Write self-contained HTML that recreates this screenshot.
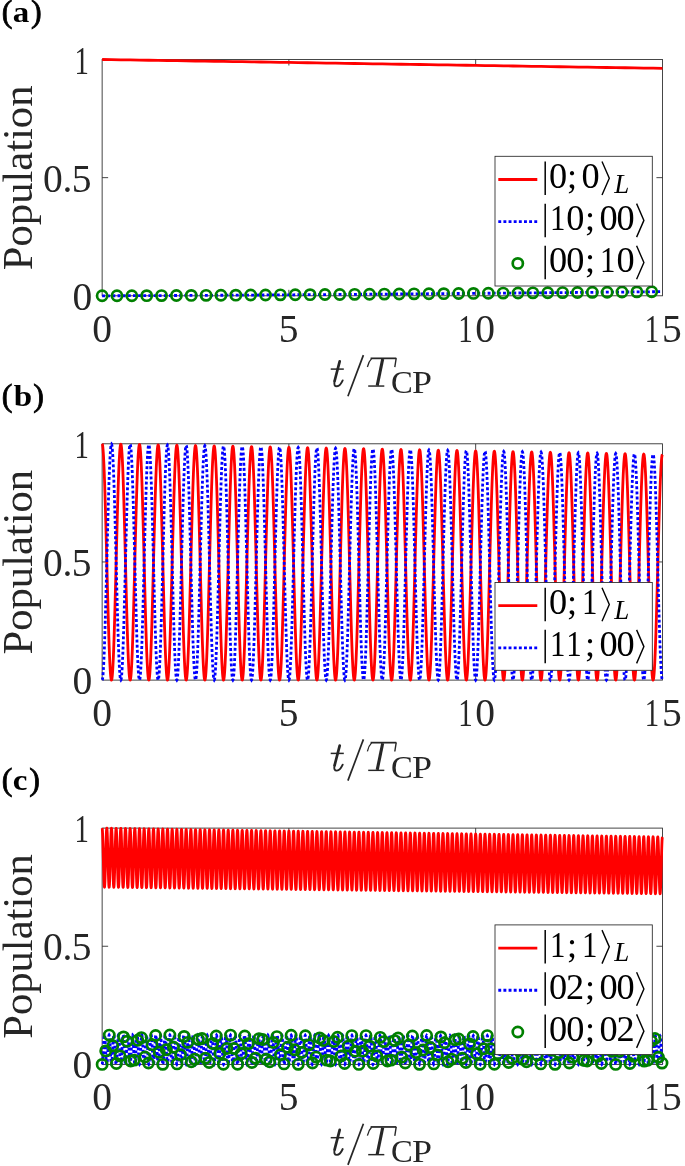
<!DOCTYPE html>
<html><head><meta charset="utf-8"><style>
html,body{margin:0;padding:0;background:#fff;}
svg{display:block;will-change:transform;}
text{font-family:"Liberation Serif",serif;fill:#000;}
circle{fill:none;stroke:#008000;stroke-width:2.7;}
</style></head><body>
<svg width="685" height="1166" viewBox="0 0 685 1166">
<rect width="685" height="1166" fill="#fff"/>
<path d="M288.89 295.80V289.80M288.89 59.50V65.50M475.66 295.80V289.80M475.66 59.50V65.50M102.13 177.65H108.13M662.43 177.65H656.43" stroke="#262626" stroke-width="0.85" fill="none"/>
<rect x="102.13" y="59.50" width="560.30" height="236.30" stroke="#262626" stroke-width="0.85" fill="none"/>
<path d="M102.13 59.5L111.47 59.65L120.81 59.8L130.14 59.94L139.48 60.09L148.82 60.24L158.16 60.39L167.5 60.53L176.84 60.68L186.17 60.83L195.51 60.98L204.85 61.12L214.19 61.27L223.53 61.42L232.87 61.57L242.2 61.72L251.54 61.86L260.88 62.01L270.22 62.16L279.56 62.31L288.9 62.45L298.23 62.6L307.57 62.75L316.91 62.9L326.25 63.04L335.59 63.19L344.92 63.34L354.26 63.49L363.6 63.64L372.94 63.78L382.28 63.93L391.62 64.08L400.95 64.23L410.29 64.37L419.63 64.52L428.97 64.67L438.31 64.82L447.65 64.96L456.98 65.11L466.32 65.26L475.66 65.41L485 65.56L494.34 65.7L503.67 65.85L513.01 66L522.35 66.15L531.69 66.29L541.03 66.44L550.37 66.59L559.7 66.74L569.04 66.88L578.38 67.03L587.72 67.18L597.06 67.33L606.4 67.48L615.73 67.62L625.07 67.77L634.41 67.92L643.75 68.07L653.09 68.21L662.42 68.36" stroke="#ff0000" stroke-width="2.8" fill="none"/>
<path d="M102.13 295.8L106.8 295.79L111.47 295.78L116.14 295.77L120.81 295.75L125.48 295.73L130.14 295.72L134.81 295.7L139.48 295.68L144.15 295.66L148.82 295.64L153.49 295.61L158.16 295.59L162.83 295.57L167.5 295.55L172.17 295.52L176.84 295.5L181.51 295.47L186.17 295.45L190.84 295.42L195.51 295.4L200.18 295.37L204.85 295.34L209.52 295.32L214.19 295.29L218.86 295.26L223.53 295.23L228.2 295.21L232.87 295.18L237.53 295.15L242.2 295.12L246.87 295.09L251.54 295.06L256.21 295.03L260.88 295L265.55 294.97L270.22 294.94L274.89 294.9L279.56 294.87L284.23 294.84L288.9 294.81L293.56 294.78L298.23 294.74L302.9 294.71L307.57 294.68L312.24 294.64L316.91 294.61L321.58 294.58L326.25 294.54L330.92 294.51L335.59 294.47L340.26 294.44L344.92 294.41L349.59 294.37L354.26 294.34L358.93 294.3L363.6 294.26L368.27 294.23L372.94 294.19L377.61 294.16L382.28 294.12L386.95 294.08L391.62 294.05L396.28 294.01L400.95 293.97L405.62 293.94L410.29 293.9L414.96 293.86L419.63 293.82L424.3 293.79L428.97 293.75L433.64 293.71L438.31 293.67L442.98 293.63L447.65 293.59L452.31 293.56L456.98 293.52L461.65 293.48L466.32 293.44L470.99 293.4L475.66 293.36L480.33 293.32L485 293.28L489.67 293.24L494.34 293.2L499.01 293.16L503.67 293.12L508.34 293.08L513.01 293.04L517.68 293L522.35 292.96L527.02 292.91L531.69 292.87L536.36 292.83L541.03 292.79L545.7 292.75L550.37 292.71L555.04 292.66L559.7 292.62L564.37 292.58L569.04 292.54L573.71 292.49L578.38 292.45L583.05 292.41L587.72 292.37L592.39 292.32L597.06 292.28L601.73 292.24L606.4 292.19L611.06 292.15L615.73 292.11L620.4 292.06L625.07 292.02L629.74 291.98L634.41 291.93L639.08 291.89L643.75 291.84L648.42 291.8L653.09 291.75L657.76 291.71L662.42 291.66" stroke="#0000ff" stroke-width="2.8" fill="none" stroke-dasharray="2.9 2.24"/>
<circle cx="102.13" cy="295.80" r="5.1"/><circle cx="116.98" cy="295.76" r="5.1"/><circle cx="131.84" cy="295.71" r="5.1"/><circle cx="146.69" cy="295.65" r="5.1"/><circle cx="161.55" cy="295.58" r="5.1"/><circle cx="176.40" cy="295.50" r="5.1"/><circle cx="191.25" cy="295.42" r="5.1"/><circle cx="206.11" cy="295.34" r="5.1"/><circle cx="220.96" cy="295.25" r="5.1"/><circle cx="235.81" cy="295.16" r="5.1"/><circle cx="250.67" cy="295.06" r="5.1"/><circle cx="265.52" cy="294.97" r="5.1"/><circle cx="280.38" cy="294.87" r="5.1"/><circle cx="295.23" cy="294.76" r="5.1"/><circle cx="310.08" cy="294.66" r="5.1"/><circle cx="324.94" cy="294.55" r="5.1"/><circle cx="339.79" cy="294.44" r="5.1"/><circle cx="354.64" cy="294.33" r="5.1"/><circle cx="369.50" cy="294.22" r="5.1"/><circle cx="384.35" cy="294.10" r="5.1"/><circle cx="399.21" cy="293.99" r="5.1"/><circle cx="414.06" cy="293.87" r="5.1"/><circle cx="428.91" cy="293.75" r="5.1"/><circle cx="443.77" cy="293.63" r="5.1"/><circle cx="458.62" cy="293.50" r="5.1"/><circle cx="473.47" cy="293.38" r="5.1"/><circle cx="488.33" cy="293.25" r="5.1"/><circle cx="503.18" cy="293.12" r="5.1"/><circle cx="518.04" cy="292.99" r="5.1"/><circle cx="532.89" cy="292.86" r="5.1"/><circle cx="547.74" cy="292.73" r="5.1"/><circle cx="562.60" cy="292.60" r="5.1"/><circle cx="577.45" cy="292.46" r="5.1"/><circle cx="592.31" cy="292.32" r="5.1"/><circle cx="607.16" cy="292.19" r="5.1"/><circle cx="622.01" cy="292.05" r="5.1"/><circle cx="636.87" cy="291.91" r="5.1"/><circle cx="651.72" cy="291.77" r="5.1"/>
<text transform="translate(74.47 73.80) scale(0.73 1)" style="font-size:39.5px;fill:#262626;">1</text><text x="43.10" y="191.80" style="font-size:39.5px;fill:#262626;">0</text><text x="62.40" y="191.80" style="font-size:39.5px;fill:#262626;">.</text><text x="71.80" y="191.80" style="font-size:39.5px;fill:#262626;">5</text><text x="72.40" y="309.80" style="font-size:39.5px;fill:#262626;">0</text><text x="92.30" y="341.70" style="font-size:39.5px;fill:#262626;">0</text><text x="278.80" y="341.70" style="font-size:39.5px;fill:#262626;">5</text><text transform="translate(458.27 341.70) scale(0.73 1)" style="font-size:39.5px;fill:#262626;">1</text><text x="475.30" y="341.70" style="font-size:39.5px;fill:#262626;">0</text><text transform="translate(644.77 341.70) scale(0.73 1)" style="font-size:39.5px;fill:#262626;">1</text><text x="661.90" y="341.70" style="font-size:39.5px;fill:#262626;">5</text><text transform="translate(31.9 177.85) rotate(-90)" text-anchor="middle" style="font-size:42.6px;fill:#262626">Population</text><path d="M339.7 361.30L334.6 381.00" stroke="#262626" stroke-width="2.7" stroke-linecap="round" fill="none"/><path d="M334.6 381.00Q333.4 386.40 336.9 386.30Q340.2 386.00 342.7 380.40" stroke="#262626" stroke-width="1.9" stroke-linecap="round" fill="none"/><path d="M330.7 369.10H343.8" stroke="#262626" stroke-width="1.5" fill="none"/><path d="M347.9 396.30L363.4 355.10" stroke="#262626" stroke-width="1.7"/><g stroke="#262626" fill="none"><path d="M370.6 358.35H396.3" stroke-width="1.75"/><path d="M371.6 358.60Q368.6 361.50 367.4 367.00" stroke-width="1.3"/><path d="M396.2 358.20L394.8 367.20" stroke-width="1.4"/><path d="M382.7 359.00L377.2 385.60" stroke-width="3.1"/><path d="M368.2 386.05H384.3" stroke-width="1.45"/></g><text x="390.96" y="393.20" style="font-size:32.6px;fill:#262626;">C</text><text transform="translate(412.07 393.20) scale(1.1 1)" style="font-size:32.6px;fill:#262626;">P</text>
<rect x="495" y="156.30" width="157.3" height="129.70" fill="#fff" stroke="#262626" stroke-width="0.85"/><path d="M498.3 179.50H537.3" stroke="#ff0000" stroke-width="2.8"/><path d="M545.2 161.50V195.00" stroke="#000" stroke-width="1.5"/><text x="548.92" y="188.10" style="font-size:36.3px;">0</text><text x="567.12" y="188.10" style="font-size:36.3px;">;</text><text x="581.62" y="188.10" style="font-size:36.3px;">0</text><path d="M602.00 161.50L609.30 178.25L602.00 195.00" stroke="#000" stroke-width="1.4" fill="none" stroke-miterlimit="10"/><text x="614.32" y="192.60" style="font-size:27px;font-style:italic;">L</text><path d="M498.3 221.65H537.3" stroke="#0000ff" stroke-width="2.8" stroke-dasharray="2.9 2.24"/><path d="M545.2 203.65V237.15" stroke="#000" stroke-width="1.5"/><text transform="translate(549.99 230.25) scale(0.85 1)" style="font-size:36.3px;">1</text><text x="566.22" y="230.25" style="font-size:36.3px;">0</text><text x="585.12" y="230.25" style="font-size:36.3px;">;</text><text x="599.62" y="230.25" style="font-size:36.3px;">0</text><text x="616.62" y="230.25" style="font-size:36.3px;">0</text><path d="M636.60 203.65L643.90 220.40L636.60 237.15" stroke="#000" stroke-width="1.4" fill="none" stroke-miterlimit="10"/><circle cx="517.8" cy="263.40" r="5.1" class="gc"/><path d="M545.2 245.80V279.30" stroke="#000" stroke-width="1.5"/><text x="549.12" y="272.40" style="font-size:36.3px;">0</text><text x="566.22" y="272.40" style="font-size:36.3px;">0</text><text x="585.12" y="272.40" style="font-size:36.3px;">;</text><text transform="translate(599.89 272.40) scale(0.85 1)" style="font-size:36.3px;">1</text><text x="616.62" y="272.40" style="font-size:36.3px;">0</text><path d="M636.60 245.80L643.90 262.55L636.60 279.30" stroke="#000" stroke-width="1.4" fill="none" stroke-miterlimit="10"/>
<path d="M288.89 680.10V674.10M288.89 443.80V449.80M475.66 680.10V674.10M475.66 443.80V449.80M102.13 561.95H108.13M662.43 561.95H656.43" stroke="#262626" stroke-width="0.85" fill="none"/>
<rect x="102.13" y="443.80" width="560.30" height="236.30" stroke="#262626" stroke-width="0.85" fill="none"/>
<path d="M102.13 443.8L102.36 444.17L102.6 445.26L102.83 447.08L103.06 449.6L103.3 452.81L103.53 456.7L103.76 461.24L104 466.4L104.23 472.14L104.46 478.44L104.7 485.26L104.93 492.55L105.16 500.26L105.4 508.36L105.63 516.78L105.87 525.49L106.1 534.41L106.33 543.51L106.57 552.73L106.8 561.99L107.03 571.26L107.27 580.47L107.5 589.57L107.73 598.5L107.97 607.2L108.2 615.62L108.43 623.71L108.67 631.42L108.9 638.7L109.13 645.51L109.37 651.81L109.6 657.55L109.83 662.7L110.07 667.23L110.3 671.11L110.53 674.32L110.77 676.84L111 678.65L111.23 679.74L111.47 680.1L111.7 679.74L111.94 678.65L112.17 676.84L112.4 674.32L112.64 671.11L112.87 667.23L113.1 662.7L113.34 657.56L113.57 651.82L113.8 645.53L114.04 638.72L114.27 631.44L114.5 623.74L114.74 615.65L114.97 607.24L115.2 598.55L115.44 589.63L115.67 580.54L115.9 571.34L116.14 562.08L116.37 552.83L116.6 543.63L116.84 534.54L117.07 525.63L117.3 516.94L117.54 508.52L117.77 500.44L118.01 492.74L118.24 485.47L118.47 478.67L118.71 472.38L118.94 466.65L119.17 461.51L119.41 456.99L119.64 453.11L119.87 449.91L120.11 447.4L120.34 445.6L120.57 444.51L120.81 444.15L121.04 444.52L121.27 445.62L121.51 447.43L121.74 449.95L121.97 453.16L122.21 457.04L122.44 461.57L122.67 466.72L122.91 472.46L123.14 478.75L123.37 485.55L123.61 492.83L123.84 500.53L124.07 508.61L124.31 517.03L124.54 525.72L124.78 534.63L125.01 543.72L125.24 552.92L125.48 562.17L125.71 571.43L125.94 580.62L126.18 589.71L126.41 598.62L126.64 607.31L126.88 615.72L127.11 623.8L127.34 631.5L127.58 638.77L127.81 645.57L128.04 651.85L128.28 657.58L128.51 662.73L128.74 667.25L128.98 671.13L129.21 674.33L129.44 676.84L129.68 678.65L129.91 679.74L130.14 680.1L130.38 679.74L130.61 678.65L130.85 676.84L131.08 674.33L131.31 671.13L131.55 667.25L131.78 662.73L132.01 657.59L132.25 651.86L132.48 645.58L132.71 638.78L132.95 631.52L133.18 623.82L133.41 615.75L133.65 607.35L133.88 598.67L134.11 589.76L134.35 580.69L134.58 571.5L134.81 562.26L135.05 553.02L135.28 543.83L135.51 534.76L135.75 525.86L135.98 517.18L136.21 508.78L136.45 500.71L136.68 493.02L136.91 485.76L137.15 478.97L137.38 472.7L137.62 466.97L137.85 461.84L138.08 457.32L138.32 453.45L138.55 450.26L138.78 447.75L139.02 445.95L139.25 444.87L139.48 444.51L139.72 444.88L139.95 445.97L140.18 447.78L140.42 450.29L140.65 453.5L140.88 457.37L141.12 461.9L141.35 467.04L141.58 472.77L141.82 479.05L142.05 485.84L142.28 493.11L142.52 500.8L142.75 508.87L142.98 517.27L143.22 525.95L143.45 534.85L143.69 543.92L143.92 553.11L144.15 562.35L144.39 571.59L144.62 580.77L144.85 589.84L145.09 598.74L145.32 607.42L145.55 615.81L145.79 623.88L146.02 631.57L146.25 638.83L146.49 645.62L146.72 651.89L146.95 657.62L147.19 662.75L147.42 667.27L147.65 671.14L147.89 674.34L148.12 676.85L148.35 678.65L148.59 679.74L148.82 680.1L149.05 679.74L149.29 678.65L149.52 676.85L149.76 674.34L149.99 671.14L150.22 667.27L150.46 662.76L150.69 657.62L150.92 651.9L151.16 645.63L151.39 638.85L151.62 631.59L151.86 623.91L152.09 615.85L152.32 607.46L152.56 598.79L152.79 589.9L153.02 580.84L153.26 571.67L153.49 562.44L153.72 553.21L153.96 544.04L154.19 534.98L154.42 526.09L154.66 517.43L154.89 509.04L155.12 500.98L155.36 493.31L155.59 486.05L155.82 479.28L156.06 473.01L156.29 467.29L156.53 462.17L156.76 457.66L156.99 453.8L157.23 450.6L157.46 448.1L157.69 446.3L157.93 445.22L158.16 444.86L158.39 445.23L158.63 446.32L158.86 448.13L159.09 450.64L159.33 453.84L159.56 457.71L159.79 462.22L160.03 467.36L160.26 473.08L160.49 479.35L160.73 486.13L160.96 493.39L161.19 501.07L161.43 509.13L161.66 517.52L161.89 526.18L162.13 535.07L162.36 544.13L162.6 553.3L162.83 562.53L163.06 571.75L163.3 580.92L163.53 589.98L163.76 598.86L164 607.53L164.23 615.91L164.46 623.97L164.7 631.64L164.93 638.89L165.16 645.67L165.4 651.94L165.63 657.65L165.86 662.78L166.1 667.29L166.33 671.15L166.56 674.35L166.8 676.85L167.03 678.65L167.26 679.74L167.5 680.1L167.73 679.74L167.96 678.65L168.2 676.85L168.43 674.35L168.67 671.15L168.9 667.29L169.13 662.78L169.37 657.66L169.6 651.95L169.83 645.68L170.07 638.91L170.3 631.66L170.53 623.99L170.77 615.94L171 607.57L171.23 598.91L171.47 590.04L171.7 580.99L171.93 571.83L172.17 562.61L172.4 553.4L172.63 544.24L172.87 535.2L173.1 526.32L173.33 517.67L173.57 509.3L173.8 501.25L174.03 493.59L174.27 486.35L174.5 479.58L174.73 473.32L174.97 467.61L175.2 462.5L175.44 457.99L175.67 454.14L175.9 450.95L176.14 448.45L176.37 446.65L176.6 445.58L176.84 445.22L177.07 445.58L177.3 446.67L177.54 448.48L177.77 450.98L178 454.18L178.24 458.04L178.47 462.55L178.7 467.68L178.94 473.39L179.17 479.65L179.4 486.43L179.64 493.67L179.87 501.34L180.1 509.39L180.34 517.76L180.57 526.41L180.8 535.29L181.04 544.33L181.27 553.49L181.51 562.7L181.74 571.92L181.97 581.07L182.21 590.11L182.44 598.99L182.67 607.64L182.91 616.01L183.14 624.05L183.37 631.71L183.61 638.95L183.84 645.72L184.07 651.98L184.31 657.68L184.54 662.8L184.77 667.31L185.01 671.17L185.24 674.36L185.47 676.86L185.71 678.66L185.94 679.74L186.17 680.1L186.41 679.74L186.64 678.66L186.87 676.86L187.11 674.36L187.34 671.17L187.57 667.31L187.81 662.81L188.04 657.69L188.28 651.99L188.51 645.73L188.74 638.97L188.98 631.74L189.21 624.08L189.44 616.04L189.68 607.68L189.91 599.04L190.14 590.17L190.38 581.14L190.61 571.99L190.84 562.79L191.08 553.59L191.31 544.45L191.54 535.41L191.78 526.55L192.01 517.92L192.24 509.55L192.48 501.52L192.71 493.87L192.94 486.64L193.18 479.88L193.41 473.63L193.64 467.94L193.88 462.82L194.11 458.33L194.35 454.48L194.58 451.29L194.81 448.8L195.05 447.01L195.28 445.93L195.51 445.57L195.75 445.94L195.98 447.02L196.21 448.83L196.45 451.33L196.68 454.52L196.91 458.38L197.15 462.88L197.38 468L197.61 473.7L197.85 479.96L198.08 486.72L198.31 493.95L198.55 501.61L198.78 509.64L199.01 518.01L199.25 526.65L199.48 535.51L199.71 544.54L199.95 553.68L200.18 562.88L200.42 572.08L200.65 581.22L200.88 590.25L201.12 599.11L201.35 607.75L201.58 616.1L201.82 624.13L202.05 631.79L202.28 639.02L202.52 645.77L202.75 652.02L202.98 657.72L203.22 662.83L203.45 667.33L203.68 671.18L203.92 674.36L204.15 676.86L204.38 678.66L204.62 679.74L204.85 680.1L205.08 679.74L205.32 678.66L205.55 676.86L205.78 674.37L206.02 671.18L206.25 667.33L206.48 662.84L206.72 657.72L206.95 652.03L207.19 645.79L207.42 639.03L207.65 631.81L207.89 624.16L208.12 616.14L208.35 607.79L208.59 599.16L208.82 590.31L209.05 581.29L209.29 572.16L209.52 562.97L209.75 553.78L209.99 544.65L210.22 535.63L210.45 526.79L210.69 518.16L210.92 509.81L211.15 501.79L211.39 494.15L211.62 486.93L211.85 480.18L212.09 473.94L212.32 468.26L212.55 463.15L212.79 458.66L213.02 454.82L213.26 451.64L213.49 449.15L213.72 447.36L213.96 446.28L214.19 445.93L214.42 446.29L214.66 447.38L214.89 449.17L215.12 451.67L215.36 454.86L215.59 458.71L215.82 463.21L216.06 468.32L216.29 474.02L216.52 480.26L216.76 487.01L216.99 494.23L217.22 501.88L217.46 509.9L217.69 518.25L217.92 526.88L218.16 535.73L218.39 544.74L218.62 553.87L218.86 563.06L219.09 572.24L219.33 581.37L219.56 590.39L219.79 599.23L220.03 607.85L220.26 616.2L220.49 624.22L220.73 631.86L220.96 639.08L221.19 645.83L221.43 652.06L221.66 657.75L221.89 662.86L222.13 667.35L222.36 671.19L222.59 674.37L222.83 676.87L223.06 678.66L223.29 679.74L223.53 680.1L223.76 679.74L223.99 678.66L224.23 676.87L224.46 674.37L224.69 671.19L224.93 667.35L225.16 662.86L225.39 657.76L225.63 652.07L225.86 645.84L226.1 639.09L226.33 631.88L226.56 624.25L226.8 616.23L227.03 607.9L227.26 599.28L227.5 590.44L227.73 581.44L227.96 572.32L228.2 563.15L228.43 553.97L228.66 544.86L228.9 535.85L229.13 527.02L229.36 518.41L229.6 510.07L229.83 502.06L230.06 494.43L230.3 487.22L230.53 480.49L230.76 474.26L231 468.58L231.23 463.48L231.46 459L231.7 455.16L231.93 451.99L232.17 449.5L232.4 447.71L232.63 446.64L232.87 446.28L233.1 446.65L233.33 447.73L233.57 449.52L233.8 452.02L234.03 455.2L234.27 459.05L234.5 463.54L234.73 468.64L234.97 474.33L235.2 480.56L235.43 487.3L235.67 494.52L235.9 502.15L236.13 510.16L236.37 518.5L236.6 527.11L236.83 535.95L237.07 544.95L237.3 554.06L237.53 563.23L237.77 572.41L238 581.52L238.23 590.52L238.47 599.35L238.7 607.96L238.94 616.3L239.17 624.3L239.4 631.93L239.64 639.14L239.87 645.88L240.1 652.11L240.34 657.79L240.57 662.88L240.8 667.37L241.04 671.21L241.27 674.38L241.5 676.87L241.74 678.66L241.97 679.74L242.2 680.1L242.44 679.74L242.67 678.66L242.9 676.87L243.14 674.38L243.37 671.21L243.6 667.37L243.84 662.89L244.07 657.79L244.3 652.12L244.54 645.89L244.77 639.16L245.01 631.96L245.24 624.33L245.47 616.33L245.71 608.01L245.94 599.4L246.17 590.58L246.41 581.59L246.64 572.48L246.87 563.32L247.11 554.16L247.34 545.06L247.57 536.07L247.81 527.25L248.04 518.65L248.27 510.33L248.51 502.33L248.74 494.71L248.97 487.52L249.21 480.79L249.44 474.57L249.67 468.9L249.91 463.81L250.14 459.33L250.37 455.5L250.61 452.33L250.84 449.85L251.08 448.06L251.31 446.99L251.54 446.64L251.78 447L252.01 448.08L252.24 449.87L252.48 452.37L252.71 455.54L252.94 459.38L253.18 463.87L253.41 468.96L253.64 474.64L253.88 480.86L254.11 487.6L254.34 494.8L254.58 502.42L254.81 510.42L255.04 518.74L255.28 527.34L255.51 536.16L255.74 545.15L255.98 554.25L256.21 563.41L256.44 572.57L256.68 581.67L256.91 590.66L257.14 599.48L257.38 608.07L257.61 616.39L257.85 624.39L258.08 632.01L258.31 639.2L258.55 645.93L258.78 652.15L259.01 657.82L259.25 662.91L259.48 667.39L259.71 671.22L259.95 674.39L260.18 676.88L260.41 678.66L260.65 679.74L260.88 680.1L261.11 679.74L261.35 678.66L261.58 676.88L261.81 674.39L262.05 671.22L262.28 667.39L262.51 662.91L262.75 657.83L262.98 652.16L263.21 645.94L263.45 639.22L263.68 632.03L263.92 624.42L264.15 616.43L264.38 608.11L264.62 599.53L264.85 590.72L265.08 581.74L265.32 572.65L265.55 563.5L265.78 554.35L266.02 545.27L266.25 536.29L266.48 527.48L266.72 518.9L266.95 510.59L267.18 502.6L267.42 494.99L267.65 487.81L267.88 481.09L268.12 474.88L268.35 469.22L268.58 464.14L268.82 459.67L269.05 455.84L269.28 452.68L269.52 450.2L269.75 448.42L269.99 447.34L270.22 446.99L270.45 447.35L270.69 448.43L270.92 450.22L271.15 452.71L271.39 455.88L271.62 459.72L271.85 464.19L272.09 469.28L272.32 474.95L272.55 481.17L272.79 487.89L273.02 495.08L273.25 502.69L273.49 510.68L273.72 518.99L273.95 527.57L274.19 536.38L274.42 545.36L274.65 554.45L274.89 563.59L275.12 572.73L275.35 581.82L275.59 590.79L275.82 599.6L276.05 608.18L276.29 616.49L276.52 624.47L276.76 632.08L276.99 639.26L277.22 645.98L277.46 652.19L277.69 657.85L277.92 662.94L278.16 667.4L278.39 671.23L278.62 674.4L278.86 676.88L279.09 678.67L279.32 679.74L279.56 680.1L279.79 679.74L280.02 678.67L280.26 676.88L280.49 674.4L280.72 671.24L280.96 667.41L281.19 662.94L281.42 657.86L281.66 652.2L281.89 645.99L282.12 639.28L282.36 632.1L282.59 624.5L282.83 616.53L283.06 608.22L283.29 599.65L283.53 590.85L283.76 581.89L283.99 572.81L284.23 563.68L284.46 554.55L284.69 545.47L284.93 536.51L285.16 527.71L285.39 519.14L285.63 510.84L285.86 502.87L286.09 495.27L286.33 488.1L286.56 481.39L286.79 475.19L287.03 469.54L287.26 464.47L287.49 460L287.73 456.18L287.96 453.02L288.19 450.55L288.43 448.77L288.66 447.7L288.9 447.34L289.13 447.71L289.36 448.79L289.6 450.57L289.83 453.06L290.06 456.22L290.3 460.05L290.53 464.52L290.76 469.6L291 475.26L291.23 481.47L291.46 488.18L291.7 495.36L291.93 502.96L292.16 510.93L292.4 519.23L292.63 527.81L292.86 536.6L293.1 545.56L293.33 554.64L293.56 563.77L293.8 572.9L294.03 581.97L294.26 590.93L294.5 599.72L294.73 608.29L294.96 616.59L295.2 624.56L295.43 632.15L295.67 639.33L295.9 646.03L296.13 652.23L296.37 657.89L296.6 662.96L296.83 667.42L297.07 671.25L297.3 674.41L297.53 676.89L297.77 678.67L298 679.74L298.23 680.1L298.47 679.74L298.7 678.67L298.93 676.89L299.17 674.41L299.4 671.25L299.63 667.43L299.87 662.97L300.1 657.89L300.33 652.24L300.57 646.05L300.8 639.34L301.03 632.17L301.27 624.59L301.5 616.62L301.74 608.33L301.97 599.77L302.2 590.99L302.44 582.04L302.67 572.97L302.9 563.86L303.14 554.74L303.37 545.68L303.6 536.73L303.84 527.95L304.07 519.39L304.3 511.1L304.54 503.14L304.77 495.56L305 488.39L305.24 481.7L305.47 475.5L305.7 469.86L305.94 464.79L306.17 460.34L306.4 456.52L306.64 453.37L306.87 450.9L307.1 449.12L307.34 448.05L307.57 447.7L307.8 448.06L308.04 449.14L308.27 450.92L308.51 453.4L308.74 456.57L308.97 460.39L309.21 464.85L309.44 469.92L309.67 475.58L309.91 481.77L310.14 488.47L310.37 495.64L310.61 503.23L310.84 511.19L311.07 519.48L311.31 528.04L311.54 536.82L311.77 545.77L312.01 554.83L312.24 563.94L312.47 573.06L312.71 582.12L312.94 591.07L313.17 599.84L313.41 608.4L313.64 616.68L313.87 624.64L314.11 632.23L314.34 639.39L314.58 646.09L314.81 652.28L315.04 657.92L315.28 662.99L315.51 667.44L315.74 671.26L315.98 674.42L316.21 676.89L316.44 678.67L316.68 679.74L316.91 680.1L317.14 679.74L317.38 678.67L317.61 676.89L317.84 674.42L318.08 671.26L318.31 667.45L318.54 662.99L318.78 657.93L319.01 652.29L319.24 646.1L319.48 639.41L319.71 632.25L319.94 624.67L320.18 616.72L320.41 608.44L320.65 599.89L320.88 591.12L321.11 582.19L321.35 573.14L321.58 564.03L321.81 554.93L322.05 545.88L322.28 536.95L322.51 528.18L322.75 519.63L322.98 511.36L323.21 503.41L323.45 495.84L323.68 488.69L323.91 482L324.15 475.82L324.38 470.18L324.61 465.12L324.85 460.67L325.08 456.86L325.31 453.71L325.55 451.25L325.78 449.47L326.01 448.41L326.25 448.05L326.48 448.42L326.71 449.49L326.95 451.27L327.18 453.75L327.42 456.91L327.65 460.72L327.88 465.18L328.12 470.24L328.35 475.89L328.58 482.07L328.82 488.77L329.05 495.92L329.28 503.5L329.52 511.45L329.75 519.72L329.98 528.27L330.22 537.04L330.45 545.97L330.68 555.02L330.92 564.12L331.15 573.22L331.38 582.27L331.62 591.2L331.85 599.97L332.08 608.51L332.32 616.78L332.55 624.73L332.78 632.3L333.02 639.45L333.25 646.14L333.49 652.32L333.72 657.96L333.95 663.01L334.19 667.46L334.42 671.27L334.65 674.43L334.89 676.9L335.12 678.67L335.35 679.74L335.59 680.1L335.82 679.74L336.05 678.67L336.29 676.9L336.52 674.43L336.75 671.28L336.99 667.47L337.22 663.02L337.45 657.96L337.69 652.33L337.92 646.15L338.15 639.47L338.39 632.32L338.62 624.75L338.85 616.82L339.09 608.55L339.32 600.02L339.56 591.26L339.79 582.34L340.02 573.3L340.26 564.21L340.49 555.12L340.72 546.09L340.96 537.16L341.19 528.41L341.42 519.88L341.66 511.62L341.89 503.68L342.12 496.12L342.36 488.98L342.59 482.3L342.82 476.13L343.06 470.5L343.29 465.45L343.52 461.01L343.76 457.2L343.99 454.06L344.22 451.6L344.46 449.83L344.69 448.76L344.92 448.41L345.16 448.77L345.39 449.84L345.62 451.62L345.86 454.1L346.09 457.25L346.33 461.06L346.56 465.51L346.79 470.56L347.03 476.2L347.26 482.38L347.49 489.06L347.73 496.2L347.96 503.77L348.19 511.71L348.43 519.97L348.66 528.5L348.89 537.26L349.13 546.18L349.36 555.21L349.59 564.3L349.83 573.39L350.06 582.42L350.29 591.34L350.53 600.09L350.76 608.62L350.99 616.88L351.23 624.81L351.46 632.37L351.69 639.51L351.93 646.19L352.16 652.36L352.4 657.99L352.63 663.04L352.86 667.48L353.1 671.29L353.33 674.43L353.56 676.9L353.8 678.67L354.03 679.74L354.26 680.1L354.5 679.74L354.73 678.67L354.96 676.9L355.2 674.43L355.43 671.29L355.66 667.48L355.9 663.04L356.13 658L356.36 652.37L356.6 646.2L356.83 639.53L357.06 632.39L357.3 624.84L357.53 616.91L357.76 608.66L358 600.14L358.23 591.39L358.46 582.48L358.7 573.46L358.93 564.39L359.17 555.31L359.4 546.29L359.63 537.38L359.87 528.64L360.1 520.12L360.33 511.87L360.57 503.95L360.8 496.4L361.03 489.27L361.27 482.6L361.5 476.44L361.73 470.82L361.97 465.78L362.2 461.34L362.43 457.55L362.67 454.41L362.9 451.95L363.13 450.18L363.37 449.11L363.6 448.76L363.83 449.12L364.07 450.2L364.3 451.97L364.53 454.44L364.77 457.59L365 461.39L365.24 465.84L365.47 470.89L365.7 476.51L365.94 482.68L366.17 489.35L366.4 496.48L366.64 504.04L366.87 511.96L367.1 520.21L367.34 528.73L367.57 537.48L367.8 546.38L368.04 555.4L368.27 564.48L368.5 573.55L368.74 582.57L368.97 591.47L369.2 600.21L369.44 608.73L369.67 616.98L369.9 624.9L370.14 632.45L370.37 639.57L370.6 646.24L370.84 652.4L371.07 658.02L371.31 663.07L371.54 667.5L371.77 671.3L372.01 674.44L372.24 676.91L372.47 678.68L372.71 679.74L372.94 680.1L373.17 679.74L373.41 678.68L373.64 676.91L373.87 674.44L374.11 671.3L374.34 667.5L374.57 663.07L374.81 658.03L375.04 652.41L375.27 646.25L375.51 639.59L375.74 632.47L375.97 624.92L376.21 617.01L376.44 608.77L376.67 600.26L376.91 591.53L377.14 582.63L377.37 573.63L377.61 564.56L377.84 555.5L378.08 546.5L378.31 537.6L378.54 528.87L378.78 520.37L379.01 512.13L379.24 504.22L379.48 496.68L379.71 489.56L379.94 482.91L380.18 476.75L380.41 471.14L380.64 466.11L380.88 461.68L381.11 457.89L381.34 454.75L381.58 452.29L381.81 450.53L382.04 449.47L382.28 449.12L382.51 449.48L382.74 450.55L382.98 452.32L383.21 454.79L383.44 457.93L383.68 461.73L383.91 466.16L384.15 471.21L384.38 476.82L384.61 482.98L384.85 489.64L385.08 496.77L385.31 504.31L385.55 512.22L385.78 520.46L386.01 528.97L386.25 537.69L386.48 546.59L386.71 555.59L386.95 564.65L387.18 573.71L387.41 582.72L387.65 591.61L387.88 600.33L388.11 608.84L388.35 617.07L388.58 624.98L388.81 632.52L389.05 639.64L389.28 646.29L389.51 652.45L389.75 658.06L389.98 663.09L390.22 667.52L390.45 671.31L390.68 674.45L390.92 676.91L391.15 678.68L391.38 679.74L391.62 680.1L391.85 679.74L392.08 678.68L392.32 676.91L392.55 674.45L392.78 671.32L393.02 667.52L393.25 663.1L393.48 658.06L393.72 652.45L393.95 646.31L394.18 639.65L394.42 632.54L394.65 625.01L394.88 617.11L395.12 608.88L395.35 600.38L395.58 591.67L395.82 582.78L396.05 573.79L396.28 564.74L396.52 555.69L396.75 546.7L396.99 537.82L397.22 529.11L397.45 520.61L397.69 512.39L397.92 504.49L398.15 496.96L398.39 489.85L398.62 483.21L398.85 477.06L399.09 471.46L399.32 466.44L399.55 462.01L399.79 458.23L400.02 455.1L400.25 452.64L400.49 450.88L400.72 449.82L400.95 449.47L401.19 449.83L401.42 450.9L401.65 452.67L401.89 455.13L402.12 458.27L402.35 462.06L402.59 466.49L402.82 471.53L403.06 477.13L403.29 483.28L403.52 489.94L403.76 497.05L403.99 504.58L404.22 512.48L404.46 520.7L404.69 529.2L404.92 537.91L405.16 546.79L405.39 555.78L405.62 564.83L405.86 573.88L406.09 582.87L406.32 591.74L406.56 600.46L406.79 608.95L407.02 617.17L407.26 625.07L407.49 632.59L407.72 639.7L407.96 646.34L408.19 652.49L408.42 658.09L408.66 663.12L408.89 667.54L409.12 671.33L409.36 674.46L409.59 676.92L409.83 678.68L410.06 679.74L410.29 680.1L410.53 679.74L410.76 678.68L410.99 676.92L411.23 674.46L411.46 671.33L411.69 667.54L411.93 663.12L412.16 658.1L412.39 652.5L412.63 646.36L412.86 639.72L413.09 632.61L413.33 625.09L413.56 617.2L413.79 608.99L414.03 600.51L414.26 591.8L414.49 582.93L414.73 573.95L414.96 564.92L415.19 555.88L415.43 546.91L415.66 538.04L415.9 529.34L416.13 520.86L416.36 512.65L416.6 504.76L416.83 497.24L417.06 490.15L417.3 483.51L417.53 477.38L417.76 471.78L418 466.76L418.23 462.35L418.46 458.57L418.7 455.44L418.93 452.99L419.16 451.23L419.4 450.18L419.63 449.83L419.86 450.19L420.1 451.25L420.33 453.02L420.56 455.48L420.8 458.61L421.03 462.4L421.26 466.82L421.5 471.85L421.73 477.45L421.97 483.59L422.2 490.23L422.43 497.33L422.67 504.85L422.9 512.74L423.13 520.95L423.37 529.43L423.6 538.13L423.83 547L424.07 555.97L424.3 565.01L424.53 574.04L424.77 583.02L425 591.88L425.23 600.58L425.47 609.06L425.7 617.27L425.93 625.15L426.17 632.66L426.4 639.76L426.63 646.4L426.87 652.53L427.1 658.12L427.33 663.14L427.57 667.56L427.8 671.34L428.03 674.47L428.27 676.92L428.5 678.68L428.74 679.75L428.97 680.1L429.2 679.75L429.44 678.68L429.67 676.92L429.9 674.47L430.14 671.34L430.37 667.56L430.6 663.15L430.84 658.13L431.07 652.54L431.3 646.41L431.54 639.78L431.77 632.69L432 625.18L432.24 617.3L432.47 609.1L432.7 600.63L432.94 591.94L433.17 583.08L433.4 574.12L433.64 565.1L433.87 556.08L434.1 547.11L434.34 538.26L434.57 529.57L434.81 521.1L435.04 512.9L435.27 505.03L435.51 497.53L435.74 490.44L435.97 483.81L436.21 477.69L436.44 472.1L436.67 467.09L436.91 462.68L437.14 458.91L437.37 455.79L437.61 453.34L437.84 451.59L438.07 450.53L438.31 450.18L438.54 450.54L438.77 451.6L439.01 453.37L439.24 455.82L439.47 458.95L439.71 462.74L439.94 467.15L440.17 472.17L440.41 477.76L440.64 483.89L440.88 490.52L441.11 497.61L441.34 505.12L441.58 512.99L441.81 521.19L442.04 529.66L442.28 538.35L442.51 547.2L442.74 556.17L442.98 565.18L443.21 574.2L443.44 583.16L443.68 592.02L443.91 600.7L444.14 609.17L444.38 617.36L444.61 625.24L444.84 632.74L445.08 639.82L445.31 646.45L445.54 652.57L445.78 658.16L446.01 663.17L446.24 667.58L446.48 671.36L446.71 674.48L446.94 676.93L447.18 678.69L447.41 679.75L447.65 680.1L447.88 679.75L448.11 678.69L448.35 676.93L448.58 674.48L448.81 671.36L449.05 667.58L449.28 663.17L449.51 658.16L449.75 652.58L449.98 646.46L450.21 639.84L450.45 632.76L450.68 625.26L450.91 617.4L451.15 609.21L451.38 600.75L451.61 592.07L451.85 583.23L452.08 574.28L452.31 565.27L452.55 556.27L452.78 547.32L453.01 538.48L453.25 529.8L453.48 521.35L453.72 513.16L453.95 505.3L454.18 497.81L454.42 490.73L454.65 484.12L454.88 478L455.12 472.42L455.35 467.42L455.58 463.02L455.82 459.25L456.05 456.14L456.28 453.69L456.52 451.94L456.75 450.88L456.98 450.53L457.22 450.89L457.45 451.96L457.68 453.72L457.92 456.17L458.15 459.29L458.38 463.07L458.62 467.48L458.85 472.49L459.08 478.07L459.32 484.19L459.55 490.81L459.78 497.89L460.02 505.39L460.25 513.25L460.49 521.44L460.72 529.89L460.95 538.57L461.19 547.41L461.42 556.36L461.65 565.36L461.89 574.37L462.12 583.31L462.35 592.15L462.59 600.82L462.82 609.28L463.05 617.46L463.29 625.32L463.52 632.81L463.75 639.89L463.99 646.5L464.22 652.62L464.45 658.19L464.69 663.2L464.92 667.6L465.15 671.37L465.39 674.49L465.62 676.93L465.85 678.69L466.09 679.75L466.32 680.1L466.56 679.75L466.79 678.69L467.02 676.93L467.26 674.49L467.49 671.37L467.72 667.6L467.96 663.2L468.19 658.2L468.42 652.62L468.66 646.51L468.89 639.9L469.12 632.83L469.36 625.35L469.59 617.49L469.82 609.32L470.06 600.87L470.29 592.21L470.52 583.38L470.76 574.44L470.99 565.45L471.22 556.46L471.46 547.52L471.69 538.69L471.92 530.03L472.16 521.59L472.39 513.42L472.63 505.57L472.86 498.09L473.09 491.02L473.33 484.42L473.56 478.31L473.79 472.74L474.03 467.75L474.26 463.36L474.49 459.59L474.73 456.48L474.96 454.04L475.19 452.29L475.43 451.24L475.66 450.89L475.89 451.25L476.13 452.31L476.36 454.07L476.59 456.52L476.83 459.63L477.06 463.41L477.29 467.81L477.53 472.81L477.76 478.38L477.99 484.49L478.23 491.1L478.46 498.17L478.69 505.66L478.93 513.51L479.16 521.68L479.4 530.13L479.63 538.79L479.86 547.61L480.1 556.55L480.33 565.54L480.56 574.53L480.8 583.46L481.03 592.29L481.26 600.95L481.5 609.39L481.73 617.56L481.96 625.4L482.2 632.88L482.43 639.95L482.66 646.55L482.9 652.66L483.13 658.23L483.36 663.22L483.6 667.62L483.83 671.38L484.06 674.49L484.3 676.94L484.53 678.69L484.76 679.75L485 680.1L485.23 679.75L485.47 678.69L485.7 676.94L485.93 674.5L486.17 671.38L486.4 667.62L486.63 663.23L486.87 658.23L487.1 652.67L487.33 646.57L487.57 639.96L487.8 632.91L488.03 625.43L488.27 617.59L488.5 609.43L488.73 601L488.97 592.35L489.2 583.53L489.43 574.61L489.67 565.63L489.9 556.65L490.13 547.73L490.37 538.91L490.6 530.27L490.83 521.84L491.07 513.68L491.3 505.84L491.54 498.37L491.77 491.32L492 484.72L492.24 478.62L492.47 473.07L492.7 468.08L492.94 463.69L493.17 459.93L493.4 456.83L493.64 454.39L493.87 452.64L494.1 451.59L494.34 451.24L494.57 451.6L494.8 452.66L495.04 454.42L495.27 456.86L495.5 459.98L495.74 463.74L495.97 468.13L496.2 473.13L496.44 478.69L496.67 484.8L496.9 491.4L497.14 498.45L497.37 505.93L497.6 513.77L497.84 521.93L498.07 530.36L498.31 539.01L498.54 547.82L498.77 556.74L499.01 565.72L499.24 574.69L499.47 583.61L499.71 592.42L499.94 601.07L500.17 609.5L500.41 617.65L500.64 625.49L500.87 632.96L501.11 640.01L501.34 646.6L501.57 652.7L501.81 658.26L502.04 663.25L502.27 667.64L502.51 671.4L502.74 674.5L502.97 676.94L503.21 678.69L503.44 679.75L503.67 680.1L503.91 679.75L504.14 678.69L504.38 676.94L504.61 674.5L504.84 671.4L505.08 667.64L505.31 663.25L505.54 658.27L505.78 652.71L506.01 646.62L506.24 640.03L506.48 632.98L506.71 625.52L506.94 617.69L507.18 609.54L507.41 601.12L507.64 592.48L507.88 583.68L508.11 574.77L508.34 565.8L508.58 556.84L508.81 547.93L509.04 539.13L509.28 530.5L509.51 522.08L509.74 513.93L509.98 506.11L510.21 498.65L510.44 491.61L510.68 485.02L510.91 478.94L511.15 473.39L511.38 468.41L511.61 464.03L511.85 460.27L512.08 457.17L512.31 454.74L512.55 453L512.78 451.95L513.01 451.6L513.25 451.95L513.48 453.01L513.71 454.77L513.95 457.21L514.18 460.32L514.41 464.08L514.65 468.46L514.88 473.45L515.11 479.01L515.35 485.1L515.58 491.69L515.81 498.74L516.05 506.2L516.28 514.03L516.51 522.17L516.75 530.59L516.98 539.22L517.22 548.02L517.45 556.93L517.68 565.89L517.92 574.86L518.15 583.76L518.38 592.56L518.62 601.19L518.85 609.61L519.08 617.75L519.32 625.57L519.55 633.03L519.78 640.07L520.02 646.66L520.25 652.74L520.48 658.29L520.72 663.27L520.95 667.66L521.18 671.41L521.42 674.51L521.65 676.95L521.88 678.69L522.12 679.75L522.35 680.1L522.58 679.75L522.82 678.69L523.05 676.95L523.29 674.51L523.52 671.41L523.75 667.66L523.99 663.28L524.22 658.3L524.45 652.75L524.69 646.67L524.92 640.09L525.15 633.05L525.39 625.6L525.62 617.78L525.85 609.65L526.09 601.24L526.32 592.62L526.55 583.83L526.79 574.93L527.02 565.98L527.25 557.03L527.49 548.13L527.72 539.35L527.95 530.73L528.19 522.33L528.42 514.19L528.65 506.38L528.89 498.93L529.12 491.9L529.35 485.33L529.59 479.25L529.82 473.71L530.06 468.73L530.29 464.36L530.52 460.61L530.76 457.52L530.99 455.09L531.22 453.35L531.46 452.3L531.69 451.95L531.92 452.31L532.16 453.37L532.39 455.12L532.62 457.55L532.86 460.66L533.09 464.41L533.32 468.79L533.56 473.77L533.79 479.32L534.02 485.4L534.26 491.98L534.49 499.02L534.72 506.47L534.96 514.28L535.19 522.42L535.42 530.82L535.66 539.44L535.89 548.23L536.13 557.12L536.36 566.07L536.59 575.02L536.83 583.91L537.06 592.7L537.29 601.31L537.53 609.71L537.76 617.85L537.99 625.66L538.23 633.1L538.46 640.13L538.69 646.71L538.93 652.79L539.16 658.33L539.39 663.3L539.63 667.67L539.86 671.42L540.09 674.52L540.33 676.95L540.56 678.7L540.79 679.75L541.03 680.1L541.26 679.75L541.49 678.7L541.73 676.95L541.96 674.52L542.2 671.42L542.43 667.68L542.66 663.31L542.9 658.33L543.13 652.79L543.36 646.72L543.6 640.15L543.83 633.12L544.06 625.69L544.3 617.88L544.53 609.76L544.76 601.36L545 592.75L545.23 583.98L545.46 575.1L545.7 566.16L545.93 557.22L546.16 548.34L546.4 539.57L546.63 530.96L546.86 522.57L547.1 514.45L547.33 506.65L547.56 499.21L547.8 492.19L548.03 485.63L548.26 479.56L548.5 474.03L548.73 469.06L548.97 464.7L549.2 460.96L549.43 457.86L549.67 455.44L549.9 453.7L550.13 452.65L550.37 452.31L550.6 452.66L550.83 453.72L551.07 455.47L551.3 457.9L551.53 461L551.77 464.75L552 469.12L552.23 474.09L552.47 479.63L552.7 485.7L552.93 492.27L553.17 499.3L553.4 506.74L553.63 514.54L553.87 522.66L554.1 531.05L554.33 539.66L554.57 548.43L554.8 557.31L555.04 566.25L555.27 575.18L555.5 584.06L555.74 592.83L555.97 601.44L556.2 609.82L556.44 617.94L556.67 625.74L556.9 633.18L557.14 640.2L557.37 646.76L557.6 652.83L557.84 658.36L558.07 663.33L558.3 667.69L558.54 671.44L558.77 674.53L559 676.96L559.24 678.7L559.47 679.75L559.7 680.1L559.94 679.75L560.17 678.7L560.4 676.96L560.64 674.53L560.87 671.44L561.1 667.7L561.34 663.33L561.57 658.37L561.81 652.84L562.04 646.77L562.27 640.21L562.51 633.2L562.74 625.77L562.97 617.98L563.21 609.86L563.44 601.49L563.67 592.89L563.91 584.13L564.14 575.26L564.37 566.34L564.61 557.41L564.84 548.54L565.07 539.79L565.31 531.19L565.54 522.82L565.77 514.71L566.01 506.92L566.24 499.5L566.47 492.49L566.71 485.93L566.94 479.87L567.17 474.35L567.41 469.39L567.64 465.03L567.88 461.3L568.11 458.21L568.34 455.79L568.58 454.05L568.81 453.01L569.04 452.66L569.28 453.02L569.51 454.07L569.74 455.82L569.98 458.24L570.21 461.34L570.44 465.08L570.68 469.45L570.91 474.41L571.14 479.94L571.38 486.01L571.61 492.57L571.84 499.58L572.08 507.01L572.31 514.8L572.54 522.91L572.78 531.29L573.01 539.88L573.24 548.64L573.48 557.5L573.71 566.42L573.95 575.35L574.18 584.21L574.41 592.97L574.65 601.56L574.88 609.93L575.11 618.04L575.35 625.83L575.58 633.25L575.81 640.26L576.05 646.81L576.28 652.87L576.51 658.4L576.75 663.35L576.98 667.71L577.21 671.45L577.45 674.54L577.68 676.96L577.91 678.7L578.15 679.75L578.38 680.1L578.61 679.75L578.85 678.7L579.08 676.96L579.31 674.54L579.55 671.45L579.78 667.72L580.01 663.36L580.25 658.4L580.48 652.88L580.72 646.82L580.95 640.28L581.18 633.27L581.42 625.85L581.65 618.07L581.88 609.97L582.12 601.61L582.35 593.02L582.58 584.28L582.82 575.42L583.05 566.51L583.28 557.6L583.52 548.75L583.75 540.01L583.98 531.42L584.22 523.06L584.45 514.97L584.68 507.19L584.92 499.78L585.15 492.78L585.38 486.23L585.62 480.18L585.85 474.67L586.08 469.72L586.32 465.37L586.55 461.64L586.79 458.56L587.02 456.14L587.25 454.4L587.49 453.36L587.72 453.02L587.95 453.37L588.19 454.42L588.42 456.17L588.65 458.59L588.89 461.68L589.12 465.42L589.35 469.78L589.59 474.73L589.82 480.25L590.05 486.31L590.29 492.86L590.52 499.86L590.75 507.28L590.99 515.06L591.22 523.15L591.45 531.52L591.69 540.1L591.92 548.84L592.15 557.69L592.39 566.6L592.62 575.51L592.86 584.36L593.09 593.1L593.32 601.68L593.56 610.04L593.79 618.14L594.02 625.91L594.26 633.32L594.49 640.32L594.72 646.86L594.96 652.91L595.19 658.43L595.42 663.38L595.66 667.73L595.89 671.46L596.12 674.55L596.36 676.97L596.59 678.7L596.82 679.75L597.06 680.1L597.29 679.75L597.52 678.7L597.76 676.97L597.99 674.55L598.22 671.46L598.46 667.74L598.69 663.38L598.92 658.44L599.16 652.92L599.39 646.88L599.63 640.34L599.86 633.34L600.09 625.94L600.33 618.17L600.56 610.08L600.79 601.73L601.03 593.16L601.26 584.43L601.49 575.59L601.73 566.69L601.96 557.8L602.19 548.95L602.43 540.22L602.66 531.66L602.89 523.31L603.13 515.22L603.36 507.46L603.59 500.06L603.83 493.07L604.06 486.54L604.29 480.5L604.53 474.99L604.76 470.05L604.99 465.7L605.23 461.98L605.46 458.9L605.7 456.49L605.93 454.76L606.16 453.72L606.4 453.37L606.63 453.72L606.86 454.77L607.1 456.52L607.33 458.94L607.56 462.02L607.8 465.75L608.03 470.1L608.26 475.05L608.5 480.57L608.73 486.61L608.96 493.15L609.2 500.14L609.43 507.55L609.66 515.31L609.9 523.4L610.13 531.75L610.36 540.32L610.6 549.05L610.83 557.89L611.06 566.78L611.3 575.67L611.53 584.51L611.76 593.24L612 601.8L612.23 610.15L612.47 618.23L612.7 626L612.93 633.39L613.17 640.38L613.4 646.92L613.63 652.95L613.87 658.46L614.1 663.41L614.33 667.75L614.57 671.48L614.8 674.56L615.03 676.97L615.27 678.71L615.5 679.75L615.73 680.1L615.97 679.75L616.2 678.71L616.43 676.97L616.67 674.56L616.9 671.48L617.13 667.76L617.37 663.41L617.6 658.47L617.83 652.96L618.07 646.93L618.3 640.4L618.54 633.42L618.77 626.02L619 618.27L619.24 610.19L619.47 601.85L619.7 593.3L619.94 584.58L620.17 575.75L620.4 566.87L620.64 557.99L620.87 549.16L621.1 540.44L621.34 531.89L621.57 523.55L621.8 515.48L622.04 507.73L622.27 500.34L622.5 493.36L622.74 486.84L622.97 480.81L623.2 475.31L623.44 470.38L623.67 466.04L623.9 462.32L624.14 459.25L624.37 456.84L624.61 455.11L624.84 454.07L625.07 453.72L625.31 454.08L625.54 455.13L625.77 456.87L626.01 459.28L626.24 462.36L626.47 466.09L626.71 470.43L626.94 475.37L627.17 480.88L627.41 486.91L627.64 493.44L627.87 500.42L628.11 507.82L628.34 515.57L628.57 523.64L628.81 531.98L629.04 540.54L629.27 549.25L629.51 558.08L629.74 566.96L629.97 575.84L630.21 584.66L630.44 593.37L630.67 601.93L630.91 610.26L631.14 618.33L631.38 626.08L631.61 633.47L631.84 640.44L632.08 646.97L632.31 653L632.54 658.5L632.78 663.43L633.01 667.77L633.24 671.49L633.48 674.56L633.71 676.97L633.94 678.71L634.18 679.75L634.41 680.1L634.64 679.75L634.88 678.71L635.11 676.98L635.34 674.56L635.58 671.49L635.81 667.77L636.04 663.44L636.28 658.5L636.51 653.01L636.74 646.98L636.98 640.46L637.21 633.49L637.45 626.11L637.68 618.36L637.91 610.3L638.15 601.97L638.38 593.43L638.61 584.73L638.85 575.91L639.08 567.05L639.31 558.18L639.55 549.36L639.78 540.66L640.01 532.12L640.25 523.8L640.48 515.74L640.71 508L640.95 500.62L641.18 493.65L641.41 487.14L641.65 481.12L641.88 475.63L642.11 470.7L642.35 466.37L642.58 462.66L642.81 459.59L643.05 457.19L643.28 455.46L643.52 454.42L643.75 454.08L643.98 454.43L644.22 455.48L644.45 457.21L644.68 459.63L644.92 462.7L645.15 466.42L645.38 470.76L645.62 475.69L645.85 481.19L646.08 487.22L646.32 493.74L646.55 500.71L646.78 508.09L647.02 515.83L647.25 523.89L647.48 532.21L647.72 540.75L647.95 549.46L648.18 558.27L648.42 567.13L648.65 576L648.88 584.81L649.12 593.51L649.35 602.05L649.58 610.37L649.82 618.43L650.05 626.17L650.29 633.54L650.52 640.51L650.75 647.02L650.99 653.04L651.22 658.53L651.45 663.46L651.69 667.79L651.92 671.5L652.15 674.57L652.39 676.98L652.62 678.71L652.85 679.75L653.09 680.1L653.32 679.75L653.55 678.71L653.79 676.98L654.02 674.57L654.25 671.51L654.49 667.79L654.72 663.46L654.95 658.54L655.19 653.05L655.42 647.03L655.65 640.52L655.89 633.56L656.12 626.19L656.36 618.46L656.59 610.41L656.82 602.1L657.06 593.57L657.29 584.88L657.52 576.08L657.76 567.22L657.99 558.37L658.22 549.57L658.46 540.88L658.69 532.35L658.92 524.04L659.16 516L659.39 508.27L659.62 500.9L659.86 493.95L660.09 487.44L660.32 481.43L660.56 475.95L660.79 471.03L661.02 466.71L661.26 463L661.49 459.94L661.72 457.54L661.96 455.81L662.19 454.78L662.42 454.43" stroke="#ff0000" stroke-width="2.8" fill="none" stroke-linejoin="round"/>
<path d="M102.13 680.1L102.36 679.74L102.6 678.65L102.83 676.84L103.06 674.32L103.3 671.11L103.53 667.22L103.76 662.69L104 657.54L104.23 651.8L104.46 645.5L104.7 638.69L104.93 631.41L105.16 623.7L105.4 615.61L105.63 607.18L105.87 598.48L106.1 589.56L106.33 580.47L106.57 571.26L106.8 561.99L107.03 552.73L107.27 543.52L107.5 534.43L107.73 525.51L107.97 516.81L108.2 508.39L108.43 500.31L108.67 492.6L108.9 485.32L109.13 478.52L109.37 472.23L109.6 466.49L109.83 461.35L110.07 456.82L110.3 452.94L110.53 449.74L110.77 447.23L111 445.42L111.23 444.34L111.47 443.98L111.7 444.35L111.94 445.44L112.17 447.25L112.4 449.77L112.64 452.99L112.87 456.87L113.1 461.4L113.34 466.56L113.57 472.3L113.8 478.59L114.04 485.4L114.27 492.69L114.5 500.4L114.74 508.48L114.97 516.9L115.2 525.6L115.44 534.52L115.67 543.62L115.9 552.82L116.14 562.08L116.37 571.34L116.6 580.55L116.84 589.64L117.07 598.56L117.3 607.25L117.54 615.67L117.77 623.75L118.01 631.46L118.24 638.74L118.47 645.54L118.71 651.83L118.94 657.57L119.17 662.71L119.41 667.24L119.64 671.12L119.87 674.33L120.11 676.84L120.34 678.65L120.57 679.74L120.81 680.1L121.04 679.74L121.27 678.65L121.51 676.84L121.74 674.33L121.97 671.12L122.21 667.24L122.44 662.72L122.67 657.57L122.91 651.84L123.14 645.55L123.37 638.75L123.61 631.48L123.84 623.78L124.07 615.7L124.31 607.29L124.54 598.61L124.78 589.7L125.01 580.62L125.24 571.42L125.48 562.17L125.71 552.92L125.94 543.73L126.18 534.65L126.41 525.74L126.64 517.06L126.88 508.65L127.11 500.58L127.34 492.88L127.58 485.62L127.81 478.82L128.04 472.54L128.28 466.81L128.51 461.67L128.74 457.16L128.98 453.28L129.21 450.08L129.44 447.58L129.68 445.77L129.91 444.69L130.14 444.33L130.38 444.7L130.61 445.79L130.85 447.6L131.08 450.12L131.31 453.33L131.55 457.21L131.78 461.73L132.01 466.88L132.25 472.61L132.48 478.9L132.71 485.7L132.95 492.97L133.18 500.67L133.41 508.74L133.65 517.15L133.88 525.83L134.11 534.74L134.35 543.82L134.58 553.01L134.81 562.26L135.05 571.51L135.28 580.7L135.51 589.77L135.75 598.68L135.98 607.36L136.21 615.77L136.45 623.84L136.68 631.53L136.91 638.8L137.15 645.59L137.38 651.87L137.62 657.6L137.85 662.74L138.08 667.26L138.32 671.13L138.55 674.33L138.78 676.85L139.02 678.65L139.25 679.74L139.48 680.1L139.72 679.74L139.95 678.65L140.18 676.85L140.42 674.34L140.65 671.13L140.88 667.26L141.12 662.74L141.35 657.61L141.58 651.88L141.82 645.6L142.05 638.82L142.28 631.55L142.52 623.87L142.75 615.8L142.98 607.4L143.22 598.73L143.45 589.83L143.69 580.77L143.92 571.59L144.15 562.35L144.39 553.11L144.62 543.93L144.85 534.87L145.09 525.97L145.32 517.3L145.55 508.91L145.79 500.85L146.02 493.16L146.25 485.91L146.49 479.12L146.72 472.85L146.95 467.13L147.19 462L147.42 457.49L147.65 453.62L147.89 450.43L148.12 447.93L148.35 446.13L148.59 445.04L148.82 444.69L149.05 445.05L149.29 446.14L149.52 447.95L149.76 450.46L149.99 453.67L150.22 457.54L150.46 462.06L150.69 467.2L150.92 472.92L151.16 479.2L151.39 485.99L151.62 493.25L151.86 500.94L152.09 509L152.32 517.39L152.56 526.07L152.79 534.96L153.02 544.03L153.26 553.2L153.49 562.44L153.72 571.67L153.96 580.85L154.19 589.91L154.42 598.8L154.66 607.47L154.89 615.86L155.12 623.92L155.36 631.61L155.59 638.86L155.82 645.64L156.06 651.91L156.29 657.63L156.53 662.77L156.76 667.28L156.99 671.15L157.23 674.34L157.46 676.85L157.69 678.65L157.93 679.74L158.16 680.1L158.39 679.74L158.63 678.65L158.86 676.85L159.09 674.34L159.33 671.15L159.56 667.28L159.79 662.77L160.03 657.64L160.26 651.92L160.49 645.66L160.73 638.88L160.96 631.63L161.19 623.95L161.43 615.9L161.66 607.51L161.89 598.85L162.13 589.97L162.36 580.91L162.6 571.75L162.83 562.53L163.06 553.3L163.3 544.14L163.53 535.09L163.76 526.21L164 517.55L164.23 509.17L164.46 501.12L164.7 493.45L164.93 486.2L165.16 479.43L165.4 473.16L165.63 467.45L165.86 462.33L166.1 457.83L166.33 453.97L166.56 450.78L166.8 448.27L167.03 446.48L167.26 445.4L167.5 445.04L167.73 445.41L167.96 446.5L168.2 448.3L168.43 450.81L168.67 454.01L168.9 457.88L169.13 462.39L169.37 467.52L169.6 473.24L169.83 479.5L170.07 486.28L170.3 493.53L170.53 501.21L170.77 509.26L171 517.64L171.23 526.3L171.47 535.18L171.7 544.23L171.93 553.39L172.17 562.61L172.4 571.83L172.63 581L172.87 590.05L173.1 598.93L173.33 607.58L173.57 615.96L173.8 624.01L174.03 631.68L174.27 638.92L174.5 645.7L174.73 651.96L174.97 657.67L175.2 662.79L175.44 667.3L175.67 671.16L175.9 674.35L176.14 676.85L176.37 678.65L176.6 679.74L176.84 680.1L177.07 679.74L177.3 678.65L177.54 676.86L177.77 674.35L178 671.16L178.24 667.3L178.47 662.8L178.7 657.67L178.94 651.97L179.17 645.71L179.4 638.94L179.64 631.7L179.87 624.04L180.1 615.99L180.34 607.62L180.57 598.97L180.8 590.1L181.04 581.06L181.27 571.91L181.51 562.7L181.74 553.49L181.97 544.34L182.21 535.31L182.44 526.44L182.67 517.79L182.91 509.43L183.14 501.39L183.37 493.73L183.61 486.49L183.84 479.73L184.07 473.48L184.31 467.78L184.54 462.66L184.77 458.16L185.01 454.31L185.24 451.12L185.47 448.62L185.71 446.83L185.94 445.75L186.17 445.4L186.41 445.76L186.64 446.85L186.87 448.65L187.11 451.16L187.34 454.35L187.57 458.21L187.81 462.72L188.04 467.84L188.28 473.55L188.51 479.8L188.74 486.57L188.98 493.81L189.21 501.47L189.44 509.52L189.68 517.88L189.91 526.53L190.14 535.4L190.38 544.44L190.61 553.59L190.84 562.79L191.08 572L191.31 581.15L191.54 590.18L191.78 599.05L192.01 607.69L192.24 616.06L192.48 624.09L192.71 631.75L192.94 638.98L193.18 645.75L193.41 652L193.64 657.7L193.88 662.82L194.11 667.32L194.35 671.17L194.58 674.36L194.81 676.86L195.05 678.66L195.28 679.74L195.51 680.1L195.75 679.74L195.98 678.66L196.21 676.86L196.45 674.36L196.68 671.17L196.91 667.32L197.15 662.82L197.38 657.71L197.61 652.01L197.85 645.76L198.08 639L198.31 631.77L198.55 624.12L198.78 616.09L199.01 607.73L199.25 599.1L199.48 590.24L199.71 581.21L199.95 572.08L200.18 562.88L200.42 553.69L200.65 544.55L200.88 535.52L201.12 526.67L201.35 518.04L201.58 509.68L201.82 501.66L202.05 494.01L202.28 486.79L202.52 480.03L202.75 473.79L202.98 468.1L203.22 462.99L203.45 458.5L203.68 454.65L203.92 451.47L204.15 448.97L204.38 447.18L204.62 446.11L204.85 445.75L205.08 446.12L205.32 447.2L205.55 449L205.78 451.5L206.02 454.69L206.25 458.55L206.48 463.05L206.72 468.16L206.95 473.86L207.19 480.11L207.42 486.87L207.65 494.09L207.89 501.74L208.12 509.77L208.35 518.13L208.59 526.76L208.82 535.62L209.05 544.64L209.29 553.78L209.52 562.97L209.75 572.16L209.99 581.3L210.22 590.32L210.45 599.17L210.69 607.8L210.92 616.15L211.15 624.18L211.39 631.82L211.62 639.05L211.85 645.8L212.09 652.04L212.32 657.74L212.55 662.84L212.79 667.34L213.02 671.19L213.26 674.37L213.49 676.86L213.72 678.66L213.96 679.74L214.19 680.1L214.42 679.74L214.66 678.66L214.89 676.87L215.12 674.37L215.36 671.19L215.59 667.34L215.82 662.85L216.06 657.74L216.29 652.05L216.52 645.81L216.76 639.06L216.99 631.85L217.22 624.2L217.46 616.19L217.69 607.84L217.92 599.22L218.16 590.38L218.39 581.36L218.62 572.24L218.86 563.06L219.09 553.88L219.33 544.75L219.56 535.74L219.79 526.9L220.03 518.28L220.26 509.94L220.49 501.93L220.73 494.29L220.96 487.08L221.19 480.33L221.43 474.1L221.66 468.42L221.89 463.32L222.13 458.83L222.36 454.99L222.59 451.81L222.83 449.32L223.06 447.54L223.29 446.46L223.53 446.1L223.76 446.47L223.99 447.55L224.23 449.35L224.46 451.85L224.69 455.03L224.93 458.88L225.16 463.37L225.39 468.48L225.63 474.17L225.86 480.41L226.1 487.16L226.33 494.37L226.56 502.01L226.8 510.03L227.03 518.37L227.26 526.99L227.5 535.84L227.73 544.85L227.96 553.97L228.2 563.15L228.43 572.32L228.66 581.45L228.9 590.45L229.13 599.29L229.36 607.91L229.6 616.25L229.83 624.26L230.06 631.9L230.3 639.11L230.53 645.85L230.76 652.08L231 657.77L231.23 662.87L231.46 667.36L231.7 671.2L231.93 674.38L232.17 676.87L232.4 678.66L232.63 679.74L232.87 680.1L233.1 679.74L233.33 678.66L233.57 676.87L233.8 674.38L234.03 671.2L234.27 667.36L234.5 662.87L234.73 657.78L234.97 652.09L235.2 645.86L235.43 639.13L235.67 631.92L235.9 624.29L236.13 616.28L236.37 607.95L236.6 599.34L236.83 590.51L237.07 581.51L237.3 572.4L237.53 563.23L237.77 554.07L238 544.96L238.23 535.96L238.47 527.13L238.7 518.53L238.94 510.2L239.17 502.2L239.4 494.57L239.64 487.37L239.87 480.64L240.1 474.41L240.34 468.74L240.57 463.64L240.8 459.17L241.04 455.33L241.27 452.16L241.5 449.67L241.74 447.89L241.97 446.81L242.2 446.46L242.44 446.82L242.67 447.91L242.9 449.7L243.14 452.19L243.37 455.37L243.6 459.22L243.84 463.7L244.07 468.8L244.3 474.48L244.54 480.71L244.77 487.45L245.01 494.66L245.24 502.28L245.47 510.29L245.71 518.62L245.94 527.23L246.17 536.05L246.41 545.05L246.64 554.16L246.87 563.32L247.11 572.49L247.34 581.6L247.57 590.59L247.81 599.42L248.04 608.02L248.27 616.35L248.51 624.35L248.74 631.97L248.97 639.17L249.21 645.9L249.44 652.13L249.67 657.8L249.91 662.9L250.14 667.38L250.37 671.21L250.61 674.39L250.84 676.87L251.08 678.66L251.31 679.74L251.54 680.1L251.78 679.74L252.01 678.66L252.24 676.87L252.48 674.39L252.71 671.22L252.94 667.38L253.18 662.9L253.41 657.81L253.64 652.14L253.88 645.92L254.11 639.19L254.34 631.99L254.58 624.37L254.81 616.38L255.04 608.06L255.28 599.46L255.51 590.65L255.74 581.66L255.98 572.57L256.21 563.41L256.44 554.26L256.68 545.16L256.91 536.18L257.14 527.37L257.38 518.77L257.61 510.46L257.85 502.47L258.08 494.85L258.31 487.66L258.55 480.94L258.78 474.72L259.01 469.06L259.25 463.97L259.48 459.5L259.71 455.67L259.95 452.5L260.18 450.02L260.41 448.24L260.65 447.17L260.88 446.81L261.11 447.18L261.35 448.26L261.58 450.05L261.81 452.54L262.05 455.71L262.28 459.55L262.51 464.03L262.75 469.12L262.98 474.8L263.21 481.01L263.45 487.74L263.68 494.94L263.92 502.55L264.15 510.55L264.38 518.86L264.62 527.46L264.85 536.27L265.08 545.26L265.32 554.35L265.55 563.5L265.78 572.65L266.02 581.74L266.25 590.73L266.48 599.54L266.72 608.13L266.95 616.44L267.18 624.43L267.42 632.04L267.65 639.23L267.88 645.96L268.12 652.17L268.35 657.84L268.58 662.92L268.82 667.39L269.05 671.23L269.28 674.39L269.52 676.88L269.75 678.66L269.99 679.74L270.22 680.1L270.45 679.74L270.69 678.67L270.92 676.88L271.15 674.4L271.39 671.23L271.62 667.4L271.85 662.93L272.09 657.84L272.32 652.18L272.55 645.97L272.79 639.25L273.02 632.07L273.25 624.46L273.49 616.48L273.72 608.17L273.95 599.59L274.19 590.78L274.42 581.81L274.65 572.73L274.89 563.59L275.12 554.45L275.35 545.37L275.59 536.4L275.82 527.6L276.05 519.02L276.29 510.71L276.52 502.74L276.76 495.13L276.99 487.95L277.22 481.24L277.46 475.04L277.69 469.38L277.92 464.3L278.16 459.84L278.39 456.01L278.62 452.85L278.86 450.37L279.09 448.59L279.32 447.52L279.56 447.17L279.79 447.53L280.02 448.61L280.26 450.4L280.49 452.88L280.72 456.05L280.96 459.89L281.19 464.36L281.42 469.44L281.66 475.11L281.89 481.32L282.12 488.03L282.36 495.22L282.59 502.82L282.83 510.8L283.06 519.11L283.29 527.69L283.53 536.49L283.76 545.46L283.99 554.54L284.23 563.68L284.46 572.81L284.69 581.89L284.93 590.86L285.16 599.66L285.39 608.24L285.63 616.54L285.86 624.52L286.09 632.12L286.33 639.3L286.56 646.01L286.79 652.21L287.03 657.87L287.26 662.95L287.49 667.41L287.73 671.24L287.96 674.4L288.19 676.88L288.43 678.67L288.66 679.74L288.9 680.1L289.13 679.74L289.36 678.67L289.6 676.88L289.83 674.4L290.06 671.24L290.3 667.42L290.53 662.95L290.76 657.88L291 652.22L291.23 646.02L291.46 639.31L291.7 632.14L291.93 624.54L292.16 616.57L292.4 608.28L292.63 599.71L292.86 590.92L293.1 581.96L293.33 572.89L293.56 563.77L293.8 554.64L294.03 545.57L294.26 536.62L294.5 527.83L294.73 519.26L294.96 510.97L295.2 503.01L295.43 495.42L295.67 488.25L295.9 481.54L296.13 475.35L296.37 469.7L296.6 464.63L296.83 460.17L297.07 456.35L297.3 453.2L297.53 450.72L297.77 448.94L298 447.88L298.23 447.52L298.47 447.88L298.7 448.96L298.93 450.75L299.17 453.23L299.4 456.4L299.63 460.22L299.87 464.69L300.1 469.76L300.33 475.42L300.57 481.62L300.8 488.33L301.03 495.5L301.27 503.09L301.5 511.06L301.74 519.35L301.97 527.92L302.2 536.71L302.44 545.67L302.67 554.73L302.9 563.86L303.14 572.98L303.37 582.04L303.6 591L303.84 599.78L304.07 608.35L304.3 616.64L304.54 624.6L304.77 632.19L305 639.36L305.24 646.06L305.47 652.25L305.7 657.9L305.94 662.97L306.17 667.43L306.4 671.25L306.64 674.41L306.87 676.89L307.1 678.67L307.34 679.74L307.57 680.1L307.8 679.74L308.04 678.67L308.27 676.89L308.51 674.41L308.74 671.26L308.97 667.44L309.21 662.98L309.44 657.91L309.67 652.26L309.91 646.07L310.14 639.37L310.37 632.21L310.61 624.63L310.84 616.67L311.07 608.39L311.31 599.83L311.54 591.05L311.77 582.11L312.01 573.06L312.24 563.94L312.47 554.83L312.71 545.78L312.94 536.84L313.17 528.06L313.41 519.51L313.64 511.23L313.87 503.28L314.11 495.7L314.34 488.54L314.58 481.85L314.81 475.66L315.04 470.02L315.28 464.96L315.51 460.51L315.74 456.69L315.98 453.54L316.21 451.07L316.44 449.3L316.68 448.23L316.91 447.88L317.14 448.24L317.38 449.31L317.61 451.1L317.84 453.58L318.08 456.74L318.31 460.56L318.54 465.02L318.78 470.08L319.01 475.73L319.24 481.92L319.48 488.62L319.71 495.78L319.94 503.36L320.18 511.32L320.41 519.6L320.65 528.15L320.88 536.93L321.11 545.87L321.35 554.92L321.58 564.03L321.81 573.14L322.05 582.19L322.28 591.13L322.51 599.91L322.75 608.46L322.98 616.73L323.21 624.68L323.45 632.26L323.68 639.42L323.91 646.11L324.15 652.3L324.38 657.94L324.61 663L324.85 667.45L325.08 671.27L325.31 674.42L325.55 676.89L325.78 678.67L326.01 679.74L326.25 680.1L326.48 679.74L326.71 678.67L326.95 676.89L327.18 674.42L327.42 671.27L327.65 667.46L327.88 663.01L328.12 657.94L328.35 652.31L328.58 646.12L328.82 639.44L329.05 632.28L329.28 624.71L329.52 616.77L329.75 608.5L329.98 599.95L330.22 591.19L330.45 582.26L330.68 573.22L330.92 564.12L331.15 555.02L331.38 545.98L331.62 537.05L331.85 528.29L332.08 519.75L332.32 511.49L332.55 503.55L332.78 495.98L333.02 488.83L333.25 482.15L333.49 475.97L333.72 470.34L333.95 465.29L334.19 460.84L334.42 457.03L334.65 453.89L334.89 451.42L335.12 449.65L335.35 448.58L335.59 448.23L335.82 448.59L336.05 449.67L336.29 451.45L336.52 453.92L336.75 457.08L336.99 460.89L337.22 465.34L337.45 470.4L337.69 476.04L337.92 482.22L338.15 488.91L338.39 496.06L338.62 503.63L338.85 511.58L339.09 519.84L339.32 528.39L339.56 537.15L339.79 546.08L340.02 555.11L340.26 564.21L340.49 573.3L340.72 582.34L340.96 591.27L341.19 600.03L341.42 608.57L341.66 616.83L341.89 624.77L342.12 632.34L342.36 639.48L342.59 646.16L342.82 652.34L343.06 657.97L343.29 663.03L343.52 667.47L343.76 671.28L343.99 674.43L344.22 676.9L344.46 678.67L344.69 679.74L344.92 680.1L345.16 679.74L345.39 678.67L345.62 676.9L345.86 674.43L346.09 671.28L346.33 667.47L346.56 663.03L346.79 657.98L347.03 652.35L347.26 646.18L347.49 639.5L347.73 632.36L347.96 624.8L348.19 616.86L348.43 608.61L348.66 600.08L348.89 591.33L349.13 582.41L349.36 573.38L349.59 564.3L349.83 555.21L350.06 546.19L350.29 537.27L350.53 528.53L350.76 520L350.99 511.74L351.23 503.82L351.46 496.26L351.69 489.12L351.93 482.45L352.16 476.28L352.4 470.66L352.63 465.61L352.86 461.18L353.1 457.38L353.33 454.23L353.56 451.77L353.8 450L354.03 448.94L354.26 448.59L354.5 448.95L354.73 450.02L354.96 451.8L355.2 454.27L355.43 457.42L355.66 461.23L355.9 465.67L356.13 470.72L356.36 476.35L356.6 482.53L356.83 489.2L357.06 496.34L357.3 503.9L357.53 511.83L357.76 520.09L358 528.62L358.23 537.37L358.46 546.28L358.7 555.31L358.93 564.39L359.17 573.47L359.4 582.49L359.63 591.4L359.87 600.15L360.1 608.68L360.33 616.93L360.57 624.85L360.8 632.41L361.03 639.54L361.27 646.21L361.5 652.38L361.73 658.01L361.97 663.05L362.2 667.49L362.43 671.29L362.67 674.44L362.9 676.9L363.13 678.68L363.37 679.74L363.6 680.1L363.83 679.74L364.07 678.68L364.3 676.9L364.53 674.44L364.77 671.3L365 667.49L365.24 663.06L365.47 658.01L365.7 652.39L365.94 646.23L366.17 639.56L366.4 632.43L366.64 624.88L366.87 616.96L367.1 608.72L367.34 600.2L367.57 591.46L367.8 582.56L368.04 573.55L368.27 564.48L368.5 555.41L368.74 546.39L368.97 537.49L369.2 528.76L369.44 520.24L369.67 512L369.9 504.09L370.14 496.54L370.37 489.42L370.6 482.75L370.84 476.6L371.07 470.98L371.31 465.94L371.54 461.51L371.77 457.72L372.01 454.58L372.24 452.12L372.47 450.35L372.71 449.29L372.94 448.94L373.17 449.3L373.41 450.37L373.64 452.15L373.87 454.61L374.11 457.76L374.34 461.56L374.57 466L374.81 471.05L375.04 476.67L375.27 482.83L375.51 489.5L375.74 496.63L375.97 504.17L376.21 512.09L376.44 520.34L376.67 528.85L376.91 537.58L377.14 546.49L377.37 555.5L377.61 564.56L377.84 573.63L378.08 582.64L378.31 591.54L378.54 600.27L378.78 608.78L379.01 617.02L379.24 624.94L379.48 632.48L379.71 639.61L379.94 646.27L380.18 652.42L380.41 658.04L380.64 663.08L380.88 667.51L381.11 671.31L381.34 674.45L381.58 676.91L381.81 678.68L382.04 679.74L382.28 680.1L382.51 679.74L382.74 678.68L382.98 676.91L383.21 674.45L383.44 671.31L383.68 667.51L383.91 663.08L384.15 658.05L384.38 652.43L384.61 646.28L384.85 639.62L385.08 632.5L385.31 624.97L385.55 617.06L385.78 608.83L386.01 600.32L386.25 591.6L386.48 582.71L386.71 573.71L386.95 564.65L387.18 555.6L387.41 546.6L387.65 537.71L387.88 528.99L388.11 520.49L388.35 512.26L388.58 504.36L388.81 496.82L389.05 489.71L389.28 483.06L389.51 476.91L389.75 471.3L389.98 466.27L390.22 461.85L390.45 458.06L390.68 454.92L390.92 452.47L391.15 450.71L391.38 449.65L391.62 449.29L391.85 449.65L392.08 450.72L392.32 452.5L392.55 454.96L392.78 458.1L393.02 461.9L393.25 466.33L393.48 471.37L393.72 476.98L393.95 483.13L394.18 489.79L394.42 496.91L394.65 504.44L394.88 512.35L395.12 520.58L395.35 529.08L395.58 537.8L395.82 546.69L396.05 555.69L396.28 564.74L396.52 573.79L396.75 582.79L396.99 591.68L397.22 600.4L397.45 608.89L397.69 617.12L397.92 625.02L398.15 632.55L398.39 639.67L398.62 646.32L398.85 652.47L399.09 658.07L399.32 663.11L399.55 667.53L399.79 671.32L400.02 674.46L400.25 676.91L400.49 678.68L400.72 679.74L400.95 680.1L401.19 679.74L401.42 678.68L401.65 676.91L401.89 674.46L402.12 671.32L402.35 667.53L402.59 663.11L402.82 658.08L403.06 652.48L403.29 646.33L403.52 639.68L403.76 632.58L403.99 625.05L404.22 617.15L404.46 608.94L404.69 600.44L404.92 591.73L405.16 582.86L405.39 573.87L405.62 564.83L405.86 555.79L406.09 546.8L406.32 537.93L406.56 529.22L406.79 520.73L407.02 512.52L407.26 504.63L407.49 497.1L407.72 490L407.96 483.36L408.19 477.22L408.42 471.62L408.66 466.6L408.89 462.18L409.12 458.4L409.36 455.27L409.59 452.82L409.83 451.06L410.06 450L410.29 449.65L410.53 450.01L410.76 451.08L410.99 452.85L411.23 455.31L411.46 458.44L411.69 462.23L411.93 466.66L412.16 471.69L412.39 477.29L412.63 483.44L412.86 490.08L413.09 497.19L413.33 504.71L413.56 512.61L413.79 520.83L414.03 529.31L414.26 538.02L414.49 546.9L414.73 555.88L414.96 564.92L415.19 573.96L415.43 582.94L415.66 591.81L415.9 600.52L416.13 609L416.36 617.22L416.6 625.11L416.83 632.63L417.06 639.73L417.3 646.37L417.53 652.51L417.76 658.11L418 663.13L418.23 667.55L418.46 671.33L418.7 674.46L418.93 676.92L419.16 678.68L419.4 679.75L419.63 680.1L419.86 679.75L420.1 678.68L420.33 676.92L420.56 674.47L420.8 671.34L421.03 667.55L421.26 663.14L421.5 658.11L421.73 652.52L421.97 646.38L422.2 639.75L422.43 632.65L422.67 625.14L422.9 617.25L423.13 609.04L423.37 600.57L423.6 591.87L423.83 583.01L424.07 574.04L424.3 565.01L424.53 555.98L424.77 547.01L425 538.15L425.23 529.45L425.47 520.98L425.7 512.78L425.93 504.89L426.17 497.39L426.4 490.29L426.63 483.66L426.87 477.53L427.1 471.94L427.33 466.93L427.57 462.52L427.8 458.74L428.03 455.62L428.27 453.17L428.5 451.41L428.74 450.35L428.97 450L429.2 450.36L429.44 451.43L429.67 453.19L429.9 455.65L430.14 458.78L430.37 462.57L430.6 466.99L430.84 472.01L431.07 477.6L431.3 483.74L431.54 490.37L431.77 497.47L432 504.98L432.24 512.87L432.47 521.07L432.7 529.55L432.94 538.24L433.17 547.1L433.4 556.07L433.64 565.1L433.87 574.12L434.1 583.09L434.34 591.95L434.57 600.64L434.81 609.11L435.04 617.31L435.27 625.19L435.51 632.7L435.74 639.79L435.97 646.42L436.21 652.55L436.44 658.14L436.67 663.16L436.91 667.57L437.14 671.35L437.37 674.47L437.61 676.92L437.84 678.68L438.07 679.75L438.31 680.1L438.54 679.75L438.77 678.68L439.01 676.92L439.24 674.47L439.47 671.35L439.71 667.57L439.94 663.16L440.17 658.15L440.41 652.56L440.64 646.44L440.88 639.81L441.11 632.72L441.34 625.22L441.58 617.35L441.81 609.15L442.04 600.69L442.28 592.01L442.51 583.16L442.74 574.2L442.98 565.18L443.21 556.17L443.44 547.21L443.68 538.37L443.91 529.69L444.14 521.22L444.38 513.03L444.61 505.16L444.84 497.67L445.08 490.59L445.31 483.96L445.54 477.84L445.78 472.26L446.01 467.26L446.24 462.85L446.48 459.08L446.71 455.96L446.94 453.52L447.18 451.76L447.41 450.71L447.65 450.36L447.88 450.72L448.11 451.78L448.35 453.54L448.58 456L448.81 459.12L449.05 462.9L449.28 467.31L449.51 472.33L449.75 477.91L449.98 484.04L450.21 490.67L450.45 497.75L450.68 505.25L450.91 513.12L451.15 521.32L451.38 529.78L451.61 538.46L451.85 547.3L452.08 556.26L452.31 565.27L452.55 574.28L452.78 583.24L453.01 592.08L453.25 600.76L453.48 609.22L453.72 617.41L453.95 625.28L454.18 632.77L454.42 639.85L454.65 646.47L454.88 652.59L455.12 658.18L455.35 663.18L455.58 667.59L455.82 671.36L456.05 674.48L456.28 676.93L456.52 678.69L456.75 679.75L456.98 680.1L457.22 679.75L457.45 678.69L457.68 676.93L457.92 674.48L458.15 671.36L458.38 667.59L458.62 663.19L458.85 658.18L459.08 652.6L459.32 646.49L459.55 639.87L459.78 632.8L460.02 625.3L460.25 617.44L460.49 609.26L460.72 600.81L460.95 592.14L461.19 583.31L461.42 574.36L461.65 565.36L461.89 556.36L462.12 547.42L462.35 538.58L462.59 529.92L462.82 521.47L463.05 513.29L463.29 505.43L463.52 497.95L463.75 490.88L463.99 484.27L464.22 478.16L464.45 472.58L464.69 467.58L464.92 463.19L465.15 459.42L465.39 456.31L465.62 453.87L465.85 452.12L466.09 451.06L466.32 450.71L466.56 451.07L466.79 452.13L467.02 453.89L467.26 456.34L467.49 459.46L467.72 463.24L467.96 467.64L468.19 472.65L468.42 478.23L468.66 484.34L468.89 490.96L469.12 498.03L469.36 505.52L469.59 513.38L469.82 521.56L470.06 530.01L470.29 538.68L470.52 547.51L470.76 556.45L470.99 565.45L471.22 574.45L471.46 583.39L471.69 592.22L471.92 600.89L472.16 609.33L472.39 617.51L472.63 625.36L472.86 632.85L473.09 639.92L473.33 646.53L473.56 652.64L473.79 658.21L474.03 663.21L474.26 667.61L474.49 671.38L474.73 674.49L474.96 676.93L475.19 678.69L475.43 679.75L475.66 680.1L475.89 679.75L476.13 678.69L476.36 676.93L476.59 674.49L476.83 671.38L477.06 667.61L477.29 663.21L477.53 658.22L477.76 652.65L477.99 646.54L478.23 639.93L478.46 632.87L478.69 625.39L478.93 617.54L479.16 609.37L479.4 600.93L479.63 592.28L479.86 583.46L480.1 574.53L480.33 565.54L480.56 556.55L480.8 547.62L481.03 538.8L481.26 530.15L481.5 521.71L481.73 513.55L481.96 505.7L482.2 498.23L482.43 491.17L482.66 484.57L482.9 478.47L483.13 472.9L483.36 467.91L483.6 463.52L483.83 459.76L484.06 456.65L484.3 454.22L484.53 452.47L484.76 451.41L485 451.07L485.23 451.42L485.47 452.48L485.7 454.24L485.93 456.69L486.17 459.8L486.4 463.57L486.63 467.97L486.87 472.97L487.1 478.54L487.33 484.65L487.57 491.25L487.8 498.31L488.03 505.79L488.27 513.64L488.5 521.81L488.73 530.24L488.97 538.9L489.2 547.71L489.43 556.64L489.67 565.63L489.9 574.61L490.13 583.54L490.37 592.36L490.6 601.01L490.83 609.44L491.07 617.6L491.3 625.45L491.54 632.92L491.77 639.98L492 646.58L492.24 652.68L492.47 658.24L492.7 663.24L492.94 667.63L493.17 671.39L493.4 674.5L493.64 676.94L493.87 678.69L494.1 679.75L494.34 680.1L494.57 679.75L494.8 678.69L495.04 676.94L495.27 674.5L495.5 671.39L495.74 667.63L495.97 663.24L496.2 658.25L496.44 652.69L496.67 646.59L496.9 640L497.14 632.94L497.37 625.47L497.6 617.64L497.84 609.48L498.07 601.06L498.31 592.41L498.54 583.61L498.77 574.69L499.01 565.72L499.24 556.74L499.47 547.83L499.71 539.02L499.94 530.38L500.17 521.96L500.41 513.81L500.64 505.97L500.87 498.51L501.11 491.46L501.34 484.87L501.57 478.78L501.81 473.23L502.04 468.24L502.27 463.86L502.51 460.1L502.74 457L502.97 454.57L503.21 452.82L503.44 451.77L503.67 451.42L503.91 451.78L504.14 452.84L504.38 454.59L504.61 457.03L504.84 460.15L505.08 463.91L505.31 468.3L505.54 473.29L505.78 478.85L506.01 484.95L506.24 491.54L506.48 498.6L506.71 506.06L506.94 513.9L507.18 522.05L507.41 530.47L507.64 539.11L507.88 547.92L508.11 556.83L508.34 565.8L508.58 574.77L508.81 583.69L509.04 592.49L509.28 601.13L509.51 609.55L509.74 617.7L509.98 625.53L510.21 632.99L510.44 640.04L510.68 646.63L510.91 652.72L511.15 658.28L511.38 663.26L511.61 667.65L511.85 671.4L512.08 674.51L512.31 676.94L512.55 678.69L512.78 679.75L513.01 680.1L513.25 679.75L513.48 678.69L513.71 676.94L513.95 674.51L514.18 671.4L514.41 667.65L514.65 663.27L514.88 658.28L515.11 652.73L515.35 646.64L515.58 640.06L515.81 633.01L516.05 625.56L516.28 617.73L516.51 609.59L516.75 601.18L516.98 592.55L517.22 583.76L517.45 574.85L517.68 565.89L517.92 556.94L518.15 548.03L518.38 539.24L518.62 530.61L518.85 522.2L519.08 514.06L519.32 506.24L519.55 498.79L519.78 491.75L520.02 485.17L520.25 479.09L520.48 473.55L520.72 468.57L520.95 464.19L521.18 460.44L521.42 457.35L521.65 454.92L521.88 453.17L522.12 452.12L522.35 451.78L522.58 452.13L522.82 453.19L523.05 454.94L523.29 457.38L523.52 460.49L523.75 464.24L523.99 468.63L524.22 473.61L524.45 479.16L524.69 485.25L524.92 491.84L525.15 498.88L525.39 506.33L525.62 514.15L525.85 522.3L526.09 530.71L526.32 539.33L526.55 548.12L526.79 557.03L527.02 565.98L527.25 574.94L527.49 583.84L527.72 592.63L527.95 601.25L528.19 609.66L528.42 617.8L528.65 625.62L528.89 633.07L529.12 640.1L529.35 646.68L529.59 652.76L529.82 658.31L530.06 663.29L530.29 667.67L530.52 671.42L530.76 674.52L530.99 676.95L531.22 678.7L531.46 679.75L531.69 680.1L531.92 679.75L532.16 678.7L532.39 676.95L532.62 674.52L532.86 671.42L533.09 667.67L533.32 663.29L533.56 658.32L533.79 652.77L534.02 646.7L534.26 640.12L534.49 633.09L534.72 625.64L534.96 617.83L535.19 609.7L535.42 601.3L535.66 592.69L535.89 583.9L536.13 575.02L536.36 566.07L536.59 557.13L536.83 548.24L537.06 539.46L537.29 530.85L537.53 522.45L537.76 514.32L537.99 506.51L538.23 499.07L538.46 492.05L538.69 485.48L538.93 479.4L539.16 473.87L539.39 468.9L539.63 464.53L539.86 460.78L540.09 457.69L540.33 455.27L540.56 453.52L540.79 452.48L541.03 452.13L541.26 452.49L541.49 453.54L541.73 455.29L541.96 457.73L542.2 460.83L542.43 464.58L542.66 468.96L542.9 473.93L543.13 479.47L543.36 485.55L543.6 492.13L543.83 499.16L544.06 506.6L544.3 514.41L544.53 522.54L544.76 530.94L545 539.55L545.23 548.33L545.46 557.22L545.7 566.16L545.93 575.1L546.16 583.99L546.4 592.76L546.63 601.37L546.86 609.77L547.1 617.89L547.33 625.7L547.56 633.14L547.8 640.16L548.03 646.73L548.26 652.81L548.5 658.34L548.73 663.31L548.97 667.68L549.2 671.43L549.43 674.53L549.67 676.95L549.9 678.7L550.13 679.75L550.37 680.1L550.6 679.75L550.83 678.7L551.07 676.95L551.3 674.53L551.53 671.43L551.77 667.69L552 663.32L552.23 658.35L552.47 652.82L552.7 646.75L552.93 640.18L553.17 633.16L553.4 625.73L553.63 617.93L553.87 609.81L554.1 601.42L554.33 592.82L554.57 584.05L554.8 575.18L555.04 566.25L555.27 557.32L555.5 548.44L555.74 539.68L555.97 531.08L556.2 522.69L556.44 514.58L556.67 506.78L556.9 499.36L557.14 492.34L557.37 485.78L557.6 479.72L557.84 474.19L558.07 469.23L558.3 464.86L558.54 461.13L558.77 458.04L559 455.62L559.24 453.88L559.47 452.83L559.7 452.48L559.94 452.84L560.17 453.89L560.4 455.64L560.64 458.07L560.87 461.17L561.1 464.91L561.34 469.28L561.57 474.25L561.81 479.79L562.04 485.86L562.27 492.42L562.51 499.44L562.74 506.87L562.97 514.67L563.21 522.79L563.44 531.17L563.67 539.77L563.91 548.53L564.14 557.41L564.37 566.34L564.61 575.26L564.84 584.14L565.07 592.9L565.31 601.5L565.54 609.88L565.77 617.99L566.01 625.79L566.24 633.21L566.47 640.23L566.71 646.79L566.94 652.85L567.17 658.38L567.41 663.34L567.64 667.7L567.88 671.44L568.11 674.53L568.34 676.96L568.58 678.7L568.81 679.75L569.04 680.1L569.28 679.75L569.51 678.7L569.74 676.96L569.98 674.53L570.21 671.44L570.44 667.71L570.68 663.34L570.91 658.38L571.14 652.86L571.38 646.8L571.61 640.24L571.84 633.23L572.08 625.81L572.31 618.03L572.54 609.92L572.78 601.55L573.01 592.96L573.24 584.2L573.48 575.34L573.71 566.42L573.95 557.51L574.18 548.65L574.41 539.9L574.65 531.31L574.88 522.94L575.11 514.84L575.35 507.05L575.58 499.64L575.81 492.63L576.05 486.08L576.28 480.03L576.51 474.51L576.75 469.55L576.98 465.2L577.21 461.47L577.45 458.38L577.68 455.96L577.91 454.23L578.15 453.18L578.38 452.84L578.61 453.19L578.85 454.25L579.08 455.99L579.31 458.42L579.55 461.51L579.78 465.25L580.01 469.61L580.25 474.57L580.48 480.1L580.72 486.16L580.95 492.71L581.18 499.72L581.42 507.14L581.65 514.93L581.88 523.03L582.12 531.4L582.35 539.99L582.58 548.74L582.82 557.6L583.05 566.51L583.28 575.43L583.52 584.29L583.75 593.03L583.98 601.62L584.22 609.99L584.45 618.09L584.68 625.87L584.92 633.29L585.15 640.29L585.38 646.84L585.62 652.89L585.85 658.41L586.08 663.37L586.32 667.72L586.55 671.46L586.79 674.54L587.02 676.96L587.25 678.7L587.49 679.75L587.72 680.1L587.95 679.75L588.19 678.7L588.42 676.96L588.65 674.54L588.89 671.46L589.12 667.73L589.35 663.37L589.59 658.42L589.82 652.9L590.05 646.85L590.29 640.31L590.52 633.31L590.75 625.9L590.99 618.12L591.22 610.03L591.45 601.67L591.69 593.09L591.92 584.35L592.15 575.51L592.39 566.6L592.62 557.7L592.86 548.85L593.09 540.11L593.32 531.54L593.56 523.18L593.79 515.09L594.02 507.32L594.26 499.92L594.49 492.92L594.72 486.38L594.96 480.34L595.19 474.83L595.42 469.88L595.66 465.53L595.89 461.81L596.12 458.73L596.36 456.31L596.59 454.58L596.82 453.54L597.06 453.19L597.29 453.55L597.52 454.6L597.76 456.34L597.99 458.76L598.22 461.85L598.46 465.58L598.69 469.94L598.92 474.89L599.16 480.41L599.39 486.46L599.63 493L599.86 500L600.09 507.41L600.33 515.18L600.56 523.28L600.79 531.63L601.03 540.21L601.26 548.94L601.49 557.79L601.73 566.69L601.96 575.59L602.19 584.44L602.43 593.17L602.66 601.74L602.89 610.1L603.13 618.18L603.36 625.95L603.59 633.36L603.83 640.35L604.06 646.89L604.29 652.93L604.53 658.45L604.76 663.39L604.99 667.74L605.23 671.47L605.46 674.55L605.7 676.97L605.93 678.7L606.16 679.75L606.4 680.1L606.63 679.75L606.86 678.7L607.1 676.97L607.33 674.55L607.56 671.47L607.8 667.75L608.03 663.4L608.26 658.45L608.5 652.94L608.73 646.9L608.96 640.37L609.2 633.38L609.43 625.98L609.66 618.22L609.9 610.14L610.13 601.79L610.36 593.23L610.6 584.5L610.83 575.67L611.06 566.78L611.3 557.89L611.53 549.06L611.76 540.33L612 531.77L612.23 523.43L612.47 515.35L612.7 507.59L612.93 500.2L613.17 493.22L613.4 486.69L613.63 480.65L613.87 475.15L614.1 470.21L614.33 465.87L614.57 462.15L614.8 459.07L615.03 456.66L615.27 454.93L615.5 453.89L615.73 453.55L615.97 453.9L616.2 454.95L616.43 456.69L616.67 459.11L616.9 462.19L617.13 465.92L617.37 470.27L617.6 475.21L617.83 480.72L618.07 486.76L618.3 493.3L618.54 500.28L618.77 507.68L619 515.44L619.24 523.52L619.47 531.87L619.7 540.43L619.94 549.15L620.17 557.98L620.4 566.87L620.64 575.75L620.87 584.59L621.1 593.31L621.34 601.86L621.57 610.21L621.8 618.28L622.04 626.04L622.27 633.43L622.5 640.41L622.74 646.94L622.97 652.98L623.2 658.48L623.44 663.42L623.67 667.76L623.9 671.48L624.14 674.56L624.37 676.97L624.61 678.71L624.84 679.75L625.07 680.1L625.31 679.75L625.54 678.71L625.77 676.97L626.01 674.56L626.24 671.48L626.47 667.76L626.71 663.42L626.94 658.49L627.17 652.99L627.41 646.95L627.64 640.43L627.87 633.45L628.11 626.07L628.34 618.32L628.57 610.25L628.81 601.91L629.04 593.36L629.27 584.65L629.51 575.83L629.74 566.96L629.97 558.08L630.21 549.26L630.44 540.55L630.67 532L630.91 523.67L631.14 515.61L631.38 507.86L631.61 500.48L631.84 493.51L632.08 486.99L632.31 480.96L632.54 475.47L632.78 470.54L633.01 466.2L633.24 462.49L633.48 459.42L633.71 457.01L633.94 455.29L634.18 454.25L634.41 453.9L634.64 454.25L634.88 455.3L635.11 457.04L635.34 459.45L635.58 462.53L635.81 466.25L636.04 470.6L636.28 475.53L636.51 481.03L636.74 487.07L636.98 493.59L637.21 500.57L637.45 507.95L637.68 515.7L637.91 523.77L638.15 532.1L638.38 540.64L638.61 549.35L638.85 558.17L639.08 567.05L639.31 575.92L639.55 584.73L639.78 593.44L640.01 601.99L640.25 610.32L640.48 618.38L640.71 626.12L640.95 633.5L641.18 640.48L641.41 646.99L641.65 653.02L641.88 658.51L642.11 663.44L642.35 667.78L642.58 671.5L642.81 674.57L643.05 676.98L643.28 678.71L643.52 679.75L643.75 680.1L643.98 679.75L644.22 678.71L644.45 676.98L644.68 674.57L644.92 671.5L645.15 667.78L645.38 663.45L645.62 658.52L645.85 653.03L646.08 647.01L646.32 640.49L646.55 633.53L646.78 626.15L647.02 618.41L647.25 610.36L647.48 602.04L647.72 593.5L647.95 584.8L648.18 576L648.42 567.13L648.65 558.27L648.88 549.47L649.12 540.77L649.35 532.24L649.58 523.92L649.82 515.87L650.05 508.13L650.29 500.76L650.52 493.8L650.75 487.29L650.99 481.28L651.22 475.79L651.45 470.87L651.69 466.54L651.92 462.83L652.15 459.77L652.39 457.36L652.62 455.64L652.85 454.6L653.09 454.26L653.32 454.61L653.55 455.66L653.79 457.39L654.02 459.8L654.25 462.87L654.49 466.59L654.72 470.93L654.95 475.85L655.19 481.35L655.42 487.37L655.65 493.88L655.89 500.85L656.12 508.22L656.36 515.96L656.59 524.01L656.82 532.33L657.06 540.86L657.29 549.56L657.52 558.36L657.76 567.22L657.99 576.08L658.22 584.88L658.46 593.58L658.69 602.11L658.92 610.43L659.16 618.48L659.39 626.21L659.62 633.58L659.86 640.54L660.09 647.05L660.32 653.06L660.56 658.55L660.79 663.47L661.02 667.8L661.26 671.51L661.49 674.58L661.72 676.98L661.96 678.71L662.19 679.75L662.42 680.1" stroke="#0000ff" stroke-width="2.8" fill="none" stroke-dasharray="2.9 2.24"/>
<text transform="translate(74.47 458.10) scale(0.73 1)" style="font-size:39.5px;fill:#262626;">1</text><text x="43.10" y="576.10" style="font-size:39.5px;fill:#262626;">0</text><text x="62.40" y="576.10" style="font-size:39.5px;fill:#262626;">.</text><text x="71.80" y="576.10" style="font-size:39.5px;fill:#262626;">5</text><text x="72.40" y="694.10" style="font-size:39.5px;fill:#262626;">0</text><text x="92.30" y="726.00" style="font-size:39.5px;fill:#262626;">0</text><text x="278.80" y="726.00" style="font-size:39.5px;fill:#262626;">5</text><text transform="translate(458.27 726.00) scale(0.73 1)" style="font-size:39.5px;fill:#262626;">1</text><text x="475.30" y="726.00" style="font-size:39.5px;fill:#262626;">0</text><text transform="translate(644.77 726.00) scale(0.73 1)" style="font-size:39.5px;fill:#262626;">1</text><text x="661.90" y="726.00" style="font-size:39.5px;fill:#262626;">5</text><text transform="translate(31.9 562.15) rotate(-90)" text-anchor="middle" style="font-size:42.6px;fill:#262626">Population</text><path d="M339.7 745.60L334.6 765.30" stroke="#262626" stroke-width="2.7" stroke-linecap="round" fill="none"/><path d="M334.6 765.30Q333.4 770.70 336.9 770.60Q340.2 770.30 342.7 764.70" stroke="#262626" stroke-width="1.9" stroke-linecap="round" fill="none"/><path d="M330.7 753.40H343.8" stroke="#262626" stroke-width="1.5" fill="none"/><path d="M347.9 780.60L363.4 739.40" stroke="#262626" stroke-width="1.7"/><g stroke="#262626" fill="none"><path d="M370.6 742.65H396.3" stroke-width="1.75"/><path d="M371.6 742.90Q368.6 745.80 367.4 751.30" stroke-width="1.3"/><path d="M396.2 742.50L394.8 751.50" stroke-width="1.4"/><path d="M382.7 743.30L377.2 769.90" stroke-width="3.1"/><path d="M368.2 770.35H384.3" stroke-width="1.45"/></g><text x="390.96" y="777.50" style="font-size:32.6px;fill:#262626;">C</text><text transform="translate(412.07 777.50) scale(1.1 1)" style="font-size:32.6px;fill:#262626;">P</text>
<rect x="495" y="582.50" width="157.3" height="87.80" fill="#fff" stroke="#262626" stroke-width="0.85"/><path d="M498.3 605.70H537.3" stroke="#ff0000" stroke-width="2.8"/><path d="M545.2 587.70V621.20" stroke="#000" stroke-width="1.5"/><text x="548.92" y="614.30" style="font-size:36.3px;">0</text><text x="567.12" y="614.30" style="font-size:36.3px;">;</text><text transform="translate(581.89 614.30) scale(0.85 1)" style="font-size:36.3px;">1</text><path d="M602.00 587.70L609.30 604.45L602.00 621.20" stroke="#000" stroke-width="1.4" fill="none" stroke-miterlimit="10"/><text x="614.32" y="618.80" style="font-size:27px;font-style:italic;">L</text><path d="M498.3 647.85H537.3" stroke="#0000ff" stroke-width="2.8" stroke-dasharray="2.9 2.24"/><path d="M545.2 629.85V663.35" stroke="#000" stroke-width="1.5"/><text transform="translate(549.99 656.45) scale(0.85 1)" style="font-size:36.3px;">1</text><text transform="translate(566.29 656.45) scale(0.85 1)" style="font-size:36.3px;">1</text><text x="585.12" y="656.45" style="font-size:36.3px;">;</text><text x="599.62" y="656.45" style="font-size:36.3px;">0</text><text x="616.62" y="656.45" style="font-size:36.3px;">0</text><path d="M636.60 629.85L643.90 646.60L636.60 663.35" stroke="#000" stroke-width="1.4" fill="none" stroke-miterlimit="10"/>
<path d="M288.89 1064.40V1058.40M288.89 828.10V834.10M475.66 1064.40V1058.40M475.66 828.10V834.10M102.13 946.25H108.13M662.43 946.25H656.43" stroke="#262626" stroke-width="0.85" fill="none"/>
<rect x="102.13" y="828.10" width="560.30" height="236.30" stroke="#262626" stroke-width="0.85" fill="none"/>
<path d="M102.13 828.1L102.25 828.47L102.36 829.55L102.48 831.32L102.6 833.75L102.71 836.76L102.83 840.29L102.95 844.24L103.06 848.52L103.18 853.03L103.3 857.65L103.41 862.28L103.53 866.78L103.65 871.07L103.76 875.02L103.88 878.55L104 881.56L104.11 883.98L104.23 885.75L104.35 886.84L104.46 887.2L104.58 886.84L104.7 885.76L104.81 883.99L104.93 881.57L105.05 878.56L105.16 875.04L105.28 871.09L105.4 866.81L105.52 862.3L105.63 857.69L105.75 853.07L105.87 848.56L105.98 844.28L106.1 840.34L106.22 836.81L106.33 833.81L106.45 831.39L106.57 829.62L106.68 828.54L106.8 828.17L106.92 828.54L107.03 829.62L107.15 831.4L107.27 833.82L107.38 836.83L107.5 840.36L107.62 844.31L107.73 848.59L107.85 853.1L107.97 857.72L108.08 862.34L108.2 866.85L108.32 871.13L108.43 875.08L108.55 878.6L108.67 881.61L108.78 884.04L108.9 885.81L109.02 886.89L109.13 887.26L109.25 886.9L109.37 885.82L109.48 884.04L109.6 881.63L109.72 878.62L109.83 875.1L109.95 871.15L110.07 866.87L110.18 862.37L110.3 857.75L110.42 853.13L110.53 848.63L110.65 844.35L110.77 840.41L110.88 836.88L111 833.88L111.12 831.46L111.23 829.69L111.35 828.61L111.47 828.25L111.58 828.61L111.7 829.7L111.82 831.47L111.94 833.89L112.05 836.9L112.17 840.43L112.29 844.38L112.4 848.66L112.52 853.16L112.64 857.78L112.75 862.4L112.87 866.91L112.99 871.19L113.1 875.14L113.22 878.66L113.34 881.67L113.45 884.09L113.57 885.87L113.69 886.95L113.8 887.31L113.92 886.95L114.04 885.87L114.15 884.1L114.27 881.68L114.39 878.68L114.5 875.16L114.62 871.21L114.74 866.93L114.85 862.43L114.97 857.82L115.09 853.2L115.2 848.7L115.32 844.42L115.44 840.48L115.55 836.96L115.67 833.95L115.79 831.53L115.9 829.76L116.02 828.68L116.14 828.32L116.25 828.69L116.37 829.77L116.49 831.54L116.6 833.96L116.72 836.97L116.84 840.5L116.95 844.45L117.07 848.73L117.19 853.23L117.3 857.85L117.42 862.47L117.54 866.97L117.65 871.25L117.77 875.2L117.89 878.72L118.01 881.73L118.12 884.15L118.24 885.92L118.36 887L118.47 887.37L118.59 887.01L118.71 885.93L118.82 884.16L118.94 881.74L119.06 878.73L119.17 875.22L119.29 871.27L119.41 866.99L119.52 862.49L119.64 857.88L119.76 853.27L119.87 848.77L119.99 844.49L120.11 840.55L120.22 837.03L120.34 834.02L120.46 831.61L120.57 829.84L120.69 828.76L120.81 828.4L120.92 828.76L121.04 829.84L121.16 831.62L121.27 834.04L121.39 837.04L121.51 840.57L121.62 844.52L121.74 848.79L121.86 853.3L121.97 857.91L122.09 862.53L122.21 867.03L122.32 871.31L122.44 875.26L122.56 878.78L122.67 881.79L122.79 884.21L122.91 885.98L123.02 887.06L123.14 887.42L123.26 887.06L123.37 885.98L123.49 884.21L123.61 881.8L123.72 878.79L123.84 875.27L123.96 871.33L124.07 867.06L124.19 862.56L124.31 857.94L124.43 853.33L124.54 848.83L124.66 844.56L124.78 840.62L124.89 837.1L125.01 834.09L125.13 831.68L125.24 829.91L125.36 828.83L125.48 828.47L125.59 828.83L125.71 829.92L125.83 831.69L125.94 834.11L126.06 837.12L126.18 840.64L126.29 844.58L126.41 848.86L126.53 853.36L126.64 857.98L126.76 862.59L126.88 867.09L126.99 871.37L127.11 875.32L127.23 878.84L127.34 881.84L127.46 884.26L127.58 886.03L127.69 887.12L127.81 887.48L127.93 887.12L128.04 886.04L128.16 884.27L128.28 881.85L128.39 878.85L128.51 875.33L128.63 871.39L128.74 867.12L128.86 862.62L128.98 858.01L129.09 853.4L129.21 848.9L129.33 844.63L129.44 840.69L129.56 837.17L129.68 834.17L129.79 831.75L129.91 829.98L130.03 828.9L130.14 828.54L130.26 828.91L130.38 829.99L130.49 831.76L130.61 834.18L130.73 837.19L130.85 840.71L130.96 844.65L131.08 848.93L131.2 853.43L131.31 858.04L131.43 862.65L131.55 867.15L131.66 871.43L131.78 875.38L131.9 878.89L132.01 881.9L132.13 884.32L132.25 886.09L132.36 887.17L132.48 887.53L132.6 887.17L132.71 886.1L132.83 884.33L132.95 881.91L133.06 878.91L133.18 875.39L133.3 871.45L133.41 867.18L133.53 862.68L133.65 858.07L133.76 853.46L133.88 848.97L134 844.7L134.11 840.76L134.23 837.24L134.35 834.24L134.46 831.82L134.58 830.06L134.7 828.98L134.81 828.62L134.93 828.98L135.05 830.06L135.16 831.83L135.28 834.25L135.4 837.26L135.51 840.78L135.63 844.72L135.75 849L135.86 853.49L135.98 858.11L136.1 862.72L136.21 867.22L136.33 871.49L136.45 875.43L136.56 878.95L136.68 881.96L136.8 884.37L136.91 886.15L137.03 887.23L137.15 887.59L137.27 887.23L137.38 886.15L137.5 884.38L137.62 881.97L137.73 878.97L137.85 875.45L137.97 871.51L138.08 867.24L138.2 862.75L138.32 858.14L138.43 853.53L138.55 849.04L138.67 844.77L138.78 840.83L138.9 837.31L139.02 834.31L139.13 831.9L139.25 830.13L139.37 829.05L139.48 828.69L139.6 829.06L139.72 830.14L139.83 831.91L139.95 834.33L140.07 837.33L140.18 840.85L140.3 844.79L140.42 849.06L140.53 853.56L140.65 858.17L140.77 862.78L140.88 867.28L141 871.55L141.12 875.49L141.23 879.01L141.35 882.01L141.47 884.43L141.58 886.2L141.7 887.28L141.82 887.65L141.93 887.28L142.05 886.21L142.17 884.44L142.28 882.03L142.4 879.02L142.52 875.51L142.63 871.57L142.75 867.3L142.87 862.81L142.98 858.2L143.1 853.6L143.22 849.1L143.34 844.83L143.45 840.9L143.57 837.38L143.69 834.38L143.8 831.97L143.92 830.2L144.04 829.13L144.15 828.76L144.27 829.13L144.39 830.21L144.5 831.98L144.62 834.4L144.74 837.4L144.85 840.92L144.97 844.86L145.09 849.13L145.2 853.63L145.32 858.24L145.44 862.84L145.55 867.34L145.67 871.61L145.79 875.55L145.9 879.07L146.02 882.07L146.14 884.49L146.25 886.26L146.37 887.34L146.49 887.7L146.6 887.34L146.72 886.26L146.84 884.5L146.95 882.08L147.07 879.08L147.19 875.57L147.3 871.63L147.42 867.36L147.54 862.87L147.65 858.27L147.77 853.66L147.89 849.17L148 844.9L148.12 840.97L148.24 837.45L148.35 834.45L148.47 832.04L148.59 830.28L148.7 829.2L148.82 828.84L148.94 829.2L149.05 830.28L149.17 832.05L149.29 834.47L149.4 837.47L149.52 840.99L149.64 844.93L149.76 849.2L149.87 853.69L149.99 858.3L150.11 862.91L150.22 867.4L150.34 871.67L150.46 875.61L150.57 879.13L150.69 882.13L150.81 884.54L150.92 886.31L151.04 887.39L151.16 887.76L151.27 887.4L151.39 886.32L151.51 884.55L151.62 882.14L151.74 879.14L151.86 875.63L151.97 871.69L152.09 867.43L152.21 862.94L152.32 858.33L152.44 853.73L152.56 849.24L152.67 844.97L152.79 841.04L152.91 837.52L153.02 834.53L153.14 832.12L153.26 830.35L153.37 829.27L153.49 828.91L153.61 829.28L153.72 830.36L153.84 832.13L153.96 834.54L154.07 837.54L154.19 841.06L154.31 845L154.42 849.27L154.54 853.76L154.66 858.36L154.77 862.97L154.89 867.46L155.01 871.73L155.12 875.67L155.24 879.18L155.36 882.19L155.47 884.6L155.59 886.37L155.71 887.45L155.82 887.81L155.94 887.45L156.06 886.37L156.18 884.61L156.29 882.2L156.41 879.2L156.53 875.69L156.64 871.75L156.76 867.49L156.88 863L156.99 858.4L157.11 853.79L157.23 849.31L157.34 845.04L157.46 841.11L157.58 837.6L157.69 834.6L157.81 832.19L157.93 830.42L158.04 829.35L158.16 828.99L158.28 829.35L158.39 830.43L158.51 832.2L158.63 834.61L158.74 837.61L158.86 841.13L158.98 845.07L159.09 849.33L159.21 853.82L159.33 858.43L159.44 863.03L159.56 867.52L159.68 871.79L159.79 875.73L159.91 879.24L160.03 882.24L160.14 884.66L160.26 886.42L160.38 887.5L160.49 887.87L160.61 887.51L160.73 886.43L160.84 884.66L160.96 882.25L161.08 879.26L161.19 875.75L161.31 871.81L161.43 867.55L161.54 863.06L161.66 858.46L161.78 853.86L161.89 849.37L162.01 845.11L162.13 841.18L162.24 837.67L162.36 834.67L162.48 832.26L162.6 830.5L162.71 829.42L162.83 829.06L162.95 829.42L163.06 830.5L163.18 832.27L163.3 834.69L163.41 837.69L163.53 841.2L163.65 845.13L163.76 849.4L163.88 853.89L164 858.49L164.11 863.1L164.23 867.59L164.35 871.85L164.46 875.79L164.58 879.3L164.7 882.3L164.81 884.71L164.93 886.48L165.05 887.56L165.16 887.92L165.28 887.56L165.4 886.49L165.51 884.72L165.63 882.31L165.75 879.32L165.86 875.81L165.98 871.87L166.1 867.61L166.21 863.13L166.33 858.53L166.45 853.93L166.56 849.44L166.68 845.18L166.8 841.25L166.91 837.74L167.03 834.74L167.15 832.33L167.26 830.57L167.38 829.49L167.5 829.13L167.61 829.5L167.73 830.58L167.85 832.34L167.96 834.76L168.08 837.76L168.2 841.27L168.31 845.2L168.43 849.47L168.55 853.96L168.67 858.56L168.78 863.16L168.9 867.65L169.02 871.91L169.13 875.85L169.25 879.36L169.37 882.36L169.48 884.77L169.6 886.54L169.72 887.61L169.83 887.98L169.95 887.62L170.07 886.54L170.18 884.78L170.3 882.37L170.42 879.37L170.53 875.87L170.65 871.93L170.77 867.67L170.88 863.19L171 858.59L171.12 853.99L171.23 849.51L171.35 845.25L171.47 841.32L171.58 837.81L171.7 834.82L171.82 832.41L171.93 830.64L172.05 829.57L172.17 829.21L172.28 829.57L172.4 830.65L172.52 832.42L172.63 834.83L172.75 837.83L172.87 841.34L172.98 845.27L173.1 849.54L173.22 854.02L173.33 858.62L173.45 863.22L173.57 867.71L173.68 871.97L173.8 875.91L173.92 879.42L174.03 882.41L174.15 884.83L174.27 886.59L174.38 887.67L174.5 888.03L174.62 887.67L174.73 886.6L174.85 884.83L174.97 882.43L175.09 879.43L175.2 875.93L175.32 871.99L175.44 867.73L175.55 863.25L175.67 858.66L175.79 854.06L175.9 849.58L176.02 845.32L176.14 841.39L176.25 837.88L176.37 834.89L176.49 832.48L176.6 830.72L176.72 829.64L176.84 829.28L176.95 829.65L177.07 830.72L177.19 832.49L177.3 834.9L177.42 837.9L177.54 841.41L177.65 845.34L177.77 849.6L177.89 854.09L178 858.69L178.12 863.29L178.24 867.77L178.35 872.03L178.47 875.97L178.59 879.47L178.7 882.47L178.82 884.88L178.94 886.65L179.05 887.73L179.17 888.09L179.29 887.73L179.4 886.65L179.52 884.89L179.64 882.48L179.75 879.49L179.87 875.98L179.99 872.05L180.1 867.8L180.22 863.31L180.34 858.72L180.45 854.12L180.57 849.64L180.69 845.39L180.8 841.46L180.92 837.95L181.04 834.96L181.15 832.55L181.27 830.79L181.39 829.72L181.51 829.36L181.62 829.72L181.74 830.8L181.86 832.56L181.97 834.97L182.09 837.97L182.21 841.48L182.32 845.41L182.44 849.67L182.56 854.15L182.67 858.75L182.79 863.35L182.91 867.83L183.02 872.09L183.14 876.03L183.26 879.53L183.37 882.53L183.49 884.94L183.61 886.7L183.72 887.78L183.84 888.14L183.96 887.78L184.07 886.71L184.19 884.95L184.31 882.54L184.42 879.55L184.54 876.04L184.66 872.12L184.77 867.86L184.89 863.38L185.01 858.78L185.12 854.19L185.24 849.71L185.36 845.45L185.47 841.53L185.59 838.02L185.71 835.03L185.82 832.63L185.94 830.86L186.06 829.79L186.17 829.43L186.29 829.79L186.41 830.87L186.52 832.64L186.64 835.05L186.76 838.04L186.87 841.55L186.99 845.48L187.11 849.74L187.22 854.22L187.34 858.82L187.46 863.41L187.57 867.9L187.69 872.15L187.81 876.09L187.93 879.59L188.04 882.59L188.16 884.99L188.28 886.76L188.39 887.84L188.51 888.2L188.63 887.84L188.74 886.77L188.86 885L188.98 882.6L189.09 879.61L189.21 876.1L189.33 872.18L189.44 867.92L189.56 863.44L189.68 858.85L189.79 854.26L189.91 849.78L190.03 845.52L190.14 841.6L190.26 838.09L190.38 835.1L190.49 832.7L190.61 830.94L190.73 829.86L190.84 829.5L190.96 829.87L191.08 830.94L191.19 832.71L191.31 835.12L191.43 838.11L191.54 841.62L191.66 845.55L191.78 849.81L191.89 854.29L192.01 858.88L192.13 863.48L192.24 867.96L192.36 872.21L192.48 876.14L192.59 879.65L192.71 882.64L192.83 885.05L192.94 886.82L193.06 887.89L193.18 888.25L193.29 887.89L193.41 886.82L193.53 885.06L193.64 882.65L193.76 879.66L193.88 876.16L194 872.24L194.11 867.98L194.23 863.5L194.35 858.91L194.46 854.32L194.58 849.85L194.7 845.59L194.81 841.67L194.93 838.17L195.05 835.18L195.16 832.77L195.28 831.01L195.4 829.94L195.51 829.58L195.63 829.94L195.75 831.02L195.86 832.78L195.98 835.19L196.1 838.18L196.21 841.69L196.33 845.62L196.45 849.87L196.56 854.35L196.68 858.95L196.8 863.54L196.91 868.02L197.03 872.28L197.15 876.2L197.26 879.71L197.38 882.7L197.5 885.11L197.61 886.87L197.73 887.95L197.85 888.31L197.96 887.95L198.08 886.88L198.2 885.12L198.31 882.71L198.43 879.72L198.55 876.22L198.66 872.3L198.78 868.04L198.9 863.57L199.01 858.98L199.13 854.39L199.25 849.91L199.36 845.66L199.48 841.74L199.6 838.24L199.71 835.25L199.83 832.84L199.95 831.08L200.06 830.01L200.18 829.65L200.3 830.01L200.42 831.09L200.53 832.85L200.65 835.26L200.77 838.25L200.88 841.76L201 845.68L201.12 849.94L201.23 854.42L201.35 859.01L201.47 863.6L201.58 868.08L201.7 872.34L201.82 876.26L201.93 879.77L202.05 882.76L202.17 885.16L202.28 886.93L202.4 888L202.52 888.37L202.63 888.01L202.75 886.93L202.87 885.17L202.98 882.77L203.1 879.78L203.22 876.28L203.33 872.36L203.45 868.11L203.57 863.63L203.68 859.04L203.8 854.46L203.92 849.98L204.03 845.73L204.15 841.81L204.27 838.31L204.38 835.32L204.5 832.92L204.62 831.16L204.73 830.08L204.85 829.72L204.97 830.09L205.08 831.16L205.2 832.93L205.32 835.33L205.43 838.33L205.55 841.83L205.67 845.75L205.78 850.01L205.9 854.48L206.02 859.08L206.13 863.67L206.25 868.14L206.37 872.4L206.48 876.32L206.6 879.82L206.72 882.81L206.84 885.22L206.95 886.98L207.07 888.06L207.19 888.42L207.3 888.06L207.42 886.99L207.54 885.23L207.65 882.83L207.77 879.84L207.89 876.34L208 872.42L208.12 868.17L208.24 863.69L208.35 859.11L208.47 854.52L208.59 850.05L208.7 845.8L208.82 841.88L208.94 838.38L209.05 835.39L209.17 832.99L209.29 831.23L209.4 830.16L209.52 829.8L209.64 830.16L209.75 831.24L209.87 833L209.99 835.41L210.1 838.4L210.22 841.9L210.34 845.82L210.45 850.08L210.57 854.55L210.69 859.14L210.8 863.73L210.92 868.2L211.04 872.46L211.15 876.38L211.27 879.88L211.39 882.87L211.5 885.28L211.62 887.04L211.74 888.11L211.85 888.48L211.97 888.12L212.09 887.04L212.2 885.28L212.32 882.88L212.44 879.9L212.55 876.4L212.67 872.48L212.79 868.23L212.9 863.76L213.02 859.17L213.14 854.59L213.26 850.12L213.37 845.87L213.49 841.95L213.61 838.45L213.72 835.46L213.84 833.06L213.96 831.3L214.07 830.23L214.19 829.87L214.31 830.24L214.42 831.31L214.54 833.07L214.66 835.48L214.77 838.47L214.89 841.97L215.01 845.89L215.12 850.14L215.24 854.62L215.36 859.2L215.47 863.79L215.59 868.27L215.71 872.52L215.82 876.44L215.94 879.94L216.06 882.93L216.17 885.33L216.29 887.09L216.41 888.17L216.52 888.53L216.64 888.17L216.76 887.1L216.87 885.34L216.99 882.94L217.11 879.95L217.22 876.46L217.34 872.54L217.46 868.29L217.57 863.82L217.69 859.24L217.81 854.65L217.92 850.18L218.04 845.94L218.16 842.02L218.27 838.52L218.39 835.54L218.51 833.13L218.62 831.38L218.74 830.31L218.86 829.95L218.97 830.31L219.09 831.38L219.21 833.15L219.33 835.55L219.44 838.54L219.56 842.04L219.68 845.96L219.79 850.21L219.91 854.68L220.03 859.27L220.14 863.85L220.26 868.33L220.38 872.58L220.49 876.5L220.61 880L220.73 882.99L220.84 885.39L220.96 887.15L221.08 888.23L221.19 888.59L221.31 888.23L221.43 887.16L221.54 885.4L221.66 883L221.78 880.01L221.89 876.52L222.01 872.6L222.13 868.35L222.24 863.88L222.36 859.3L222.48 854.72L222.59 850.25L222.71 846L222.83 842.09L222.94 838.59L223.06 835.61L223.18 833.21L223.29 831.45L223.41 830.38L223.53 830.02L223.64 830.38L223.76 831.46L223.88 833.22L223.99 835.62L224.11 838.61L224.23 842.11L224.34 846.03L224.46 850.28L224.58 854.75L224.69 859.33L224.81 863.92L224.93 868.39L225.04 872.64L225.16 876.56L225.28 880.06L225.39 883.04L225.51 885.45L225.63 887.21L225.75 888.28L225.86 888.64L225.98 888.28L226.1 887.21L226.21 885.45L226.33 883.05L226.45 880.07L226.56 876.58L226.68 872.66L226.8 868.41L226.91 863.95L227.03 859.37L227.15 854.79L227.26 850.32L227.38 846.07L227.5 842.16L227.61 838.66L227.73 835.68L227.85 833.28L227.96 831.52L228.08 830.45L228.2 830.09L228.31 830.46L228.43 831.53L228.55 833.29L228.66 835.69L228.78 838.68L228.9 842.18L229.01 846.1L229.13 850.34L229.25 854.82L229.36 859.4L229.48 863.98L229.6 868.45L229.71 872.7L229.83 876.62L229.95 880.11L230.06 883.1L230.18 885.5L230.3 887.26L230.41 888.34L230.53 888.7L230.65 888.34L230.76 887.27L230.88 885.51L231 883.11L231.11 880.13L231.23 876.64L231.35 872.72L231.46 868.48L231.58 864.01L231.7 859.43L231.81 854.85L231.93 850.39L232.05 846.14L232.17 842.23L232.28 838.73L232.4 835.75L232.52 833.35L232.63 831.6L232.75 830.53L232.87 830.17L232.98 830.53L233.1 831.6L233.22 833.36L233.33 835.77L233.45 838.75L233.57 842.25L233.68 846.17L233.8 850.41L233.92 854.88L234.03 859.46L234.15 864.04L234.27 868.51L234.38 872.76L234.5 876.68L234.62 880.17L234.73 883.16L234.85 885.56L234.97 887.32L235.08 888.39L235.2 888.75L235.32 888.39L235.43 887.32L235.55 885.57L235.67 883.17L235.78 880.19L235.9 876.69L236.02 872.78L236.13 868.54L236.25 864.07L236.37 859.5L236.48 854.92L236.6 850.45L236.72 846.21L236.83 842.3L236.95 838.81L237.07 835.82L237.18 833.43L237.3 831.67L237.42 830.6L237.53 830.24L237.65 830.6L237.77 831.68L237.88 833.44L238 835.84L238.12 838.82L238.23 842.32L238.35 846.24L238.47 850.48L238.59 854.95L238.7 859.53L238.82 864.11L238.94 868.57L239.05 872.82L239.17 876.74L239.29 880.23L239.4 883.21L239.52 885.61L239.64 887.37L239.75 888.45L239.87 888.81L239.99 888.45L240.1 887.38L240.22 885.62L240.34 883.23L240.45 880.24L240.57 876.75L240.69 872.84L240.8 868.6L240.92 864.14L241.04 859.56L241.15 854.98L241.27 850.52L241.39 846.28L241.5 842.37L241.62 838.88L241.74 835.9L241.85 833.5L241.97 831.74L242.09 830.67L242.2 830.32L242.32 830.68L242.44 831.75L242.55 833.51L242.67 835.91L242.79 838.89L242.9 842.39L243.02 846.3L243.14 850.55L243.25 855.01L243.37 859.59L243.49 864.17L243.6 868.64L243.72 872.88L243.84 876.8L243.95 880.29L244.07 883.27L244.19 885.67L244.3 887.43L244.42 888.5L244.54 888.86L244.66 888.51L244.77 887.44L244.89 885.68L245.01 883.28L245.12 880.3L245.24 876.81L245.36 872.9L245.47 868.66L245.59 864.2L245.71 859.62L245.82 855.05L245.94 850.59L246.06 846.35L246.17 842.44L246.29 838.95L246.41 835.97L246.52 833.57L246.64 831.82L246.76 830.75L246.87 830.39L246.99 830.75L247.11 831.82L247.22 833.58L247.34 835.98L247.46 838.97L247.57 842.46L247.69 846.37L247.81 850.61L247.92 855.08L248.04 859.66L248.16 864.23L248.27 868.7L248.39 872.94L248.51 876.85L248.62 880.35L248.74 883.33L248.86 885.73L248.97 887.49L249.09 888.56L249.21 888.92L249.32 888.56L249.44 887.49L249.56 885.74L249.67 883.34L249.79 880.36L249.91 876.87L250.02 872.96L250.14 868.72L250.26 864.26L250.37 859.69L250.49 855.12L250.61 850.66L250.72 846.42L250.84 842.51L250.96 839.02L251.08 836.04L251.19 833.64L251.31 831.89L251.43 830.82L251.54 830.46L251.66 830.82L251.78 831.9L251.89 833.66L252.01 836.05L252.13 839.04L252.24 842.53L252.36 846.44L252.48 850.68L252.59 855.15L252.71 859.72L252.83 864.3L252.94 868.76L253.06 873L253.18 876.91L253.29 880.4L253.41 883.39L253.53 885.78L253.64 887.54L253.76 888.61L253.88 888.97L253.99 888.62L254.11 887.55L254.23 885.79L254.34 883.4L254.46 880.42L254.58 876.93L254.69 873.02L254.81 868.78L254.93 864.33L255.04 859.75L255.16 855.18L255.28 850.72L255.39 846.49L255.51 842.58L255.63 839.09L255.74 836.11L255.86 833.72L255.98 831.96L256.09 830.89L256.21 830.54L256.33 830.9L256.44 831.97L256.56 833.73L256.68 836.13L256.79 839.11L256.91 842.6L257.03 846.51L257.14 850.75L257.26 855.21L257.38 859.79L257.5 864.36L257.61 868.82L257.73 873.06L257.85 876.97L257.96 880.46L258.08 883.44L258.2 885.84L258.31 887.6L258.43 888.67L258.55 889.03L258.66 888.67L258.78 887.6L258.9 885.85L259.01 883.45L259.13 880.48L259.25 876.99L259.36 873.08L259.48 868.85L259.6 864.39L259.71 859.82L259.83 855.25L259.95 850.79L260.06 846.56L260.18 842.65L260.3 839.16L260.41 836.18L260.53 833.79L260.65 832.04L260.76 830.97L260.88 830.61L261 830.97L261.11 832.04L261.23 833.8L261.35 836.2L261.46 839.18L261.58 842.67L261.7 846.58L261.81 850.82L261.93 855.28L262.05 859.85L262.16 864.42L262.28 868.88L262.4 873.12L262.51 877.03L262.63 880.52L262.75 883.5L262.86 885.9L262.98 887.65L263.1 888.72L263.21 889.09L263.33 888.73L263.45 887.66L263.56 885.91L263.68 883.51L263.8 880.53L263.92 877.05L264.03 873.14L264.15 868.91L264.27 864.45L264.38 859.88L264.5 855.31L264.62 850.86L264.73 846.62L264.85 842.72L264.97 839.23L265.08 836.26L265.2 833.86L265.32 832.11L265.43 831.04L265.55 830.68L265.67 831.05L265.78 832.12L265.9 833.87L266.02 836.27L266.13 839.25L266.25 842.74L266.37 846.65L266.48 850.88L266.6 855.34L266.72 859.92L266.83 864.49L266.95 868.95L267.07 873.18L267.18 877.09L267.3 880.58L267.42 883.56L267.53 885.95L267.65 887.71L267.77 888.78L267.88 889.14L268 888.78L268.12 887.71L268.23 885.96L268.35 883.57L268.47 880.59L268.58 877.11L268.7 873.2L268.82 868.97L268.93 864.51L269.05 859.95L269.17 855.38L269.28 850.93L269.4 846.69L269.52 842.79L269.63 839.3L269.75 836.33L269.87 833.94L269.99 832.18L270.1 831.12L270.22 830.76L270.34 831.12L270.45 832.19L270.57 833.95L270.69 836.34L270.8 839.32L270.92 842.81L271.04 846.72L271.15 850.95L271.27 855.41L271.39 859.98L271.5 864.55L271.62 869.01L271.74 873.24L271.85 877.15L271.97 880.64L272.09 883.61L272.2 886.01L272.32 887.76L272.44 888.84L272.55 889.2L272.67 888.84L272.79 887.77L272.9 886.02L273.02 883.63L273.14 880.65L273.25 877.17L273.37 873.26L273.49 869.03L273.6 864.58L273.72 860.01L273.84 855.45L273.95 850.99L274.07 846.76L274.19 842.86L274.3 839.37L274.42 836.4L274.54 834.01L274.65 832.26L274.77 831.19L274.89 830.83L275 831.19L275.12 832.26L275.24 834.02L275.35 836.42L275.47 839.39L275.59 842.88L275.7 846.79L275.82 851.02L275.94 855.48L276.05 860.04L276.17 864.61L276.29 869.07L276.41 873.3L276.52 877.21L276.64 880.69L276.76 883.67L276.87 886.07L276.99 887.82L277.11 888.89L277.22 889.25L277.34 888.89L277.46 887.83L277.57 886.07L277.69 883.68L277.81 880.71L277.92 877.23L278.04 873.32L278.16 869.09L278.27 864.64L278.39 860.08L278.51 855.51L278.62 851.06L278.74 846.83L278.86 842.93L278.97 839.45L279.09 836.47L279.21 834.08L279.32 832.33L279.44 831.26L279.56 830.91L279.67 831.27L279.79 832.34L279.91 834.09L280.02 836.49L280.14 839.46L280.26 842.95L280.37 846.85L280.49 851.09L280.61 855.54L280.72 860.11L280.84 864.68L280.96 869.13L281.07 873.36L281.19 877.27L281.31 880.75L281.42 883.73L281.54 886.12L281.66 887.88L281.77 888.95L281.89 889.31L282.01 888.95L282.12 887.88L282.24 886.13L282.36 883.74L282.47 880.77L282.59 877.29L282.71 873.38L282.83 869.16L282.94 864.7L283.06 860.14L283.18 855.58L283.29 851.13L283.41 846.9L283.53 843L283.64 839.52L283.76 836.55L283.88 834.15L283.99 832.4L284.11 831.34L284.23 830.98L284.34 831.34L284.46 832.41L284.58 834.17L284.69 836.56L284.81 839.53L284.93 843.02L285.04 846.92L285.16 851.15L285.28 855.61L285.39 860.17L285.51 864.74L285.63 869.19L285.74 873.42L285.86 877.33L285.98 880.81L286.09 883.79L286.21 886.18L286.33 887.93L286.44 889L286.56 889.36L286.68 889L286.79 887.94L286.91 886.19L287.03 883.8L287.14 880.83L287.26 877.35L287.38 873.44L287.49 869.22L287.61 864.77L287.73 860.21L287.84 855.64L287.96 851.2L288.08 846.97L288.19 843.07L288.31 839.59L288.43 836.62L288.54 834.23L288.66 832.48L288.78 831.41L288.9 831.05L289.01 831.41L289.13 832.49L289.25 834.24L289.36 836.63L289.48 839.61L289.6 843.09L289.71 846.99L289.83 851.22L289.95 855.67L290.06 860.24L290.18 864.8L290.3 869.25L290.41 873.48L290.53 877.39L290.65 880.87L290.76 883.84L290.88 886.24L291 887.99L291.11 889.06L291.23 889.42L291.35 889.06L291.46 887.99L291.58 886.24L291.7 883.85L291.81 880.88L291.93 877.41L292.05 873.5L292.16 869.28L292.28 864.83L292.4 860.27L292.51 855.71L292.63 851.26L292.75 847.04L292.86 843.14L292.98 839.66L293.1 836.69L293.21 834.3L293.33 832.55L293.45 831.48L293.56 831.13L293.68 831.49L293.8 832.56L293.91 834.31L294.03 836.7L294.15 839.68L294.26 843.16L294.38 847.06L294.5 851.29L294.61 855.74L294.73 860.3L294.85 864.87L294.96 869.32L295.08 873.54L295.2 877.45L295.32 880.93L295.43 883.9L295.55 886.29L295.67 888.04L295.78 889.11L295.9 889.47L296.02 889.12L296.13 888.05L296.25 886.3L296.37 883.91L296.48 880.94L296.6 877.46L296.72 873.57L296.83 869.34L296.95 864.89L297.07 860.34L297.18 855.78L297.3 851.33L297.42 847.11L297.53 843.21L297.65 839.73L297.77 836.76L297.88 834.37L298 832.62L298.12 831.56L298.23 831.2L298.35 831.56L298.47 832.63L298.58 834.38L298.7 836.78L298.82 839.75L298.93 843.23L299.05 847.13L299.17 851.36L299.28 855.81L299.4 860.37L299.52 864.93L299.63 869.38L299.75 873.6L299.87 877.51L299.98 880.99L300.1 883.96L300.22 886.35L300.33 888.1L300.45 889.17L300.57 889.53L300.68 889.17L300.8 888.11L300.92 886.36L301.03 883.97L301.15 881L301.27 877.52L301.38 873.63L301.5 869.4L301.62 864.96L301.74 860.4L301.85 855.84L301.97 851.4L302.09 847.17L302.2 843.28L302.32 839.8L302.44 836.83L302.55 834.45L302.67 832.7L302.79 831.63L302.9 831.28L303.02 831.64L303.14 832.71L303.25 834.46L303.37 836.85L303.49 839.82L303.6 843.3L303.72 847.2L303.84 851.42L303.95 855.87L304.07 860.43L304.19 864.99L304.3 869.44L304.42 873.67L304.54 877.56L304.65 881.04L304.77 884.01L304.89 886.4L305 888.16L305.12 889.22L305.24 889.58L305.35 889.23L305.47 888.16L305.59 886.41L305.7 884.03L305.82 881.06L305.94 877.58L306.05 873.69L306.17 869.46L306.29 865.02L306.4 860.46L306.52 855.91L306.64 851.46L306.75 847.24L306.87 843.35L306.99 839.87L307.1 836.91L307.22 834.52L307.34 832.77L307.45 831.71L307.57 831.35L307.69 831.71L307.8 832.78L307.92 834.53L308.04 836.92L308.16 839.89L308.27 843.37L308.39 847.27L308.51 851.49L308.62 855.94L308.74 860.5L308.86 865.06L308.97 869.5L309.09 873.73L309.21 877.62L309.32 881.1L309.44 884.07L309.56 886.46L309.67 888.21L309.79 889.28L309.91 889.64L310.02 889.28L310.14 888.22L310.26 886.47L310.37 884.08L310.49 881.12L310.61 877.64L310.72 873.75L310.84 869.53L310.96 865.08L311.07 860.53L311.19 855.97L311.31 851.53L311.42 847.31L311.54 843.42L311.66 839.94L311.77 836.98L311.89 834.59L312.01 832.84L312.12 831.78L312.24 831.42L312.36 831.78L312.47 832.85L312.59 834.6L312.71 836.99L312.82 839.96L312.94 843.44L313.06 847.34L313.17 851.56L313.29 856L313.41 860.56L313.52 865.12L313.64 869.56L313.76 873.79L313.87 877.68L313.99 881.16L314.11 884.13L314.23 886.52L314.34 888.27L314.46 889.34L314.58 889.69L314.69 889.34L314.81 888.27L314.93 886.53L315.04 884.14L315.16 881.17L315.28 877.7L315.39 873.81L315.51 869.59L315.63 865.15L315.74 860.59L315.86 856.04L315.98 851.6L316.09 847.38L316.21 843.49L316.33 840.01L316.44 837.05L316.56 834.66L316.68 832.92L316.79 831.85L316.91 831.5L317.03 831.86L317.14 832.93L317.26 834.68L317.38 837.06L317.49 840.03L317.61 843.51L317.73 847.4L317.84 851.63L317.96 856.07L318.08 860.63L318.19 865.18L318.31 869.62L318.43 873.85L318.54 877.74L318.66 881.22L318.78 884.19L318.89 886.57L319.01 888.32L319.13 889.39L319.24 889.75L319.36 889.39L319.48 888.33L319.59 886.58L319.71 884.2L319.83 881.23L319.94 877.76L320.06 873.87L320.18 869.65L320.29 865.21L320.41 860.66L320.53 856.11L320.65 851.67L320.76 847.45L320.88 843.56L321 840.09L321.11 837.12L321.23 834.74L321.35 832.99L321.46 831.93L321.58 831.57L321.7 831.93L321.81 833L321.93 834.75L322.05 837.14L322.16 840.1L322.28 843.58L322.4 847.47L322.51 851.69L322.63 856.14L322.75 860.69L322.86 865.24L322.98 869.69L323.1 873.91L323.21 877.8L323.33 881.28L323.45 884.24L323.56 886.63L323.68 888.38L323.8 889.45L323.91 889.81L324.03 889.45L324.15 888.38L324.26 886.64L324.38 884.25L324.5 881.29L324.61 877.82L324.73 873.93L324.85 869.71L324.96 865.27L325.08 860.72L325.2 856.17L325.31 851.73L325.43 847.52L325.55 843.63L325.66 840.16L325.78 837.19L325.9 834.81L326.01 833.06L326.13 832L326.25 831.64L326.36 832L326.48 833.07L326.6 834.82L326.71 837.21L326.83 840.17L326.95 843.65L327.07 847.54L327.18 851.76L327.3 856.2L327.42 860.76L327.53 865.31L327.65 869.75L327.77 873.97L327.88 877.86L328 881.33L328.12 884.3L328.23 886.69L328.35 888.43L328.47 889.5L328.58 889.86L328.7 889.5L328.82 888.44L328.93 886.69L329.05 884.31L329.17 881.35L329.28 877.88L329.4 873.99L329.52 869.77L329.63 865.34L329.75 860.79L329.87 856.24L329.98 851.8L330.1 847.59L330.22 843.7L330.33 840.23L330.45 837.27L330.57 834.88L330.68 833.14L330.8 832.07L330.92 831.72L331.03 832.08L331.15 833.15L331.27 834.89L331.38 837.28L331.5 840.25L331.62 843.72L331.73 847.61L331.85 851.83L331.97 856.27L332.08 860.82L332.2 865.37L332.32 869.81L332.43 874.03L332.55 877.92L332.67 881.39L332.78 884.36L332.9 886.74L333.02 888.49L333.13 889.56L333.25 889.92L333.37 889.56L333.49 888.5L333.6 886.75L333.72 884.37L333.84 881.41L333.95 877.94L334.07 874.05L334.19 869.83L334.3 865.4L334.42 860.85L334.54 856.3L334.65 851.87L334.77 847.66L334.89 843.77L335 840.3L335.12 837.34L335.24 834.96L335.35 833.21L335.47 832.15L335.59 831.79L335.7 832.15L335.82 833.22L335.94 834.97L336.05 837.35L336.17 840.32L336.29 843.79L336.4 847.68L336.52 851.9L336.64 856.33L336.75 860.88L336.87 865.43L336.99 869.87L337.1 874.09L337.22 877.98L337.34 881.45L337.45 884.41L337.57 886.8L337.69 888.55L337.8 889.61L337.92 889.97L338.04 889.62L338.15 888.55L338.27 886.81L338.39 884.43L338.5 881.46L338.62 878L338.74 874.11L338.85 869.9L338.97 865.46L339.09 860.92L339.2 856.37L339.32 851.94L339.44 847.72L339.56 843.84L339.67 840.37L339.79 837.41L339.91 835.03L340.02 833.28L340.14 832.22L340.26 831.87L340.37 832.23L340.49 833.29L340.61 835.04L340.72 837.42L340.84 840.39L340.96 843.86L341.07 847.75L341.19 851.96L341.31 856.4L341.42 860.95L341.54 865.5L341.66 869.93L341.77 874.15L341.89 878.04L342.01 881.51L342.12 884.47L342.24 886.86L342.36 888.6L342.47 889.67L342.59 890.03L342.71 889.67L342.82 888.61L342.94 886.86L343.06 884.48L343.17 881.52L343.29 878.06L343.41 874.17L343.52 869.96L343.64 865.53L343.76 860.98L343.87 856.44L343.99 852L344.11 847.79L344.22 843.91L344.34 840.44L344.46 837.48L344.57 835.1L344.69 833.36L344.81 832.3L344.92 831.94L345.04 832.3L345.16 833.37L345.27 835.11L345.39 837.5L345.51 840.46L345.62 843.93L345.74 847.82L345.86 852.03L345.98 856.47L346.09 861.01L346.21 865.56L346.33 870L346.44 874.21L346.56 878.1L346.68 881.57L346.79 884.53L346.91 886.91L347.03 888.66L347.14 889.72L347.26 890.08L347.38 889.73L347.49 888.66L347.61 886.92L347.73 884.54L347.84 881.58L347.96 878.12L348.08 874.23L348.19 870.02L348.31 865.59L348.43 861.05L348.54 856.5L348.66 852.07L348.78 847.86L348.89 843.98L349.01 840.51L349.13 837.55L349.24 835.17L349.36 833.43L349.48 832.37L349.59 832.01L349.71 832.37L349.83 833.44L349.94 835.19L350.06 837.57L350.18 840.53L350.29 844L350.41 847.89L350.53 852.1L350.64 856.53L350.76 861.08L350.88 865.62L350.99 870.06L351.11 874.27L351.23 878.16L351.34 881.62L351.46 884.59L351.58 886.97L351.69 888.71L351.81 889.78L351.93 890.14L352.04 889.78L352.16 888.72L352.28 886.98L352.4 884.6L352.51 881.64L352.63 878.17L352.75 874.29L352.86 870.08L352.98 865.65L353.1 861.11L353.21 856.57L353.33 852.14L353.45 847.93L353.56 844.05L353.68 840.58L353.8 837.63L353.91 835.25L354.03 833.51L354.15 832.44L354.26 832.09L354.38 832.45L354.5 833.51L354.61 835.26L354.73 837.64L354.85 840.6L354.96 844.07L355.08 847.96L355.2 852.17L355.31 856.6L355.43 861.14L355.55 865.69L355.66 870.12L355.78 874.33L355.9 878.22L356.01 881.68L356.13 884.64L356.25 887.02L356.36 888.77L356.48 889.83L356.6 890.19L356.71 889.84L356.83 888.78L356.95 887.03L357.06 884.65L357.18 881.7L357.3 878.23L357.41 874.35L357.53 870.14L357.65 865.72L357.76 861.18L357.88 856.64L358 852.21L358.11 848L358.23 844.12L358.35 840.66L358.46 837.7L358.58 835.32L358.7 833.58L358.82 832.52L358.93 832.16L359.05 832.52L359.17 833.59L359.28 835.33L359.4 837.71L359.52 840.67L359.63 844.14L359.75 848.02L359.87 852.23L359.98 856.66L360.1 861.21L360.22 865.75L360.33 870.18L360.45 874.39L360.57 878.28L360.68 881.74L360.8 884.7L360.92 887.08L361.03 888.83L361.15 889.89L361.27 890.25L361.38 889.89L361.5 888.83L361.62 887.09L361.73 884.71L361.85 881.75L361.97 878.29L362.08 874.41L362.2 870.21L362.32 865.78L362.43 861.24L362.55 856.7L362.67 852.27L362.78 848.07L362.9 844.19L363.02 840.73L363.13 837.77L363.25 835.39L363.37 833.65L363.48 832.59L363.6 832.24L363.72 832.59L363.83 833.66L363.95 835.4L364.07 837.78L364.18 840.74L364.3 844.21L364.42 848.09L364.53 852.3L364.65 856.73L364.77 861.27L364.89 865.81L365 870.24L365.12 874.45L365.24 878.33L365.35 881.8L365.47 884.76L365.59 887.14L365.7 888.88L365.82 889.95L365.94 890.3L366.05 889.95L366.17 888.89L366.29 887.15L366.4 884.77L366.52 881.81L366.64 878.35L366.75 874.47L366.87 870.27L366.99 865.84L367.1 861.3L367.22 856.77L367.34 852.34L367.45 848.14L367.57 844.26L367.69 840.8L367.8 837.84L367.92 835.47L368.04 833.73L368.15 832.66L368.27 832.31L368.39 832.67L368.5 833.73L368.62 835.48L368.74 837.86L368.85 840.82L368.97 844.28L369.09 848.16L369.2 852.37L369.32 856.8L369.44 861.34L369.55 865.88L369.67 870.3L369.79 874.51L369.9 878.39L370.02 881.86L370.14 884.81L370.25 887.19L370.37 888.94L370.49 890L370.6 890.36L370.72 890L370.84 888.94L370.95 887.2L371.07 884.83L371.19 881.87L371.31 878.41L371.42 874.53L371.54 870.33L371.66 865.9L371.77 861.37L371.89 856.83L372.01 852.41L372.12 848.21L372.24 844.33L372.36 840.87L372.47 837.91L372.59 835.54L372.71 833.8L372.82 832.74L372.94 832.38L373.06 832.74L373.17 833.81L373.29 835.55L373.41 837.93L373.52 840.89L373.64 844.35L373.76 848.23L373.87 852.44L373.99 856.86L374.11 861.4L374.22 865.94L374.34 870.37L374.46 874.57L374.57 878.45L374.69 881.91L374.81 884.87L374.92 887.25L375.04 888.99L375.16 890.06L375.27 890.41L375.39 890.06L375.51 889L375.62 887.26L375.74 884.88L375.86 881.93L375.97 878.47L376.09 874.59L376.21 870.39L376.32 865.97L376.44 861.43L376.56 856.9L376.67 852.48L376.79 848.28L376.91 844.4L377.02 840.94L377.14 837.99L377.26 835.61L377.37 833.87L377.49 832.81L377.61 832.46L377.73 832.82L377.84 833.88L377.96 835.62L378.08 838L378.19 840.96L378.31 844.42L378.43 848.3L378.54 852.5L378.66 856.93L378.78 861.47L378.89 866L379.01 870.43L379.13 874.63L379.24 878.51L379.36 881.97L379.48 884.93L379.59 887.31L379.71 889.05L379.83 890.11L379.94 890.47L380.06 890.11L380.18 889.05L380.29 887.31L380.41 884.94L380.53 881.99L380.64 878.53L380.76 874.65L380.88 870.45L380.99 866.03L381.11 861.5L381.23 856.97L381.34 852.54L381.46 848.34L381.58 844.47L381.69 841.01L381.81 838.06L381.93 835.68L382.04 833.95L382.16 832.89L382.28 832.53L382.39 832.89L382.51 833.95L382.63 835.7L382.74 838.07L382.86 841.03L382.98 844.49L383.09 848.37L383.21 852.57L383.33 857L383.44 861.53L383.56 866.07L383.68 870.49L383.79 874.69L383.91 878.57L384.03 882.03L384.15 884.99L384.26 887.36L384.38 889.1L384.5 890.17L384.61 890.53L384.73 890.17L384.85 889.11L384.96 887.37L385.08 885L385.2 882.05L385.31 878.59L385.43 874.71L385.55 870.51L385.66 866.09L385.78 861.56L385.9 857.03L386.01 852.61L386.13 848.41L386.25 844.54L386.36 841.08L386.48 838.13L386.6 835.76L386.71 834.02L386.83 832.96L386.95 832.6L387.06 832.96L387.18 834.03L387.3 835.77L387.41 838.15L387.53 841.1L387.65 844.56L387.76 848.44L387.88 852.64L388 857.06L388.11 861.6L388.23 866.13L388.35 870.55L388.46 874.75L388.58 878.63L388.7 882.09L388.81 885.04L388.93 887.42L389.05 889.16L389.16 890.22L389.28 890.58L389.4 890.23L389.51 889.17L389.63 887.43L389.75 885.05L389.86 882.1L389.98 878.65L390.1 874.77L390.22 870.58L390.33 866.16L390.45 861.63L390.57 857.1L390.68 852.68L390.8 848.48L390.92 844.61L391.03 841.15L391.15 838.2L391.27 835.83L391.38 834.09L391.5 833.03L391.62 832.68L391.73 833.04L391.85 834.1L391.97 835.84L392.08 838.22L392.2 841.17L392.32 844.63L392.43 848.51L392.55 852.71L392.67 857.13L392.78 861.66L392.9 866.19L393.02 870.61L393.13 874.81L393.25 878.69L393.37 882.15L393.48 885.1L393.6 887.48L393.72 889.22L393.83 890.28L393.95 890.64L394.07 890.28L394.18 889.22L394.3 887.48L394.42 885.11L394.53 882.16L394.65 878.71L394.77 874.83L394.88 870.64L395 866.22L395.12 861.69L395.23 857.16L395.35 852.75L395.47 848.55L395.58 844.68L395.7 841.22L395.82 838.28L395.93 835.9L396.05 834.17L396.17 833.11L396.28 832.75L396.4 833.11L396.52 834.17L396.64 835.91L396.75 838.29L396.87 841.24L396.99 844.7L397.1 848.57L397.22 852.77L397.34 857.19L397.45 861.72L397.57 866.26L397.69 870.67L397.8 874.87L397.92 878.75L398.04 882.2L398.15 885.16L398.27 887.53L398.39 889.27L398.5 890.33L398.62 890.69L398.74 890.34L398.85 889.28L398.97 887.54L399.09 885.17L399.2 882.22L399.32 878.77L399.44 874.89L399.55 870.7L399.67 866.28L399.79 861.76L399.9 857.23L400.02 852.81L400.14 848.62L400.25 844.75L400.37 841.3L400.49 838.35L400.6 835.98L400.72 834.24L400.84 833.18L400.95 832.83L401.07 833.18L401.19 834.25L401.3 835.99L401.42 838.36L401.54 841.31L401.65 844.77L401.77 848.64L401.89 852.84L402 857.26L402.12 861.79L402.24 866.32L402.35 870.74L402.47 874.93L402.59 878.81L402.7 882.26L402.82 885.21L402.94 887.59L403.06 889.33L403.17 890.39L403.29 890.75L403.41 890.39L403.52 889.33L403.64 887.6L403.76 885.23L403.87 882.28L403.99 878.83L404.11 874.96L404.22 870.76L404.34 866.35L404.46 861.82L404.57 857.3L404.69 852.88L404.81 848.69L404.92 844.82L405.04 841.37L405.16 838.42L405.27 836.05L405.39 834.31L405.51 833.25L405.62 832.9L405.74 833.26L405.86 834.32L405.97 836.06L406.09 838.43L406.21 841.38L406.32 844.84L406.44 848.71L406.56 852.91L406.67 857.33L406.79 861.85L406.91 866.38L407.02 870.8L407.14 874.99L407.26 878.87L407.37 882.32L407.49 885.27L407.61 887.64L407.72 889.38L407.84 890.44L407.96 890.8L408.07 890.45L408.19 889.39L408.31 887.65L408.42 885.28L408.54 882.34L408.66 878.88L408.77 875.02L408.89 870.82L409.01 866.41L409.12 861.89L409.24 857.36L409.36 852.95L409.48 848.76L409.59 844.89L409.71 841.44L409.83 838.49L409.94 836.12L410.06 834.39L410.18 833.33L410.29 832.97L410.41 833.33L410.53 834.39L410.64 836.13L410.76 838.51L410.88 841.46L410.99 844.91L411.11 848.78L411.23 852.98L411.34 857.39L411.46 861.92L411.58 866.44L411.69 870.86L411.81 875.05L411.93 878.93L412.04 882.38L412.16 885.33L412.28 887.7L412.39 889.44L412.51 890.5L412.63 890.86L412.74 890.5L412.86 889.45L412.98 887.71L413.09 885.34L413.21 882.39L413.33 878.94L413.44 875.08L413.56 870.88L413.68 866.47L413.79 861.95L413.91 857.43L414.03 853.02L414.14 848.83L414.26 844.96L414.38 841.51L414.49 838.56L414.61 836.19L414.73 834.46L414.84 833.4L414.96 833.05L415.08 833.41L415.19 834.47L415.31 836.2L415.43 838.58L415.55 841.53L415.66 844.98L415.78 848.85L415.9 853.04L416.01 857.46L416.13 861.98L416.25 866.51L416.36 870.92L416.48 875.12L416.6 878.99L416.71 882.44L416.83 885.39L416.95 887.76L417.06 889.5L417.18 890.56L417.3 890.91L417.41 890.56L417.53 889.5L417.65 887.77L417.76 885.4L417.88 882.45L418 879L418.11 875.14L418.23 870.95L418.35 866.54L418.46 862.02L418.58 857.49L418.7 853.08L418.81 848.89L418.93 845.03L419.05 841.58L419.16 838.64L419.28 836.27L419.4 834.53L419.51 833.48L419.63 833.12L419.75 833.48L419.86 834.54L419.98 836.28L420.1 838.65L420.21 841.6L420.33 845.05L420.45 848.92L420.56 853.11L420.68 857.52L420.8 862.05L420.91 866.57L421.03 870.98L421.15 875.18L421.26 879.04L421.38 882.5L421.5 885.44L421.61 887.81L421.73 889.55L421.85 890.61L421.97 890.97L422.08 890.61L422.2 889.56L422.32 887.82L422.43 885.45L422.55 882.51L422.67 879.06L422.78 875.2L422.9 871.01L423.02 866.6L423.13 862.08L423.25 857.56L423.37 853.15L423.48 848.96L423.6 845.1L423.72 841.65L423.83 838.71L423.95 836.34L424.07 834.61L424.18 833.55L424.3 833.2L424.42 833.55L424.53 834.61L424.65 836.35L424.77 838.72L424.88 841.67L425 845.12L425.12 848.99L425.23 853.18L425.35 857.59L425.47 862.11L425.58 866.63L425.7 871.05L425.82 875.24L425.93 879.1L426.05 882.55L426.17 885.5L426.28 887.87L426.4 889.61L426.52 890.67L426.63 891.02L426.75 890.67L426.87 889.61L426.98 887.88L427.1 885.51L427.22 882.57L427.33 879.12L427.45 875.26L427.57 871.07L427.68 866.66L427.8 862.14L427.92 857.63L428.03 853.22L428.15 849.03L428.27 845.17L428.39 841.72L428.5 838.78L428.62 836.41L428.74 834.68L428.85 833.62L428.97 833.27L429.09 833.63L429.2 834.69L429.32 836.42L429.44 838.79L429.55 841.74L429.67 845.19L429.79 849.06L429.9 853.25L430.02 857.66L430.14 862.18L430.25 866.7L430.37 871.11L430.49 875.3L430.6 879.16L430.72 882.61L430.84 885.56L430.95 887.93L431.07 889.66L431.19 890.72L431.3 891.08L431.42 890.73L431.54 889.67L431.65 887.94L431.77 885.57L431.89 882.63L432 879.18L432.12 875.32L432.24 871.13L432.35 866.73L432.47 862.21L432.59 857.69L432.7 853.29L432.82 849.1L432.94 845.24L433.05 841.79L433.17 838.85L433.29 836.49L433.4 834.75L433.52 833.7L433.64 833.34L433.75 833.7L433.87 834.76L433.99 836.5L434.1 838.87L434.22 841.81L434.34 845.26L434.45 849.12L434.57 853.31L434.69 857.72L434.81 862.24L434.92 866.76L435.04 871.17L435.16 875.36L435.27 879.22L435.39 882.67L435.51 885.61L435.62 887.98L435.74 889.72L435.86 890.78L435.97 891.13L436.09 890.78L436.21 889.72L436.32 887.99L436.44 885.63L436.56 882.68L436.67 879.24L436.79 875.38L436.91 871.19L437.02 866.79L437.14 862.27L437.26 857.76L437.37 853.35L437.49 849.17L437.61 845.31L437.72 841.86L437.84 838.92L437.96 836.56L438.07 834.83L438.19 833.77L438.31 833.42L438.42 833.77L438.54 834.83L438.66 836.57L438.77 838.94L438.89 841.88L439.01 845.33L439.12 849.19L439.24 853.38L439.36 857.79L439.47 862.31L439.59 866.82L439.71 871.23L439.82 875.42L439.94 879.28L440.06 882.73L440.17 885.67L440.29 888.04L440.41 889.77L440.52 890.83L440.64 891.19L440.76 890.84L440.88 889.78L440.99 888.05L441.11 885.68L441.23 882.74L441.34 879.3L441.46 875.44L441.58 871.26L441.69 866.85L441.81 862.34L441.93 857.82L442.04 853.42L442.16 849.24L442.28 845.38L442.39 841.94L442.51 839L442.63 836.63L442.74 834.9L442.86 833.84L442.98 833.49L443.09 833.85L443.21 834.91L443.33 836.64L443.44 839.01L443.56 841.95L443.68 845.4L443.79 849.26L443.91 853.45L444.03 857.85L444.14 862.37L444.26 866.89L444.38 871.29L444.49 875.48L444.61 879.34L444.73 882.79L444.84 885.73L444.96 888.1L445.08 889.83L445.19 890.89L445.31 891.25L445.43 890.89L445.54 889.84L445.66 888.1L445.78 885.74L445.89 882.8L446.01 879.36L446.13 875.5L446.24 871.32L446.36 866.92L446.48 862.4L446.59 857.89L446.71 853.49L446.83 849.31L446.94 845.45L447.06 842.01L447.18 839.07L447.3 836.7L447.41 834.97L447.53 833.92L447.65 833.56L447.76 833.92L447.88 834.98L448 836.71L448.11 839.08L448.23 842.02L448.35 845.47L448.46 849.33L448.58 853.52L448.7 857.92L448.81 862.44L448.93 866.95L449.05 871.35L449.16 875.54L449.28 879.4L449.4 882.84L449.51 885.79L449.63 888.15L449.75 889.89L449.86 890.94L449.98 891.3L450.1 890.95L450.21 889.89L450.33 888.16L450.45 885.8L450.56 882.86L450.68 879.42L450.8 875.56L450.91 871.38L451.03 866.98L451.15 862.47L451.26 857.96L451.38 853.56L451.5 849.38L451.61 845.52L451.73 842.08L451.85 839.14L451.96 836.78L452.08 835.05L452.2 833.99L452.31 833.64L452.43 834L452.55 835.05L452.66 836.79L452.78 839.15L452.9 842.1L453.01 845.54L453.13 849.4L453.25 853.58L453.36 857.99L453.48 862.5L453.6 867.01L453.72 871.42L453.83 875.6L453.95 879.46L454.07 882.9L454.18 885.84L454.3 888.21L454.42 889.94L454.53 891L454.65 891.36L454.77 891L454.88 889.95L455 888.22L455.12 885.85L455.23 882.92L455.35 879.48L455.47 875.62L455.58 871.44L455.7 867.04L455.82 862.53L455.93 858.02L456.05 853.62L456.17 849.44L456.28 845.59L456.4 842.15L456.52 839.21L456.63 836.85L456.75 835.12L456.87 834.07L456.98 833.71L457.1 834.07L457.22 835.13L457.33 836.86L457.45 839.23L457.57 842.17L457.68 845.61L457.8 849.47L457.92 853.65L458.03 858.05L458.15 862.56L458.27 867.08L458.38 871.48L458.5 875.66L458.62 879.52L458.73 882.96L458.85 885.9L458.97 888.27L459.08 890L459.2 891.06L459.32 891.41L459.43 891.06L459.55 890L459.67 888.27L459.78 885.91L459.9 882.97L460.02 879.54L460.14 875.68L460.25 871.5L460.37 867.1L460.49 862.6L460.6 858.09L460.72 853.69L460.84 849.51L460.95 845.66L461.07 842.22L461.19 839.28L461.3 836.92L461.42 835.19L461.54 834.14L461.65 833.79L461.77 834.14L461.89 835.2L462 836.93L462.12 839.3L462.24 842.24L462.35 845.68L462.47 849.54L462.59 853.72L462.7 858.12L462.82 862.63L462.94 867.14L463.05 871.54L463.17 875.72L463.29 879.58L463.4 883.02L463.52 885.96L463.64 888.32L463.75 890.05L463.87 891.11L463.99 891.47L464.1 891.11L464.22 890.06L464.34 888.33L464.45 885.97L464.57 883.03L464.69 879.6L464.8 875.74L464.92 871.56L465.04 867.17L465.15 862.66L465.27 858.15L465.39 853.76L465.5 849.58L465.62 845.73L465.74 842.29L465.85 839.36L465.97 837L466.09 835.27L466.21 834.21L466.32 833.86L466.44 834.22L466.56 835.27L466.67 837.01L466.79 839.37L466.91 842.31L467.02 845.75L467.14 849.61L467.26 853.79L467.37 858.18L467.49 862.69L467.61 867.2L467.72 871.6L467.84 875.78L467.96 879.64L468.07 883.08L468.19 886.01L468.31 888.38L468.42 890.11L468.54 891.17L468.66 891.52L468.77 891.17L468.89 890.12L469.01 888.39L469.12 886.03L469.24 883.09L469.36 879.65L469.47 875.8L469.59 871.63L469.71 867.23L469.82 862.73L469.94 858.22L470.06 853.83L470.17 849.65L470.29 845.8L470.41 842.36L470.52 839.43L470.64 837.07L470.76 835.34L470.87 834.29L470.99 833.93L471.11 834.29L471.22 835.35L471.34 837.08L471.46 839.44L471.57 842.38L471.69 845.82L471.81 849.68L471.92 853.85L472.04 858.25L472.16 862.76L472.27 867.27L472.39 871.66L472.51 875.84L472.63 879.7L472.74 883.13L472.86 886.07L472.98 888.43L473.09 890.17L473.21 891.22L473.33 891.58L473.44 891.22L473.56 890.17L473.68 888.44L473.79 886.08L473.91 883.15L474.03 879.71L474.14 875.86L474.26 871.69L474.38 867.29L474.49 862.79L474.61 858.29L474.73 853.89L474.84 849.72L474.96 845.87L475.08 842.43L475.19 839.5L475.31 837.14L475.43 835.41L475.54 834.36L475.66 834.01L475.78 834.36L475.89 835.42L476.01 837.15L476.13 839.51L476.24 842.45L476.36 845.89L476.48 849.74L476.59 853.92L476.71 858.32L476.83 862.82L476.94 867.33L477.06 871.72L477.18 875.9L477.29 879.75L477.41 883.19L477.53 886.13L477.64 888.49L477.76 890.22L477.88 891.28L477.99 891.63L478.11 891.28L478.23 890.23L478.34 888.5L478.46 886.14L478.58 883.21L478.69 879.77L478.81 875.92L478.93 871.75L479.05 867.36L479.16 862.86L479.28 858.35L479.4 853.96L479.51 849.79L479.63 845.94L479.75 842.5L479.86 839.57L479.98 837.21L480.1 835.49L480.21 834.43L480.33 834.08L480.45 834.44L480.56 835.49L480.68 837.22L480.8 839.59L480.91 842.52L481.03 845.96L481.15 849.81L481.26 853.99L481.38 858.38L481.5 862.89L481.61 867.39L481.73 871.79L481.85 875.96L481.96 879.81L482.08 883.25L482.2 886.19L482.31 888.55L482.43 890.28L482.55 891.33L482.66 891.69L482.78 891.34L482.9 890.28L483.01 888.56L483.13 886.2L483.25 883.26L483.36 879.83L483.48 875.98L483.6 871.81L483.71 867.42L483.83 862.92L483.95 858.42L484.06 854.03L484.18 849.86L484.3 846.01L484.41 842.58L484.53 839.64L484.65 837.29L484.76 835.56L484.88 834.51L485 834.16L485.11 834.51L485.23 835.57L485.35 837.3L485.47 839.66L485.58 842.59L485.7 846.03L485.82 849.88L485.93 854.06L486.05 858.45L486.17 862.95L486.28 867.46L486.4 871.85L486.52 876.02L486.63 879.87L486.75 883.31L486.87 886.24L486.98 888.6L487.1 890.33L487.22 891.39L487.33 891.74L487.45 891.39L487.57 890.34L487.68 888.61L487.8 886.25L487.92 883.32L488.03 879.89L488.15 876.04L488.27 871.87L488.38 867.48L488.5 862.98L488.62 858.48L488.73 854.1L488.85 849.93L488.97 846.08L489.08 842.65L489.2 839.72L489.32 837.36L489.43 835.63L489.55 834.58L489.67 834.23L489.78 834.59L489.9 835.64L490.02 837.37L490.13 839.73L490.25 842.66L490.37 846.1L490.48 849.95L490.6 854.12L490.72 858.51L490.83 863.02L490.95 867.52L491.07 871.91L491.18 876.08L491.3 879.93L491.42 883.37L491.54 886.3L491.65 888.66L491.77 890.39L491.89 891.44L492 891.8L492.12 891.45L492.24 890.39L492.35 888.67L492.47 886.31L492.59 883.38L492.7 879.95L492.82 876.1L492.94 871.93L493.05 867.55L493.17 863.05L493.29 858.55L493.4 854.16L493.52 850L493.64 846.15L493.75 842.72L493.87 839.79L493.99 837.43L494.1 835.71L494.22 834.66L494.34 834.3L494.45 834.66L494.57 835.71L494.69 837.44L494.8 839.8L494.92 842.74L495.04 846.17L495.15 850.02L495.27 854.19L495.39 858.58L495.5 863.08L495.62 867.58L495.74 871.97L495.85 876.14L495.97 879.99L496.09 883.42L496.2 886.36L496.32 888.72L496.44 890.44L496.55 891.5L496.67 891.85L496.79 891.5L496.9 890.45L497.02 888.72L497.14 886.37L497.25 883.44L497.37 880.01L497.49 876.16L497.6 872L497.72 867.61L497.84 863.11L497.96 858.62L498.07 854.23L498.19 850.06L498.31 846.22L498.42 842.79L498.54 839.86L498.66 837.51L498.77 835.78L498.89 834.73L499.01 834.38L499.12 834.73L499.24 835.79L499.36 837.52L499.47 839.88L499.59 842.81L499.71 846.24L499.82 850.09L499.94 854.26L500.06 858.65L500.17 863.15L500.29 867.64L500.41 872.03L500.52 876.2L500.64 880.05L500.76 883.48L500.87 886.41L500.99 888.77L501.11 890.5L501.22 891.55L501.34 891.91L501.46 891.56L501.57 890.51L501.69 888.78L501.81 886.43L501.92 883.5L502.04 880.07L502.16 876.22L502.27 872.06L502.39 867.67L502.51 863.18L502.62 858.68L502.74 854.3L502.86 850.13L502.97 846.29L503.09 842.86L503.21 839.93L503.32 837.58L503.44 835.85L503.56 834.8L503.67 834.45L503.79 834.81L503.91 835.86L504.02 837.59L504.14 839.95L504.26 842.88L504.38 846.31L504.49 850.16L504.61 854.33L504.73 858.71L504.84 863.21L504.96 867.71L505.08 872.1L505.19 876.26L505.31 880.11L505.43 883.54L505.54 886.47L505.66 888.83L505.78 890.56L505.89 891.61L506.01 891.97L506.13 891.61L506.24 890.56L506.36 888.84L506.48 886.48L506.59 883.56L506.71 880.13L506.83 876.28L506.94 872.12L507.06 867.74L507.18 863.24L507.29 858.75L507.41 854.37L507.53 850.2L507.64 846.36L507.76 842.93L507.88 840L507.99 837.65L508.11 835.93L508.23 834.88L508.34 834.52L508.46 834.88L508.58 835.93L508.69 837.66L508.81 840.02L508.93 842.95L509.04 846.38L509.16 850.23L509.28 854.39L509.39 858.78L509.51 863.28L509.63 867.77L509.74 872.16L509.86 876.32L509.98 880.17L510.09 883.6L510.21 886.53L510.33 888.89L510.44 890.61L510.56 891.67L510.68 892.02L510.8 891.67L510.91 890.62L511.03 888.89L511.15 886.54L511.26 883.61L511.38 880.19L511.5 876.34L511.61 872.18L511.73 867.8L511.85 863.31L511.96 858.81L512.08 854.43L512.2 850.27L512.31 846.43L512.43 843L512.55 840.08L512.66 837.72L512.78 836L512.9 834.95L513.01 834.6L513.13 834.95L513.25 836.01L513.36 837.73L513.48 840.09L513.6 843.02L513.71 846.45L513.83 850.29L513.95 854.46L514.06 858.84L514.18 863.34L514.3 867.83L514.41 872.22L514.53 876.38L514.65 880.23L514.76 883.66L514.88 886.59L515 888.94L515.11 890.67L515.23 891.72L515.35 892.08L515.46 891.72L515.58 890.67L515.7 888.95L515.81 886.6L515.93 883.67L516.05 880.25L516.16 876.41L516.28 872.24L516.4 867.86L516.51 863.37L516.63 858.88L516.75 854.5L516.87 850.34L516.98 846.5L517.1 843.07L517.22 840.15L517.33 837.8L517.45 836.07L517.57 835.02L517.68 834.67L517.8 835.03L517.92 836.08L518.03 837.81L518.15 840.16L518.27 843.09L518.38 846.52L518.5 850.36L518.62 854.53L518.73 858.91L518.85 863.4L518.97 867.9L519.08 872.28L519.2 876.44L519.32 880.29L519.43 883.72L519.55 886.64L519.67 889L519.78 890.72L519.9 891.78L520.02 892.13L520.13 891.78L520.25 890.73L520.37 889.01L520.48 886.65L520.6 883.73L520.72 880.31L520.83 876.47L520.95 872.31L521.07 867.93L521.18 863.44L521.3 858.95L521.42 854.57L521.53 850.41L521.65 846.57L521.77 843.15L521.88 840.22L522 837.87L522.12 836.15L522.23 835.1L522.35 834.75L522.47 835.1L522.58 836.15L522.7 837.88L522.82 840.24L522.93 843.16L523.05 846.59L523.17 850.43L523.29 854.6L523.4 858.98L523.52 863.47L523.64 867.96L523.75 872.34L523.87 876.5L523.99 880.35L524.1 883.77L524.22 886.7L524.34 889.05L524.45 890.78L524.57 891.83L524.69 892.19L524.8 891.84L524.92 890.79L525.04 889.06L525.15 886.71L525.27 883.79L525.39 880.36L525.5 876.53L525.62 872.37L525.74 867.99L525.85 863.5L525.97 859.01L526.09 854.64L526.2 850.48L526.32 846.64L526.44 843.22L526.55 840.29L526.67 837.94L526.79 836.22L526.9 835.17L527.02 834.82L527.14 835.17L527.25 836.23L527.37 837.95L527.49 840.31L527.6 843.23L527.72 846.66L527.84 850.5L527.95 854.66L528.07 859.04L528.19 863.53L528.3 868.02L528.42 872.4L528.54 876.57L528.65 880.41L528.77 883.83L528.89 886.76L529 889.11L529.12 890.84L529.24 891.89L529.35 892.24L529.47 891.89L529.59 890.84L529.71 889.12L529.82 886.77L529.94 883.85L530.06 880.42L530.17 876.59L530.29 872.43L530.41 868.05L530.52 863.57L530.64 859.08L530.76 854.7L530.87 850.55L530.99 846.71L531.11 843.29L531.22 840.37L531.34 838.01L531.46 836.29L531.57 835.24L531.69 834.89L531.81 835.25L531.92 836.3L532.04 838.03L532.16 840.38L532.27 843.31L532.39 846.73L532.51 850.57L532.62 854.73L532.74 859.11L532.86 863.6L532.97 868.09L533.09 872.47L533.21 876.63L533.32 880.47L533.44 883.89L533.56 886.81L533.67 889.17L533.79 890.89L533.91 891.94L534.02 892.3L534.14 891.95L534.26 890.9L534.37 889.18L534.49 886.83L534.61 883.9L534.72 880.48L534.84 876.65L534.96 872.49L535.07 868.12L535.19 863.63L535.31 859.15L535.42 854.77L535.54 850.61L535.66 846.78L535.77 843.36L535.89 840.44L536.01 838.09L536.13 836.37L536.24 835.32L536.36 834.97L536.48 835.32L536.59 836.37L536.71 838.1L536.83 840.45L536.94 843.38L537.06 846.8L537.18 850.64L537.29 854.8L537.41 859.18L537.53 863.66L537.64 868.15L537.76 872.53L537.88 876.69L537.99 880.52L538.11 883.95L538.23 886.87L538.34 889.22L538.46 890.95L538.58 892L538.69 892.35L538.81 892L538.93 890.95L539.04 889.23L539.16 886.88L539.28 883.96L539.39 880.54L539.51 876.71L539.63 872.55L539.74 868.18L539.86 863.69L539.98 859.21L540.09 854.84L540.21 850.68L540.33 846.85L540.44 843.43L540.56 840.51L540.68 838.16L540.79 836.44L540.91 835.39L541.03 835.04L541.14 835.4L541.26 836.45L541.38 838.17L541.49 840.52L541.61 843.45L541.73 846.87L541.84 850.71L541.96 854.87L542.08 859.24L542.2 863.73L542.31 868.21L542.43 872.59L542.55 876.75L542.66 880.58L542.78 884.01L542.9 886.93L543.01 889.28L543.13 891L543.25 892.05L543.36 892.41L543.48 892.06L543.6 891.01L543.71 889.29L543.83 886.94L543.95 884.02L544.06 880.6L544.18 876.77L544.3 872.61L544.41 868.24L544.53 863.76L544.65 859.28L544.76 854.91L544.88 850.75L545 846.92L545.11 843.5L545.23 840.58L545.35 838.23L545.46 836.51L545.58 835.47L545.7 835.12L545.81 835.47L545.93 836.52L546.05 838.24L546.16 840.6L546.28 843.52L546.4 846.94L546.51 850.78L546.63 854.93L546.75 859.31L546.86 863.79L546.98 868.28L547.1 872.65L547.21 876.81L547.33 880.64L547.45 884.06L547.56 886.99L547.68 889.34L547.8 891.06L547.91 892.11L548.03 892.46L548.15 892.11L548.26 891.06L548.38 889.34L548.5 887L548.62 884.08L548.73 880.66L548.85 876.83L548.97 872.68L549.08 868.31L549.2 863.82L549.32 859.34L549.43 854.97L549.55 850.82L549.67 846.99L549.78 843.57L549.9 840.65L550.02 838.31L550.13 836.59L550.25 835.54L550.37 835.19L550.48 835.54L550.6 836.59L550.72 838.32L550.83 840.67L550.95 843.59L551.07 847.01L551.18 850.84L551.3 855L551.42 859.37L551.53 863.86L551.65 868.34L551.77 872.71L551.88 876.87L552 880.7L552.12 884.12L552.23 887.04L552.35 889.39L552.47 891.11L552.58 892.17L552.7 892.52L552.82 892.17L552.93 891.12L553.05 889.4L553.17 887.05L553.28 884.14L553.4 880.72L553.52 876.89L553.63 872.74L553.75 868.37L553.87 863.89L553.98 859.41L554.1 855.04L554.22 850.89L554.33 847.06L554.45 843.64L554.57 840.73L554.68 838.38L554.8 836.66L554.92 835.61L555.04 835.26L555.15 835.62L555.27 836.67L555.39 838.39L555.5 840.74L555.62 843.66L555.74 847.08L555.85 850.91L555.97 855.07L556.09 859.44L556.2 863.92L556.32 868.4L556.44 872.77L556.55 876.93L556.67 880.76L556.79 884.18L556.9 887.1L557.02 889.45L557.14 891.17L557.25 892.22L557.37 892.57L557.49 892.22L557.6 891.18L557.72 889.46L557.84 887.11L557.95 884.19L558.07 880.78L558.19 876.95L558.3 872.8L558.42 868.43L558.54 863.95L558.65 859.48L558.77 855.11L558.89 850.96L559 847.13L559.12 843.71L559.24 840.8L559.35 838.45L559.47 836.73L559.59 835.69L559.7 835.34L559.82 835.69L559.94 836.74L560.05 838.46L560.17 840.81L560.29 843.73L560.4 847.15L560.52 850.98L560.64 855.14L560.75 859.51L560.87 863.99L560.99 868.47L561.1 872.84L561.22 876.99L561.34 880.82L561.46 884.24L561.57 887.16L561.69 889.51L561.81 891.23L561.92 892.28L562.04 892.63L562.16 892.28L562.27 891.23L562.39 889.51L562.51 887.17L562.62 884.25L562.74 880.84L562.86 877.01L562.97 872.86L563.09 868.49L563.21 864.02L563.32 859.54L563.44 855.18L563.56 851.03L563.67 847.2L563.79 843.79L563.91 840.87L564.02 838.52L564.14 836.81L564.26 835.76L564.37 835.41L564.49 835.76L564.61 836.82L564.72 838.54L564.84 840.88L564.96 843.8L565.07 847.22L565.19 851.05L565.31 855.2L565.42 859.57L565.54 864.05L565.66 868.53L565.77 872.9L565.89 877.05L566.01 880.88L566.12 884.3L566.24 887.21L566.36 889.56L566.47 891.28L566.59 892.33L566.71 892.69L566.82 892.33L566.94 891.29L567.06 889.57L567.17 887.23L567.29 884.31L567.41 880.9L567.53 877.07L567.64 872.92L567.76 868.56L567.88 864.08L567.99 859.61L568.11 855.24L568.23 851.1L568.34 847.27L568.46 843.86L568.58 840.94L568.69 838.6L568.81 836.88L568.93 835.83L569.04 835.48L569.16 835.84L569.28 836.89L569.39 838.61L569.51 840.96L569.63 843.87L569.74 847.29L569.86 851.12L569.98 855.27L570.09 859.64L570.21 864.11L570.33 868.59L570.44 872.96L570.56 877.11L570.68 880.94L570.79 884.35L570.91 887.27L571.03 889.62L571.14 891.34L571.26 892.39L571.38 892.74L571.49 892.39L571.61 891.34L571.73 889.63L571.84 887.28L571.96 884.37L572.08 880.96L572.19 877.13L572.31 872.98L572.43 868.62L572.54 864.15L572.66 859.67L572.78 855.31L572.89 851.16L573.01 847.34L573.13 843.93L573.24 841.01L573.36 838.67L573.48 836.95L573.59 835.91L573.71 835.56L573.83 835.91L573.95 836.96L574.06 838.68L574.18 841.03L574.3 843.95L574.41 847.36L574.53 851.19L574.65 855.34L574.76 859.7L574.88 864.18L575 868.66L575.11 873.02L575.23 877.17L575.35 881L575.46 884.41L575.58 887.33L575.7 889.67L575.81 891.39L575.93 892.44L576.05 892.8L576.16 892.45L576.28 891.4L576.4 889.68L576.51 887.34L576.63 884.43L576.75 881.02L576.86 877.19L576.98 873.05L577.1 868.68L577.21 864.21L577.33 859.74L577.45 855.38L577.56 851.23L577.68 847.41L577.8 844L577.91 841.09L578.03 838.74L578.15 837.03L578.26 835.98L578.38 835.63L578.5 835.99L578.61 837.04L578.73 838.75L578.85 841.1L578.96 844.02L579.08 847.43L579.2 851.26L579.31 855.4L579.43 859.77L579.55 864.24L579.66 868.72L579.78 873.08L579.9 877.23L580.01 881.06L580.13 884.47L580.25 887.39L580.37 889.73L580.48 891.45L580.6 892.5L580.72 892.85L580.83 892.5L580.95 891.46L581.07 889.74L581.18 887.4L581.3 884.48L581.42 881.07L581.53 877.25L581.65 873.11L581.77 868.75L581.88 864.28L582 859.81L582.12 855.45L582.23 851.3L582.35 847.48L582.47 844.07L582.58 841.16L582.7 838.82L582.82 837.1L582.93 836.06L583.05 835.71L583.17 836.06L583.28 837.11L583.4 838.83L583.52 841.17L583.63 844.09L583.75 847.5L583.87 851.33L583.98 855.47L584.1 859.84L584.22 864.31L584.33 868.78L584.45 873.14L584.57 877.29L584.68 881.12L584.8 884.53L584.92 887.44L585.03 889.79L585.15 891.51L585.27 892.55L585.38 892.91L585.5 892.56L585.62 891.51L585.73 889.8L585.85 887.45L585.97 884.54L586.08 881.13L586.2 877.31L586.32 873.17L586.43 868.81L586.55 864.34L586.67 859.87L586.79 855.51L586.9 851.37L587.02 847.55L587.14 844.14L587.25 841.23L587.37 838.89L587.49 837.17L587.6 836.13L587.72 835.78L587.84 836.13L587.95 837.18L588.07 838.9L588.19 841.24L588.3 844.16L588.42 847.57L588.54 851.4L588.65 855.54L588.77 859.9L588.89 864.37L589 868.85L589.12 873.21L589.24 877.35L589.35 881.18L589.47 884.59L589.59 887.5L589.7 889.84L589.82 891.56L589.94 892.61L590.05 892.96L590.17 892.61L590.29 891.57L590.4 889.85L590.52 887.51L590.64 884.6L590.75 881.19L590.87 877.37L590.99 873.23L591.1 868.87L591.22 864.41L591.34 859.94L591.45 855.58L591.57 851.44L591.69 847.62L591.8 844.21L591.92 841.3L592.04 838.96L592.15 837.25L592.27 836.2L592.39 835.85L592.5 836.21L592.62 837.26L592.74 838.97L592.86 841.32L592.97 844.23L593.09 847.64L593.21 851.46L593.32 855.61L593.44 859.97L593.56 864.44L593.67 868.91L593.79 873.27L593.91 877.41L594.02 881.23L594.14 884.64L594.26 887.56L594.37 889.9L594.49 891.62L594.61 892.66L594.72 893.02L594.84 892.67L594.96 891.62L595.07 889.91L595.19 887.57L595.31 884.66L595.42 881.25L595.54 877.43L595.66 873.29L595.77 868.94L595.89 864.47L596.01 860L596.12 855.65L596.24 851.51L596.36 847.69L596.47 844.28L596.59 841.37L596.71 839.03L596.82 837.32L596.94 836.28L597.06 835.93L597.17 836.28L597.29 837.33L597.41 839.05L597.52 841.39L597.64 844.3L597.76 847.71L597.87 851.53L597.99 855.67L598.11 860.03L598.22 864.5L598.34 868.97L598.46 873.33L598.57 877.47L598.69 881.29L598.81 884.7L598.92 887.61L599.04 889.96L599.16 891.67L599.28 892.72L599.39 893.07L599.51 892.72L599.63 891.68L599.74 889.97L599.86 887.63L599.98 884.72L600.09 881.31L600.21 877.49L600.33 873.35L600.44 869L600.56 864.53L600.68 860.07L600.79 855.72L600.91 851.58L601.03 847.76L601.14 844.35L601.26 841.45L601.38 839.11L601.49 837.39L601.61 836.35L601.73 836L601.84 836.35L601.96 837.4L602.08 839.12L602.19 841.46L602.31 844.37L602.43 847.78L602.54 851.6L602.66 855.74L602.78 860.1L602.89 864.57L603.01 869.03L603.13 873.39L603.24 877.53L603.36 881.35L603.48 884.76L603.59 887.67L603.71 890.01L603.83 891.73L603.94 892.78L604.06 893.13L604.18 892.78L604.29 891.73L604.41 890.02L604.53 887.68L604.64 884.78L604.76 881.37L604.88 877.55L604.99 873.42L605.11 869.06L605.23 864.6L605.34 860.14L605.46 855.78L605.58 851.65L605.7 847.83L605.81 844.43L605.93 841.52L606.05 839.18L606.16 837.47L606.28 836.42L606.4 836.08L606.51 836.43L606.63 837.48L606.75 839.19L606.86 841.53L606.98 844.44L607.1 847.85L607.21 851.67L607.33 855.81L607.45 860.17L607.56 864.63L607.68 869.1L607.8 873.45L607.91 877.59L608.03 881.41L608.15 884.82L608.26 887.73L608.38 890.07L608.5 891.78L608.61 892.83L608.73 893.18L608.85 892.83L608.96 891.79L609.08 890.08L609.2 887.74L609.31 884.83L609.43 881.43L609.55 877.61L609.66 873.48L609.78 869.13L609.9 864.66L610.01 860.2L610.13 855.85L610.25 851.72L610.36 847.9L610.48 844.5L610.6 841.59L610.71 839.25L610.83 837.54L610.95 836.5L611.06 836.15L611.18 836.5L611.3 837.55L611.41 839.26L611.53 841.61L611.65 844.51L611.76 847.92L611.88 851.74L612 855.88L612.12 860.23L612.23 864.7L612.35 869.16L612.47 873.52L612.58 877.65L612.7 881.47L612.82 884.88L612.93 887.79L613.05 890.13L613.17 891.84L613.28 892.89L613.4 893.24L613.52 892.89L613.63 891.85L613.75 890.13L613.87 887.8L613.98 884.89L614.1 881.49L614.22 877.67L614.33 873.54L614.45 869.19L614.57 864.73L614.68 860.27L614.8 855.92L614.92 851.78L615.03 847.97L615.15 844.57L615.27 841.66L615.38 839.33L615.5 837.62L615.62 836.57L615.73 836.22L615.85 836.58L615.97 837.62L616.08 839.34L616.2 841.68L616.32 844.59L616.43 847.99L616.55 851.81L616.67 855.94L616.78 860.3L616.9 864.76L617.02 869.22L617.13 873.58L617.25 877.71L617.37 881.53L617.48 884.93L617.6 887.84L617.72 890.18L617.83 891.9L617.95 892.94L618.07 893.29L618.19 892.95L618.3 891.9L618.42 890.19L618.54 887.85L618.65 884.95L618.77 881.55L618.89 877.73L619 873.6L619.12 869.25L619.24 864.79L619.35 860.33L619.47 855.99L619.59 851.85L619.7 848.04L619.82 844.64L619.94 841.73L620.05 839.4L620.17 837.69L620.29 836.65L620.4 836.3L620.52 836.65L620.64 837.7L620.75 839.41L620.87 841.75L620.99 844.66L621.1 848.06L621.22 851.88L621.34 856.01L621.45 860.36L621.57 864.83L621.69 869.29L621.8 873.64L621.92 877.77L622.04 881.59L622.15 884.99L622.27 887.9L622.39 890.24L622.5 891.95L622.62 893L622.74 893.35L622.85 893L622.97 891.96L623.09 890.25L623.2 887.91L623.32 885.01L623.44 881.61L623.55 877.79L623.67 873.66L623.79 869.32L623.9 864.86L624.02 860.4L624.14 856.05L624.25 851.92L624.37 848.11L624.49 844.71L624.61 841.81L624.72 839.47L624.84 837.76L624.96 836.72L625.07 836.37L625.19 836.72L625.31 837.77L625.42 839.48L625.54 841.82L625.66 844.73L625.77 848.13L625.89 851.95L626.01 856.08L626.12 860.43L626.24 864.89L626.36 869.35L626.47 873.7L626.59 877.83L626.71 881.65L626.82 885.05L626.94 887.96L627.06 890.3L627.17 892.01L627.29 893.05L627.41 893.41L627.52 893.06L627.64 892.01L627.76 890.3L627.87 887.97L627.99 885.07L628.11 881.67L628.22 877.86L628.34 873.73L628.46 869.38L628.57 864.92L628.69 860.47L628.81 856.12L628.92 851.99L629.04 848.18L629.16 844.78L629.27 841.88L629.39 839.54L629.51 837.84L629.62 836.79L629.74 836.44L629.86 836.8L629.97 837.84L630.09 839.56L630.21 841.89L630.32 844.8L630.44 848.2L630.56 852.01L630.67 856.15L630.79 860.5L630.91 864.95L631.03 869.41L631.14 873.76L631.26 877.89L631.38 881.71L631.49 885.11L631.61 888.01L631.73 890.35L631.84 892.06L631.96 893.11L632.08 893.46L632.19 893.11L632.31 892.07L632.43 890.36L632.54 888.03L632.66 885.12L632.78 881.73L632.89 877.92L633.01 873.79L633.13 869.44L633.24 864.99L633.36 860.53L633.48 856.19L633.59 852.06L633.71 848.25L633.83 844.85L633.94 841.95L634.06 839.62L634.18 837.91L634.29 836.87L634.41 836.52L634.53 836.87L634.64 837.92L634.76 839.63L634.88 841.97L634.99 844.87L635.11 848.27L635.23 852.08L635.34 856.21L635.46 860.56L635.58 865.02L635.69 869.48L635.81 873.82L635.93 877.96L636.04 881.77L636.16 885.17L636.28 888.07L636.39 890.41L636.51 892.12L636.63 893.16L636.74 893.52L636.86 893.17L636.98 892.13L637.09 890.42L637.21 888.08L637.33 885.18L637.45 881.79L637.56 877.98L637.68 873.85L637.8 869.51L637.91 865.05L638.03 860.6L638.15 856.25L638.26 852.13L638.38 848.32L638.5 844.92L638.61 842.02L638.73 839.69L638.85 837.98L638.96 836.94L639.08 836.59L639.2 836.94L639.31 837.99L639.43 839.7L639.55 842.04L639.66 844.94L639.78 848.34L639.9 852.15L640.01 856.28L640.13 860.63L640.25 865.08L640.36 869.54L640.48 873.89L640.6 878.02L640.71 881.83L640.83 885.23L640.95 888.13L641.06 890.46L641.18 892.18L641.3 893.22L641.41 893.57L641.53 893.22L641.65 892.18L641.76 890.47L641.88 888.14L642 885.24L642.11 881.84L642.23 878.04L642.35 873.91L642.46 869.57L642.58 865.12L642.7 860.66L642.81 856.32L642.93 852.2L643.05 848.39L643.16 844.99L643.28 842.1L643.4 839.76L643.52 838.06L643.63 837.01L643.75 836.67L643.87 837.02L643.98 838.06L644.1 839.77L644.22 842.11L644.33 845.01L644.45 848.41L644.57 852.22L644.68 856.35L644.8 860.69L644.92 865.15L645.03 869.6L645.15 873.95L645.27 878.08L645.38 881.89L645.5 885.28L645.62 888.19L645.73 890.52L645.85 892.23L645.97 893.28L646.08 893.63L646.2 893.28L646.32 892.24L646.43 890.53L646.55 888.2L646.67 885.3L646.78 881.9L646.9 878.1L647.02 873.97L647.13 869.63L647.25 865.18L647.37 860.73L647.48 856.39L647.6 852.27L647.72 848.46L647.83 845.07L647.95 842.17L648.07 839.84L648.18 838.13L648.3 837.09L648.42 836.74L648.53 837.09L648.65 838.14L648.77 839.85L648.88 842.18L649 845.08L649.12 848.48L649.23 852.29L649.35 856.42L649.47 860.76L649.58 865.21L649.7 869.67L649.82 874.01L649.94 878.14L650.05 881.94L650.17 885.34L650.29 888.24L650.4 890.58L650.52 892.29L650.64 893.33L650.75 893.68L650.87 893.33L650.99 892.29L651.1 890.59L651.22 888.25L651.34 885.36L651.45 881.96L651.57 878.16L651.69 874.03L651.8 869.69L651.92 865.25L652.04 860.8L652.15 856.46L652.27 852.33L652.39 848.53L652.5 845.14L652.62 842.24L652.74 839.91L652.85 838.2L652.97 837.16L653.09 836.81L653.2 837.17L653.32 838.21L653.44 839.92L653.55 842.25L653.67 845.15L653.79 848.55L653.9 852.36L654.02 856.48L654.14 860.83L654.25 865.28L654.37 869.73L654.49 874.07L654.6 878.2L654.72 882L654.84 885.4L654.95 888.3L655.07 890.63L655.19 892.34L655.3 893.39L655.42 893.74L655.54 893.39L655.65 892.35L655.77 890.64L655.89 888.31L656 885.41L656.12 882.02L656.24 878.22L656.36 874.1L656.47 869.76L656.59 865.31L656.71 860.86L656.82 856.52L656.94 852.4L657.06 848.6L657.17 845.21L657.29 842.31L657.41 839.98L657.52 838.28L657.64 837.24L657.76 836.89L657.87 837.24L657.99 838.28L658.11 839.99L658.22 842.33L658.34 845.23L658.46 848.62L658.57 852.43L658.69 856.55L658.81 860.89L658.92 865.34L659.04 869.79L659.16 874.13L659.27 878.26L659.39 882.06L659.51 885.46L659.62 888.36L659.74 890.69L659.86 892.4L659.97 893.44L660.09 893.79L660.21 893.44L660.32 892.4L660.44 890.7L660.56 888.37L660.67 885.47L660.79 882.08L660.91 878.28L661.02 874.16L661.14 869.82L661.26 865.37L661.37 860.93L661.49 856.59L661.61 852.47L661.72 848.67L661.84 845.28L661.96 842.38L662.07 840.05L662.19 838.35L662.31 837.31L662.42 836.96" stroke="#ff0000" stroke-width="2.8" fill="none" stroke-linejoin="round"/>
<path d="M102.13 1064.4L102.25 1064.22L102.36 1063.68L102.48 1062.79L102.6 1061.58L102.71 1060.07L102.83 1058.31L102.95 1056.34L103.06 1054.2L103.18 1051.94L103.3 1049.63L103.41 1047.32L103.53 1045.07L103.65 1042.93L103.76 1040.95L103.88 1039.19L104 1037.69L104.11 1036.48L104.23 1035.59L104.35 1035.05L104.46 1034.87L104.58 1035.05L104.7 1035.59L104.81 1036.48L104.93 1037.69L105.05 1039.19L105.16 1040.96L105.28 1042.93L105.4 1045.07L105.52 1047.32L105.63 1049.63L105.75 1051.94L105.87 1054.2L105.98 1056.34L106.1 1058.31L106.22 1060.08L106.33 1061.58L106.45 1062.79L106.57 1063.68L106.68 1064.22L106.8 1064.4L106.92 1064.22L107.03 1063.68L107.15 1062.79L107.27 1061.58L107.38 1060.08L107.5 1058.31L107.62 1056.34L107.73 1054.2L107.85 1051.95L107.97 1049.64L108.08 1047.33L108.2 1045.08L108.32 1042.94L108.43 1040.96L108.55 1039.2L108.67 1037.69L108.78 1036.48L108.9 1035.6L109.02 1035.06L109.13 1034.88L109.25 1035.06L109.37 1035.6L109.48 1036.49L109.6 1037.7L109.72 1039.2L109.83 1040.96L109.95 1042.94L110.07 1045.08L110.18 1047.33L110.3 1049.64L110.42 1051.95L110.53 1054.2L110.65 1056.34L110.77 1058.32L110.88 1060.08L111 1061.58L111.12 1062.79L111.23 1063.68L111.35 1064.22L111.47 1064.4L111.58 1064.22L111.7 1063.68L111.82 1062.79L111.94 1061.58L112.05 1060.08L112.17 1058.32L112.29 1056.34L112.4 1054.2L112.52 1051.95L112.64 1049.64L112.75 1047.33L112.87 1045.08L112.99 1042.94L113.1 1040.97L113.22 1039.21L113.34 1037.7L113.45 1036.49L113.57 1035.61L113.69 1035.07L113.8 1034.89L113.92 1035.07L114.04 1035.61L114.15 1036.49L114.27 1037.7L114.39 1039.21L114.5 1040.97L114.62 1042.94L114.74 1045.08L114.85 1047.34L114.97 1049.64L115.09 1051.95L115.2 1054.2L115.32 1056.34L115.44 1058.32L115.55 1060.08L115.67 1061.58L115.79 1062.79L115.9 1063.68L116.02 1064.22L116.14 1064.4L116.25 1064.22L116.37 1063.68L116.49 1062.79L116.6 1061.58L116.72 1060.08L116.84 1058.32L116.95 1056.34L117.07 1054.21L117.19 1051.95L117.3 1049.65L117.42 1047.34L117.54 1045.09L117.65 1042.95L117.77 1040.97L117.89 1039.21L118.01 1037.71L118.12 1036.5L118.24 1035.62L118.36 1035.08L118.47 1034.89L118.59 1035.08L118.71 1035.62L118.82 1036.5L118.94 1037.71L119.06 1039.22L119.17 1040.98L119.29 1042.95L119.41 1045.09L119.52 1047.34L119.64 1049.65L119.76 1051.96L119.87 1054.21L119.99 1056.35L120.11 1058.32L120.22 1060.08L120.34 1061.58L120.46 1062.79L120.57 1063.68L120.69 1064.22L120.81 1064.4L120.92 1064.22L121.04 1063.68L121.16 1062.79L121.27 1061.58L121.39 1060.08L121.51 1058.32L121.62 1056.35L121.74 1054.21L121.86 1051.96L121.97 1049.65L122.09 1047.34L122.21 1045.09L122.32 1042.96L122.44 1040.98L122.56 1039.22L122.67 1037.72L122.79 1036.51L122.91 1035.63L123.02 1035.09L123.14 1034.9L123.26 1035.09L123.37 1035.63L123.49 1036.51L123.61 1037.72L123.72 1039.22L123.84 1040.98L123.96 1042.96L124.07 1045.1L124.19 1047.35L124.31 1049.65L124.43 1051.96L124.54 1054.21L124.66 1056.35L124.78 1058.32L124.89 1060.08L125.01 1061.58L125.13 1062.79L125.24 1063.68L125.36 1064.22L125.48 1064.4L125.59 1064.22L125.71 1063.68L125.83 1062.79L125.94 1061.58L126.06 1060.08L126.18 1058.32L126.29 1056.35L126.41 1054.21L126.53 1051.96L126.64 1049.66L126.76 1047.35L126.88 1045.1L126.99 1042.96L127.11 1040.99L127.23 1039.23L127.34 1037.73L127.46 1036.52L127.58 1035.63L127.69 1035.09L127.81 1034.91L127.93 1035.1L128.04 1035.64L128.16 1036.52L128.28 1037.73L128.39 1039.23L128.51 1040.99L128.63 1042.96L128.74 1045.1L128.86 1047.35L128.98 1049.66L129.09 1051.96L129.21 1054.21L129.33 1056.35L129.44 1058.32L129.56 1060.08L129.68 1061.58L129.79 1062.79L129.91 1063.68L130.03 1064.22L130.14 1064.4L130.26 1064.22L130.38 1063.68L130.49 1062.79L130.61 1061.58L130.73 1060.08L130.85 1058.32L130.96 1056.35L131.08 1054.21L131.2 1051.97L131.31 1049.66L131.43 1047.35L131.55 1045.11L131.66 1042.97L131.78 1041L131.9 1039.24L132.01 1037.74L132.13 1036.53L132.25 1035.64L132.36 1035.1L132.48 1034.92L132.6 1035.1L132.71 1035.64L132.83 1036.53L132.95 1037.74L133.06 1039.24L133.18 1041L133.3 1042.97L133.41 1045.11L133.53 1047.36L133.65 1049.66L133.76 1051.97L133.88 1054.22L134 1056.35L134.11 1058.33L134.23 1060.08L134.35 1061.59L134.46 1062.79L134.58 1063.68L134.7 1064.22L134.81 1064.4L134.93 1064.22L135.05 1063.68L135.16 1062.79L135.28 1061.59L135.4 1060.08L135.51 1058.33L135.63 1056.35L135.75 1054.22L135.86 1051.97L135.98 1049.66L136.1 1047.36L136.21 1045.11L136.33 1042.98L136.45 1041L136.56 1039.25L136.68 1037.74L136.8 1036.54L136.91 1035.65L137.03 1035.11L137.15 1034.93L137.27 1035.11L137.38 1035.65L137.5 1036.54L137.62 1037.75L137.73 1039.25L137.85 1041.01L137.97 1042.98L138.08 1045.11L138.2 1047.36L138.32 1049.67L138.43 1051.97L138.55 1054.22L138.67 1056.36L138.78 1058.33L138.9 1060.08L139.02 1061.59L139.13 1062.79L139.25 1063.68L139.37 1064.22L139.48 1064.4L139.6 1064.22L139.72 1063.68L139.83 1062.79L139.95 1061.59L140.07 1060.09L140.18 1058.33L140.3 1056.36L140.42 1054.22L140.53 1051.97L140.65 1049.67L140.77 1047.37L140.88 1045.12L141 1042.98L141.12 1041.01L141.23 1039.25L141.35 1037.75L141.47 1036.55L141.58 1035.66L141.7 1035.12L141.82 1034.94L141.93 1035.12L142.05 1035.66L142.17 1036.55L142.28 1037.75L142.4 1039.26L142.52 1041.01L142.63 1042.98L142.75 1045.12L142.87 1047.37L142.98 1049.67L143.1 1051.98L143.22 1054.22L143.34 1056.36L143.45 1058.33L143.57 1060.09L143.69 1061.59L143.8 1062.79L143.92 1063.68L144.04 1064.22L144.15 1064.4L144.27 1064.22L144.39 1063.68L144.5 1062.79L144.62 1061.59L144.74 1060.09L144.85 1058.33L144.97 1056.36L145.09 1054.22L145.2 1051.98L145.32 1049.67L145.44 1047.37L145.55 1045.12L145.67 1042.99L145.79 1041.02L145.9 1039.26L146.02 1037.76L146.14 1036.55L146.25 1035.67L146.37 1035.13L146.49 1034.95L146.6 1035.13L146.72 1035.67L146.84 1036.56L146.95 1037.76L147.07 1039.26L147.19 1041.02L147.3 1042.99L147.42 1045.13L147.54 1047.37L147.65 1049.68L147.77 1051.98L147.89 1054.23L148 1056.36L148.12 1058.33L148.24 1060.09L148.35 1061.59L148.47 1062.8L148.59 1063.68L148.7 1064.22L148.82 1064.4L148.94 1064.22L149.05 1063.68L149.17 1062.8L149.29 1061.59L149.4 1060.09L149.52 1058.33L149.64 1056.36L149.76 1054.23L149.87 1051.98L149.99 1049.68L150.11 1047.38L150.22 1045.13L150.34 1043L150.46 1041.03L150.57 1039.27L150.69 1037.77L150.81 1036.56L150.92 1035.68L151.04 1035.14L151.16 1034.96L151.27 1035.14L151.39 1035.68L151.51 1036.56L151.62 1037.77L151.74 1039.27L151.86 1041.03L151.97 1043L152.09 1045.13L152.21 1047.38L152.32 1049.68L152.44 1051.98L152.56 1054.23L152.67 1056.36L152.79 1058.33L152.91 1060.09L153.02 1061.59L153.14 1062.8L153.26 1063.68L153.37 1064.22L153.49 1064.4L153.61 1064.22L153.72 1063.68L153.84 1062.8L153.96 1061.59L154.07 1060.09L154.19 1058.33L154.31 1056.36L154.42 1054.23L154.54 1051.99L154.66 1049.68L154.77 1047.38L154.89 1045.14L155.01 1043L155.12 1041.03L155.24 1039.28L155.36 1037.78L155.47 1036.57L155.59 1035.69L155.71 1035.15L155.82 1034.97L155.94 1035.15L156.06 1035.69L156.18 1036.57L156.29 1037.78L156.41 1039.28L156.53 1041.04L156.64 1043L156.76 1045.14L156.88 1047.38L156.99 1049.69L157.11 1051.99L157.23 1054.23L157.34 1056.37L157.46 1058.33L157.58 1060.09L157.69 1061.59L157.81 1062.8L157.93 1063.68L158.04 1064.22L158.16 1064.4L158.28 1064.22L158.39 1063.68L158.51 1062.8L158.63 1061.59L158.74 1060.09L158.86 1058.34L158.98 1056.37L159.09 1054.23L159.21 1051.99L159.33 1049.69L159.44 1047.39L159.56 1045.14L159.68 1043.01L159.79 1041.04L159.91 1039.29L160.03 1037.79L160.14 1036.58L160.26 1035.7L160.38 1035.16L160.49 1034.98L160.61 1035.16L160.73 1035.7L160.84 1036.58L160.96 1037.79L161.08 1039.29L161.19 1041.04L161.31 1043.01L161.43 1045.14L161.54 1047.39L161.66 1049.69L161.78 1051.99L161.89 1054.24L162.01 1056.37L162.13 1058.34L162.24 1060.09L162.36 1061.59L162.48 1062.8L162.6 1063.68L162.71 1064.22L162.83 1064.4L162.95 1064.22L163.06 1063.68L163.18 1062.8L163.3 1061.59L163.41 1060.09L163.53 1058.34L163.65 1056.37L163.76 1054.24L163.88 1051.99L164 1049.69L164.11 1047.39L164.23 1045.15L164.35 1043.02L164.46 1041.05L164.58 1039.29L164.7 1037.79L164.81 1036.59L164.93 1035.71L165.05 1035.17L165.16 1034.99L165.28 1035.17L165.4 1035.71L165.51 1036.59L165.63 1037.8L165.75 1039.3L165.86 1041.05L165.98 1043.02L166.1 1045.15L166.21 1047.39L166.33 1049.69L166.45 1052L166.56 1054.24L166.68 1056.37L166.8 1058.34L166.91 1060.09L167.03 1061.59L167.15 1062.8L167.26 1063.68L167.38 1064.22L167.5 1064.4L167.61 1064.22L167.73 1063.68L167.85 1062.8L167.96 1061.59L168.08 1060.09L168.2 1058.34L168.31 1056.37L168.43 1054.24L168.55 1052L168.67 1049.7L168.78 1047.4L168.9 1045.15L169.02 1043.02L169.13 1041.06L169.25 1039.3L169.37 1037.8L169.48 1036.6L169.6 1035.72L169.72 1035.18L169.83 1035L169.95 1035.18L170.07 1035.72L170.18 1036.6L170.3 1037.8L170.42 1039.3L170.53 1041.06L170.65 1043.02L170.77 1045.16L170.88 1047.4L171 1049.7L171.12 1052L171.23 1054.24L171.35 1056.37L171.47 1058.34L171.58 1060.09L171.7 1061.59L171.82 1062.8L171.93 1063.68L172.05 1064.22L172.17 1064.4L172.28 1064.22L172.4 1063.68L172.52 1062.8L172.63 1061.59L172.75 1060.09L172.87 1058.34L172.98 1056.37L173.1 1054.24L173.22 1052L173.33 1049.7L173.45 1047.4L173.57 1045.16L173.68 1043.03L173.8 1041.06L173.92 1039.31L174.03 1037.81L174.15 1036.61L174.27 1035.72L174.38 1035.19L174.5 1035.01L174.62 1035.19L174.73 1035.73L174.85 1036.61L174.97 1037.81L175.09 1039.31L175.2 1041.07L175.32 1043.03L175.44 1045.16L175.55 1047.4L175.67 1049.7L175.79 1052L175.9 1054.25L176.02 1056.38L176.14 1058.34L176.25 1060.1L176.37 1061.59L176.49 1062.8L176.6 1063.68L176.72 1064.22L176.84 1064.4L176.95 1064.22L177.07 1063.68L177.19 1062.8L177.3 1061.59L177.42 1060.1L177.54 1058.34L177.65 1056.38L177.77 1054.25L177.89 1052L178 1049.71L178.12 1047.41L178.24 1045.17L178.35 1043.04L178.47 1041.07L178.59 1039.32L178.7 1037.82L178.82 1036.62L178.94 1035.73L179.05 1035.2L179.17 1035.01L179.29 1035.2L179.4 1035.73L179.52 1036.62L179.64 1037.82L179.75 1039.32L179.87 1041.07L179.99 1043.04L180.1 1045.17L180.22 1047.41L180.34 1049.71L180.45 1052.01L180.57 1054.25L180.69 1056.38L180.8 1058.34L180.92 1060.1L181.04 1061.59L181.15 1062.8L181.27 1063.68L181.39 1064.22L181.51 1064.4L181.62 1064.22L181.74 1063.68L181.86 1062.8L181.97 1061.59L182.09 1060.1L182.21 1058.34L182.32 1056.38L182.44 1054.25L182.56 1052.01L182.67 1049.71L182.79 1047.41L182.91 1045.17L183.02 1043.04L183.14 1041.08L183.26 1039.33L183.37 1037.83L183.49 1036.62L183.61 1035.74L183.72 1035.2L183.84 1035.02L183.96 1035.21L184.07 1035.74L184.19 1036.63L184.31 1037.83L184.42 1039.33L184.54 1041.08L184.66 1043.04L184.77 1045.17L184.89 1047.42L185.01 1049.71L185.12 1052.01L185.24 1054.25L185.36 1056.38L185.47 1058.35L185.59 1060.1L185.71 1061.6L185.82 1062.8L185.94 1063.68L186.06 1064.22L186.17 1064.4L186.29 1064.22L186.41 1063.68L186.52 1062.8L186.64 1061.6L186.76 1060.1L186.87 1058.35L186.99 1056.38L187.11 1054.25L187.22 1052.01L187.34 1049.72L187.46 1047.42L187.57 1045.18L187.69 1043.05L187.81 1041.08L187.93 1039.33L188.04 1037.84L188.16 1036.63L188.28 1035.75L188.39 1035.21L188.51 1035.03L188.63 1035.21L188.74 1035.75L188.86 1036.63L188.98 1037.84L189.09 1039.33L189.21 1041.09L189.33 1043.05L189.44 1045.18L189.56 1047.42L189.68 1049.72L189.79 1052.01L189.91 1054.25L190.03 1056.38L190.14 1058.35L190.26 1060.1L190.38 1061.6L190.49 1062.8L190.61 1063.68L190.73 1064.22L190.84 1064.4L190.96 1064.22L191.08 1063.68L191.19 1062.8L191.31 1061.6L191.43 1060.1L191.54 1058.35L191.66 1056.38L191.78 1054.26L191.89 1052.02L192.01 1049.72L192.13 1047.42L192.24 1045.18L192.36 1043.06L192.48 1041.09L192.59 1039.34L192.71 1037.85L192.83 1036.64L192.94 1035.76L193.06 1035.22L193.18 1035.04L193.29 1035.22L193.41 1035.76L193.53 1036.64L193.64 1037.85L193.76 1039.34L193.88 1041.09L194 1043.06L194.11 1045.19L194.23 1047.43L194.35 1049.72L194.46 1052.02L194.58 1054.26L194.7 1056.39L194.81 1058.35L194.93 1060.1L195.05 1061.6L195.16 1062.8L195.28 1063.68L195.4 1064.22L195.51 1064.4L195.63 1064.22L195.75 1063.68L195.86 1062.8L195.98 1061.6L196.1 1060.1L196.21 1058.35L196.33 1056.39L196.45 1054.26L196.56 1052.02L196.68 1049.72L196.8 1047.43L196.91 1045.19L197.03 1043.06L197.15 1041.1L197.26 1039.35L197.38 1037.85L197.5 1036.65L197.61 1035.77L197.73 1035.23L197.85 1035.05L197.96 1035.23L198.08 1035.77L198.2 1036.65L198.31 1037.86L198.43 1039.35L198.55 1041.1L198.66 1043.07L198.78 1045.19L198.9 1047.43L199.01 1049.73L199.13 1052.02L199.25 1054.26L199.36 1056.39L199.48 1058.35L199.6 1060.1L199.71 1061.6L199.83 1062.8L199.95 1063.68L200.06 1064.22L200.18 1064.4L200.3 1064.22L200.42 1063.68L200.53 1062.8L200.65 1061.6L200.77 1060.1L200.88 1058.35L201 1056.39L201.12 1054.26L201.23 1052.02L201.35 1049.73L201.47 1047.43L201.58 1045.2L201.7 1043.07L201.82 1041.11L201.93 1039.36L202.05 1037.86L202.17 1036.66L202.28 1035.78L202.4 1035.24L202.52 1035.06L202.63 1035.24L202.75 1035.78L202.87 1036.66L202.98 1037.86L203.1 1039.36L203.22 1041.11L203.33 1043.07L203.45 1045.2L203.57 1047.44L203.68 1049.73L203.8 1052.03L203.92 1054.26L204.03 1056.39L204.15 1058.35L204.27 1060.1L204.38 1061.6L204.5 1062.8L204.62 1063.68L204.73 1064.22L204.85 1064.4L204.97 1064.22L205.08 1063.68L205.2 1062.8L205.32 1061.6L205.43 1060.1L205.55 1058.35L205.67 1056.39L205.78 1054.27L205.9 1052.03L206.02 1049.73L206.13 1047.44L206.25 1045.2L206.37 1043.08L206.48 1041.11L206.6 1039.36L206.72 1037.87L206.84 1036.67L206.95 1035.79L207.07 1035.25L207.19 1035.07L207.3 1035.25L207.42 1035.79L207.54 1036.67L207.65 1037.87L207.77 1039.37L207.89 1041.12L208 1043.08L208.12 1045.2L208.24 1047.44L208.35 1049.74L208.47 1052.03L208.59 1054.27L208.7 1056.39L208.82 1058.36L208.94 1060.11L209.05 1061.6L209.17 1062.8L209.29 1063.68L209.4 1064.22L209.52 1064.4L209.64 1064.22L209.75 1063.68L209.87 1062.8L209.99 1061.6L210.1 1060.11L210.22 1058.36L210.34 1056.39L210.45 1054.27L210.57 1052.03L210.69 1049.74L210.8 1047.45L210.92 1045.21L211.04 1043.08L211.15 1041.12L211.27 1039.37L211.39 1037.88L211.5 1036.68L211.62 1035.8L211.74 1035.26L211.85 1035.08L211.97 1035.26L212.09 1035.8L212.2 1036.68L212.32 1037.88L212.44 1039.37L212.55 1041.12L212.67 1043.09L212.79 1045.21L212.9 1047.45L213.02 1049.74L213.14 1052.03L213.26 1054.27L213.37 1056.4L213.49 1058.36L213.61 1060.11L213.72 1061.6L213.84 1062.8L213.96 1063.68L214.07 1064.22L214.19 1064.4L214.31 1064.22L214.42 1063.68L214.54 1062.8L214.66 1061.6L214.77 1060.11L214.89 1058.36L215.01 1056.4L215.12 1054.27L215.24 1052.04L215.36 1049.74L215.47 1047.45L215.59 1045.21L215.71 1043.09L215.82 1041.13L215.94 1039.38L216.06 1037.89L216.17 1036.69L216.29 1035.81L216.41 1035.27L216.52 1035.09L216.64 1035.27L216.76 1035.81L216.87 1036.69L216.99 1037.89L217.11 1039.38L217.22 1041.13L217.34 1043.09L217.46 1045.22L217.57 1047.45L217.69 1049.75L217.81 1052.04L217.92 1054.27L218.04 1056.4L218.16 1058.36L218.27 1060.11L218.39 1061.6L218.51 1062.8L218.62 1063.68L218.74 1064.22L218.86 1064.4L218.97 1064.22L219.09 1063.68L219.21 1062.8L219.33 1061.6L219.44 1060.11L219.56 1058.36L219.68 1056.4L219.79 1054.28L219.91 1052.04L220.03 1049.75L220.14 1047.46L220.26 1045.22L220.38 1043.1L220.49 1041.14L220.61 1039.39L220.73 1037.9L220.84 1036.69L220.96 1035.81L221.08 1035.28L221.19 1035.1L221.31 1035.28L221.43 1035.82L221.54 1036.7L221.66 1037.9L221.78 1039.39L221.89 1041.14L222.01 1043.1L222.13 1045.22L222.24 1047.46L222.36 1049.75L222.48 1052.04L222.59 1054.28L222.71 1056.4L222.83 1058.36L222.94 1060.11L223.06 1061.6L223.18 1062.8L223.29 1063.68L223.41 1064.22L223.53 1064.4L223.64 1064.22L223.76 1063.68L223.88 1062.8L223.99 1061.6L224.11 1060.11L224.23 1058.36L224.34 1056.4L224.46 1054.28L224.58 1052.04L224.69 1049.75L224.81 1047.46L224.93 1045.23L225.04 1043.1L225.16 1041.14L225.28 1039.4L225.39 1037.9L225.51 1036.7L225.63 1035.82L225.75 1035.29L225.86 1035.11L225.98 1035.29L226.1 1035.82L226.21 1036.7L226.33 1037.91L226.45 1039.4L226.56 1041.15L226.68 1043.11L226.8 1045.23L226.91 1047.46L227.03 1049.75L227.15 1052.05L227.26 1054.28L227.38 1056.4L227.5 1058.36L227.61 1060.11L227.73 1061.6L227.85 1062.8L227.96 1063.68L228.08 1064.22L228.2 1064.4L228.31 1064.22L228.43 1063.68L228.55 1062.8L228.66 1061.6L228.78 1060.11L228.9 1058.36L229.01 1056.4L229.13 1054.28L229.25 1052.05L229.36 1049.76L229.48 1047.47L229.6 1045.23L229.71 1043.11L229.83 1041.15L229.95 1039.4L230.06 1037.91L230.18 1036.71L230.3 1035.83L230.41 1035.3L230.53 1035.12L230.65 1035.3L230.76 1035.83L230.88 1036.71L231 1037.91L231.11 1039.41L231.23 1041.15L231.35 1043.11L231.46 1045.23L231.58 1047.47L231.7 1049.76L231.81 1052.05L231.93 1054.28L232.05 1056.41L232.17 1058.37L232.28 1060.11L232.4 1061.6L232.52 1062.8L232.63 1063.68L232.75 1064.22L232.87 1064.4L232.98 1064.22L233.1 1063.68L233.22 1062.8L233.33 1061.6L233.45 1060.11L233.57 1058.37L233.68 1056.41L233.8 1054.28L233.92 1052.05L234.03 1049.76L234.15 1047.47L234.27 1045.24L234.38 1043.12L234.5 1041.16L234.62 1039.41L234.73 1037.92L234.85 1036.72L234.97 1035.84L235.08 1035.31L235.2 1035.13L235.32 1035.31L235.43 1035.84L235.55 1036.72L235.67 1037.92L235.78 1039.41L235.9 1041.16L236.02 1043.12L236.13 1045.24L236.25 1047.47L236.37 1049.76L236.48 1052.05L236.6 1054.29L236.72 1056.41L236.83 1058.37L236.95 1060.11L237.07 1061.6L237.18 1062.8L237.3 1063.68L237.42 1064.22L237.53 1064.4L237.65 1064.22L237.77 1063.68L237.88 1062.8L238 1061.61L238.12 1060.11L238.23 1058.37L238.35 1056.41L238.47 1054.29L238.59 1052.06L238.7 1049.77L238.82 1047.48L238.94 1045.24L239.05 1043.12L239.17 1041.17L239.29 1039.42L239.4 1037.93L239.52 1036.73L239.64 1035.85L239.75 1035.31L239.87 1035.13L239.99 1035.32L240.1 1035.85L240.22 1036.73L240.34 1037.93L240.45 1039.42L240.57 1041.17L240.69 1043.13L240.8 1045.25L240.92 1047.48L241.04 1049.77L241.15 1052.06L241.27 1054.29L241.39 1056.41L241.5 1058.37L241.62 1060.11L241.74 1061.61L241.85 1062.81L241.97 1063.68L242.09 1064.22L242.2 1064.4L242.32 1064.22L242.44 1063.68L242.55 1062.81L242.67 1061.61L242.79 1060.12L242.9 1058.37L243.02 1056.41L243.14 1054.29L243.25 1052.06L243.37 1049.77L243.49 1047.48L243.6 1045.25L243.72 1043.13L243.84 1041.17L243.95 1039.43L244.07 1037.94L244.19 1036.74L244.3 1035.86L244.42 1035.32L244.54 1035.14L244.66 1035.32L244.77 1035.86L244.89 1036.74L245.01 1037.94L245.12 1039.43L245.24 1041.17L245.36 1043.13L245.47 1045.25L245.59 1047.48L245.71 1049.77L245.82 1052.06L245.94 1054.29L246.06 1056.41L246.17 1058.37L246.29 1060.12L246.41 1061.61L246.52 1062.81L246.64 1063.68L246.76 1064.22L246.87 1064.4L246.99 1064.22L247.11 1063.68L247.22 1062.81L247.34 1061.61L247.46 1060.12L247.57 1058.37L247.69 1056.41L247.81 1054.29L247.92 1052.06L248.04 1049.78L248.16 1047.49L248.27 1045.26L248.39 1043.14L248.51 1041.18L248.62 1039.44L248.74 1037.95L248.86 1036.75L248.97 1035.87L249.09 1035.33L249.21 1035.15L249.32 1035.33L249.44 1035.87L249.56 1036.75L249.67 1037.95L249.79 1039.44L249.91 1041.18L250.02 1043.14L250.14 1045.26L250.26 1047.49L250.37 1049.78L250.49 1052.07L250.61 1054.3L250.72 1056.42L250.84 1058.37L250.96 1060.12L251.08 1061.61L251.19 1062.81L251.31 1063.68L251.43 1064.22L251.54 1064.4L251.66 1064.22L251.78 1063.68L251.89 1062.81L252.01 1061.61L252.13 1060.12L252.24 1058.37L252.36 1056.42L252.48 1054.3L252.59 1052.07L252.71 1049.78L252.83 1047.49L252.94 1045.26L253.06 1043.14L253.18 1041.19L253.29 1039.44L253.41 1037.95L253.53 1036.76L253.64 1035.88L253.76 1035.34L253.88 1035.16L253.99 1035.34L254.11 1035.88L254.23 1036.76L254.34 1037.96L254.46 1039.45L254.58 1041.19L254.69 1043.15L254.81 1045.27L254.93 1047.5L255.04 1049.78L255.16 1052.07L255.28 1054.3L255.39 1056.42L255.51 1058.37L255.63 1060.12L255.74 1061.61L255.86 1062.81L255.98 1063.68L256.09 1064.22L256.21 1064.4L256.33 1064.22L256.44 1063.68L256.56 1062.81L256.68 1061.61L256.79 1060.12L256.91 1058.38L257.03 1056.42L257.14 1054.3L257.26 1052.07L257.38 1049.78L257.5 1047.5L257.61 1045.27L257.73 1043.15L257.85 1041.19L257.96 1039.45L258.08 1037.96L258.2 1036.76L258.31 1035.89L258.43 1035.35L258.55 1035.17L258.66 1035.35L258.78 1035.89L258.9 1036.77L259.01 1037.96L259.13 1039.45L259.25 1041.2L259.36 1043.15L259.48 1045.27L259.6 1047.5L259.71 1049.79L259.83 1052.07L259.95 1054.3L260.06 1056.42L260.18 1058.38L260.3 1060.12L260.41 1061.61L260.53 1062.81L260.65 1063.68L260.76 1064.22L260.88 1064.4L261 1064.22L261.11 1063.68L261.23 1062.81L261.35 1061.61L261.46 1060.12L261.58 1058.38L261.7 1056.42L261.81 1054.3L261.93 1052.07L262.05 1049.79L262.16 1047.5L262.28 1045.27L262.4 1043.16L262.51 1041.2L262.63 1039.46L262.75 1037.97L262.86 1036.77L262.98 1035.9L263.1 1035.36L263.21 1035.18L263.33 1035.36L263.45 1035.9L263.56 1036.77L263.68 1037.97L263.8 1039.46L263.92 1041.2L264.03 1043.16L264.15 1045.28L264.27 1047.51L264.38 1049.79L264.5 1052.08L264.62 1054.31L264.73 1056.42L264.85 1058.38L264.97 1060.12L265.08 1061.61L265.2 1062.81L265.32 1063.69L265.43 1064.22L265.55 1064.4L265.67 1064.22L265.78 1063.69L265.9 1062.81L266.02 1061.61L266.13 1060.12L266.25 1058.38L266.37 1056.42L266.48 1054.31L266.6 1052.08L266.72 1049.79L266.83 1047.51L266.95 1045.28L267.07 1043.16L267.18 1041.21L267.3 1039.47L267.42 1037.98L267.53 1036.78L267.65 1035.9L267.77 1035.37L267.88 1035.19L268 1035.37L268.12 1035.91L268.23 1036.78L268.35 1037.98L268.47 1039.47L268.58 1041.21L268.7 1043.17L268.82 1045.28L268.93 1047.51L269.05 1049.8L269.17 1052.08L269.28 1054.31L269.4 1056.43L269.52 1058.38L269.63 1060.12L269.75 1061.61L269.87 1062.81L269.99 1063.69L270.1 1064.22L270.22 1064.4L270.34 1064.22L270.45 1063.69L270.57 1062.81L270.69 1061.61L270.8 1060.12L270.92 1058.38L271.04 1056.43L271.15 1054.31L271.27 1052.08L271.39 1049.8L271.5 1047.51L271.62 1045.29L271.74 1043.17L271.85 1041.22L271.97 1039.47L272.09 1037.99L272.2 1036.79L272.32 1035.91L272.44 1035.38L272.55 1035.2L272.67 1035.38L272.79 1035.91L272.9 1036.79L273.02 1037.99L273.14 1039.48L273.25 1041.22L273.37 1043.17L273.49 1045.29L273.6 1047.52L273.72 1049.8L273.84 1052.08L273.95 1054.31L274.07 1056.43L274.19 1058.38L274.3 1060.12L274.42 1061.61L274.54 1062.81L274.65 1063.69L274.77 1064.22L274.89 1064.4L275 1064.22L275.12 1063.69L275.24 1062.81L275.35 1061.61L275.47 1060.12L275.59 1058.38L275.7 1056.43L275.82 1054.31L275.94 1052.09L276.05 1049.8L276.17 1047.52L276.29 1045.29L276.41 1043.18L276.52 1041.22L276.64 1039.48L276.76 1038L276.87 1036.8L276.99 1035.92L277.11 1035.39L277.22 1035.21L277.34 1035.39L277.46 1035.92L277.57 1036.8L277.69 1038L277.81 1039.48L277.92 1041.23L278.04 1043.18L278.16 1045.3L278.27 1047.52L278.39 1049.81L278.51 1052.09L278.62 1054.32L278.74 1056.43L278.86 1058.38L278.97 1060.13L279.09 1061.61L279.21 1062.81L279.32 1063.69L279.44 1064.22L279.56 1064.4L279.67 1064.22L279.79 1063.69L279.91 1062.81L280.02 1061.61L280.14 1060.13L280.26 1058.38L280.37 1056.43L280.49 1054.32L280.61 1052.09L280.72 1049.81L280.84 1047.53L280.96 1045.3L281.07 1043.18L281.19 1041.23L281.31 1039.49L281.42 1038L281.54 1036.81L281.66 1035.93L281.77 1035.4L281.89 1035.22L282.01 1035.4L282.12 1035.93L282.24 1036.81L282.36 1038.01L282.47 1039.49L282.59 1041.23L282.71 1043.19L282.83 1045.3L282.94 1047.53L283.06 1049.81L283.18 1052.09L283.29 1054.32L283.41 1056.43L283.53 1058.39L283.64 1060.13L283.76 1061.61L283.88 1062.81L283.99 1063.69L284.11 1064.22L284.23 1064.4L284.34 1064.22L284.46 1063.69L284.58 1062.81L284.69 1061.61L284.81 1060.13L284.93 1058.39L285.04 1056.43L285.16 1054.32L285.28 1052.09L285.39 1049.81L285.51 1047.53L285.63 1045.3L285.74 1043.19L285.86 1041.24L285.98 1039.5L286.09 1038.01L286.21 1036.82L286.33 1035.94L286.44 1035.41L286.56 1035.23L286.68 1035.41L286.79 1035.94L286.91 1036.82L287.03 1038.01L287.14 1039.5L287.26 1041.24L287.38 1043.19L287.49 1045.31L287.61 1047.53L287.73 1049.81L287.84 1052.1L287.96 1054.32L288.08 1056.44L288.19 1058.39L288.31 1060.13L288.43 1061.61L288.54 1062.81L288.66 1063.69L288.78 1064.22L288.9 1064.4L289.01 1064.22L289.13 1063.69L289.25 1062.81L289.36 1061.61L289.48 1060.13L289.6 1058.39L289.71 1056.44L289.83 1054.32L289.95 1052.1L290.06 1049.82L290.18 1047.54L290.3 1045.31L290.41 1043.2L290.53 1041.25L290.65 1039.51L290.76 1038.02L290.88 1036.83L291 1035.95L291.11 1035.42L291.23 1035.24L291.35 1035.42L291.46 1035.95L291.58 1036.83L291.7 1038.02L291.81 1039.51L291.93 1041.25L292.05 1043.2L292.16 1045.31L292.28 1047.54L292.4 1049.82L292.51 1052.1L292.63 1054.33L292.75 1056.44L292.86 1058.39L292.98 1060.13L293.1 1061.62L293.21 1062.81L293.33 1063.69L293.45 1064.22L293.56 1064.4L293.68 1064.22L293.8 1063.69L293.91 1062.81L294.03 1061.62L294.15 1060.13L294.26 1058.39L294.38 1056.44L294.5 1054.33L294.61 1052.1L294.73 1049.82L294.85 1047.54L294.96 1045.32L295.08 1043.2L295.2 1041.25L295.32 1039.51L295.43 1038.03L295.55 1036.83L295.67 1035.96L295.78 1035.42L295.9 1035.25L296.02 1035.43L296.13 1035.96L296.25 1036.84L296.37 1038.03L296.48 1039.52L296.6 1041.26L296.72 1043.21L296.83 1045.32L296.95 1047.54L297.07 1049.82L297.18 1052.1L297.3 1054.33L297.42 1056.44L297.53 1058.39L297.65 1060.13L297.77 1061.62L297.88 1062.81L298 1063.69L298.12 1064.22L298.23 1064.4L298.35 1064.22L298.47 1063.69L298.58 1062.81L298.7 1061.62L298.82 1060.13L298.93 1058.39L299.05 1056.44L299.17 1054.33L299.28 1052.11L299.4 1049.83L299.52 1047.55L299.63 1045.32L299.75 1043.21L299.87 1041.26L299.98 1039.52L300.1 1038.04L300.22 1036.84L300.33 1035.97L300.45 1035.43L300.57 1035.25L300.68 1035.43L300.8 1035.97L300.92 1036.84L301.03 1038.04L301.15 1039.52L301.27 1041.26L301.38 1043.21L301.5 1045.33L301.62 1047.55L301.74 1049.83L301.85 1052.11L301.97 1054.33L302.09 1056.44L302.2 1058.39L302.32 1060.13L302.44 1061.62L302.55 1062.81L302.67 1063.69L302.79 1064.22L302.9 1064.4L303.02 1064.22L303.14 1063.69L303.25 1062.81L303.37 1061.62L303.49 1060.13L303.6 1058.39L303.72 1056.44L303.84 1054.33L303.95 1052.11L304.07 1049.83L304.19 1047.55L304.3 1045.33L304.42 1043.22L304.54 1041.27L304.65 1039.53L304.77 1038.05L304.89 1036.85L305 1035.98L305.12 1035.44L305.24 1035.26L305.35 1035.44L305.47 1035.98L305.59 1036.85L305.7 1038.05L305.82 1039.53L305.94 1041.27L306.05 1043.22L306.17 1045.33L306.29 1047.55L306.4 1049.83L306.52 1052.11L306.64 1054.33L306.75 1056.45L306.87 1058.4L306.99 1060.13L307.1 1061.62L307.22 1062.81L307.34 1063.69L307.45 1064.22L307.57 1064.4L307.69 1064.22L307.8 1063.69L307.92 1062.81L308.04 1061.62L308.16 1060.13L308.27 1058.4L308.39 1056.45L308.51 1054.34L308.62 1052.11L308.74 1049.84L308.86 1047.56L308.97 1045.34L309.09 1043.22L309.21 1041.28L309.32 1039.54L309.44 1038.05L309.56 1036.86L309.67 1035.99L309.79 1035.45L309.91 1035.27L310.02 1035.45L310.14 1035.99L310.26 1036.86L310.37 1038.06L310.49 1039.54L310.61 1041.28L310.72 1043.23L310.84 1045.34L310.96 1047.56L311.07 1049.84L311.19 1052.12L311.31 1054.34L311.42 1056.45L311.54 1058.4L311.66 1060.13L311.77 1061.62L311.89 1062.81L312.01 1063.69L312.12 1064.22L312.24 1064.4L312.36 1064.22L312.47 1063.69L312.59 1062.81L312.71 1061.62L312.82 1060.14L312.94 1058.4L313.06 1056.45L313.17 1054.34L313.29 1052.12L313.41 1049.84L313.52 1047.56L313.64 1045.34L313.76 1043.23L313.87 1041.28L313.99 1039.55L314.11 1038.06L314.23 1036.87L314.34 1035.99L314.46 1035.46L314.58 1035.28L314.69 1035.46L314.81 1036L314.93 1036.87L315.04 1038.06L315.16 1039.55L315.28 1041.28L315.39 1043.23L315.51 1045.34L315.63 1047.56L315.74 1049.84L315.86 1052.12L315.98 1054.34L316.09 1056.45L316.21 1058.4L316.33 1060.14L316.44 1061.62L316.56 1062.81L316.68 1063.69L316.79 1064.22L316.91 1064.4L317.03 1064.22L317.14 1063.69L317.26 1062.81L317.38 1061.62L317.49 1060.14L317.61 1058.4L317.73 1056.45L317.84 1054.34L317.96 1052.12L318.08 1049.84L318.19 1047.57L318.31 1045.35L318.43 1043.24L318.54 1041.29L318.66 1039.55L318.78 1038.07L318.89 1036.88L319.01 1036L319.13 1035.47L319.24 1035.29L319.36 1035.47L319.48 1036L319.59 1036.88L319.71 1038.07L319.83 1039.56L319.94 1041.29L320.06 1043.24L320.18 1045.35L320.29 1047.57L320.41 1049.85L320.53 1052.12L320.65 1054.34L320.76 1056.45L320.88 1058.4L321 1060.14L321.11 1061.62L321.23 1062.81L321.35 1063.69L321.46 1064.22L321.58 1064.4L321.7 1064.22L321.81 1063.69L321.93 1062.81L322.05 1061.62L322.16 1060.14L322.28 1058.4L322.4 1056.46L322.51 1054.35L322.63 1052.13L322.75 1049.85L322.86 1047.57L322.98 1045.35L323.1 1043.24L323.21 1041.3L323.33 1039.56L323.45 1038.08L323.56 1036.89L323.68 1036.01L323.8 1035.48L323.91 1035.3L324.03 1035.48L324.15 1036.01L324.26 1036.89L324.38 1038.08L324.5 1039.56L324.61 1041.3L324.73 1043.25L324.85 1045.36L324.96 1047.58L325.08 1049.85L325.2 1052.13L325.31 1054.35L325.43 1056.46L325.55 1058.4L325.66 1060.14L325.78 1061.62L325.9 1062.81L326.01 1063.69L326.13 1064.22L326.25 1064.4L326.36 1064.22L326.48 1063.69L326.6 1062.81L326.71 1061.62L326.83 1060.14L326.95 1058.4L327.07 1056.46L327.18 1054.35L327.3 1052.13L327.42 1049.85L327.53 1047.58L327.65 1045.36L327.77 1043.25L327.88 1041.3L328 1039.57L328.12 1038.09L328.23 1036.89L328.35 1036.02L328.47 1035.49L328.58 1035.31L328.7 1035.49L328.82 1036.02L328.93 1036.9L329.05 1038.09L329.17 1039.57L329.28 1041.31L329.4 1043.25L329.52 1045.36L329.63 1047.58L329.75 1049.86L329.87 1052.13L329.98 1054.35L330.1 1056.46L330.22 1058.41L330.33 1060.14L330.45 1061.62L330.57 1062.81L330.68 1063.69L330.8 1064.22L330.92 1064.4L331.03 1064.22L331.15 1063.69L331.27 1062.81L331.38 1061.62L331.5 1060.14L331.62 1058.41L331.73 1056.46L331.85 1054.35L331.97 1052.13L332.08 1049.86L332.2 1047.58L332.32 1045.37L332.43 1043.26L332.55 1041.31L332.67 1039.58L332.78 1038.1L332.9 1036.9L333.02 1036.03L333.13 1035.5L333.25 1035.32L333.37 1035.5L333.49 1036.03L333.6 1036.9L333.72 1038.1L333.84 1039.58L333.95 1041.31L334.07 1043.26L334.19 1045.37L334.3 1047.59L334.42 1049.86L334.54 1052.14L334.65 1054.35L334.77 1056.46L334.89 1058.41L335 1060.14L335.12 1061.62L335.24 1062.82L335.35 1063.69L335.47 1064.22L335.59 1064.4L335.7 1064.22L335.82 1063.69L335.94 1062.82L336.05 1061.62L336.17 1060.14L336.29 1058.41L336.4 1056.46L336.52 1054.36L336.64 1052.14L336.75 1049.86L336.87 1047.59L336.99 1045.37L337.1 1043.26L337.22 1041.32L337.34 1039.59L337.45 1038.1L337.57 1036.91L337.69 1036.04L337.8 1035.51L337.92 1035.33L338.04 1035.51L338.15 1036.04L338.27 1036.91L338.39 1038.11L338.5 1039.59L338.62 1041.32L338.74 1043.27L338.85 1045.37L338.97 1047.59L339.09 1049.87L339.2 1052.14L339.32 1054.36L339.44 1056.46L339.56 1058.41L339.67 1060.14L339.79 1061.62L339.91 1062.82L340.02 1063.69L340.14 1064.22L340.26 1064.4L340.37 1064.22L340.49 1063.69L340.61 1062.82L340.72 1061.62L340.84 1060.14L340.96 1058.41L341.07 1056.47L341.19 1054.36L341.31 1052.14L341.42 1049.87L341.54 1047.59L341.66 1045.38L341.77 1043.27L341.89 1041.33L342.01 1039.59L342.12 1038.11L342.24 1036.92L342.36 1036.05L342.47 1035.52L342.59 1035.34L342.71 1035.52L342.82 1036.05L342.94 1036.92L343.06 1038.11L343.17 1039.59L343.29 1041.33L343.41 1043.27L343.52 1045.38L343.64 1047.6L343.76 1049.87L343.87 1052.14L343.99 1054.36L344.11 1056.47L344.22 1058.41L344.34 1060.14L344.46 1061.63L344.57 1062.82L344.69 1063.69L344.81 1064.22L344.92 1064.4L345.04 1064.22L345.16 1063.69L345.27 1062.82L345.39 1061.63L345.51 1060.14L345.62 1058.41L345.74 1056.47L345.86 1054.36L345.98 1052.14L346.09 1049.87L346.21 1047.6L346.33 1045.38L346.44 1043.28L346.56 1041.33L346.68 1039.6L346.79 1038.12L346.91 1036.93L347.03 1036.06L347.14 1035.53L347.26 1035.35L347.38 1035.53L347.49 1036.06L347.61 1036.93L347.73 1038.12L347.84 1039.6L347.96 1041.34L348.08 1043.28L348.19 1045.39L348.31 1047.6L348.43 1049.87L348.54 1052.15L348.66 1054.36L348.78 1056.47L348.89 1058.41L349.01 1060.15L349.13 1061.63L349.24 1062.82L349.36 1063.69L349.48 1064.22L349.59 1064.4L349.71 1064.22L349.83 1063.69L349.94 1062.82L350.06 1061.63L350.18 1060.15L350.29 1058.41L350.41 1056.47L350.53 1054.36L350.64 1052.15L350.76 1049.88L350.88 1047.61L350.99 1045.39L351.11 1043.28L351.23 1041.34L351.34 1039.61L351.46 1038.13L351.58 1036.94L351.69 1036.07L351.81 1035.53L351.93 1035.36L352.04 1035.54L352.16 1036.07L352.28 1036.94L352.4 1038.13L352.51 1039.61L352.63 1041.34L352.75 1043.29L352.86 1045.39L352.98 1047.61L353.1 1049.88L353.21 1052.15L353.33 1054.37L353.45 1056.47L353.56 1058.41L353.68 1060.15L353.8 1061.63L353.91 1062.82L354.03 1063.69L354.15 1064.22L354.26 1064.4L354.38 1064.22L354.5 1063.69L354.61 1062.82L354.73 1061.63L354.85 1060.15L354.96 1058.42L355.08 1056.47L355.2 1054.37L355.31 1052.15L355.43 1049.88L355.55 1047.61L355.66 1045.4L355.78 1043.29L355.9 1041.35L356.01 1039.62L356.13 1038.14L356.25 1036.95L356.36 1036.08L356.48 1035.54L356.6 1035.37L356.71 1035.54L356.83 1036.08L356.95 1036.95L357.06 1038.14L357.18 1039.62L357.3 1041.35L357.41 1043.29L357.53 1045.4L357.65 1047.61L357.76 1049.88L357.88 1052.15L358 1054.37L358.11 1056.47L358.23 1058.42L358.35 1060.15L358.46 1061.63L358.58 1062.82L358.7 1063.69L358.82 1064.22L358.93 1064.4L359.05 1064.22L359.17 1063.69L359.28 1062.82L359.4 1061.63L359.52 1060.15L359.63 1058.42L359.75 1056.48L359.87 1054.37L359.98 1052.16L360.1 1049.89L360.22 1047.62L360.33 1045.4L360.45 1043.3L360.57 1041.36L360.68 1039.62L360.8 1038.15L360.92 1036.96L361.03 1036.08L361.15 1035.55L361.27 1035.37L361.38 1035.55L361.5 1036.09L361.62 1036.96L361.73 1038.15L361.85 1039.63L361.97 1041.36L362.08 1043.3L362.2 1045.4L362.32 1047.62L362.43 1049.89L362.55 1052.16L362.67 1054.37L362.78 1056.48L362.9 1058.42L363.02 1060.15L363.13 1061.63L363.25 1062.82L363.37 1063.69L363.48 1064.22L363.6 1064.4L363.72 1064.22L363.83 1063.69L363.95 1062.82L364.07 1061.63L364.18 1060.15L364.3 1058.42L364.42 1056.48L364.53 1054.37L364.65 1052.16L364.77 1049.89L364.89 1047.62L365 1045.41L365.12 1043.3L365.24 1041.36L365.35 1039.63L365.47 1038.15L365.59 1036.96L365.7 1036.09L365.82 1035.56L365.94 1035.38L366.05 1035.56L366.17 1036.09L366.29 1036.97L366.4 1038.16L366.52 1039.63L366.64 1041.37L366.75 1043.31L366.87 1045.41L366.99 1047.62L367.1 1049.89L367.22 1052.16L367.34 1054.38L367.45 1056.48L367.57 1058.42L367.69 1060.15L367.8 1061.63L367.92 1062.82L368.04 1063.69L368.15 1064.22L368.27 1064.4L368.39 1064.22L368.5 1063.69L368.62 1062.82L368.74 1061.63L368.85 1060.15L368.97 1058.42L369.09 1056.48L369.2 1054.38L369.32 1052.16L369.44 1049.9L369.55 1047.63L369.67 1045.41L369.79 1043.31L369.9 1041.37L370.02 1039.64L370.14 1038.16L370.25 1036.97L370.37 1036.1L370.49 1035.57L370.6 1035.39L370.72 1035.57L370.84 1036.1L370.95 1036.97L371.07 1038.16L371.19 1039.64L371.31 1041.37L371.42 1043.31L371.54 1045.42L371.66 1047.63L371.77 1049.9L371.89 1052.17L372.01 1054.38L372.12 1056.48L372.24 1058.42L372.36 1060.15L372.47 1061.63L372.59 1062.82L372.71 1063.69L372.82 1064.22L372.94 1064.4L373.06 1064.22L373.17 1063.69L373.29 1062.82L373.41 1061.63L373.52 1060.15L373.64 1058.42L373.76 1056.48L373.87 1054.38L373.99 1052.17L374.11 1049.9L374.22 1047.63L374.34 1045.42L374.46 1043.32L374.57 1041.38L374.69 1039.65L374.81 1038.17L374.92 1036.98L375.04 1036.11L375.16 1035.58L375.27 1035.4L375.39 1035.58L375.51 1036.11L375.62 1036.98L375.74 1038.17L375.86 1039.65L375.97 1041.38L376.09 1043.32L376.21 1045.42L376.32 1047.63L376.44 1049.9L376.56 1052.17L376.67 1054.38L376.79 1056.48L376.91 1058.42L377.02 1060.15L377.14 1061.63L377.26 1062.82L377.37 1063.69L377.49 1064.22L377.61 1064.4L377.73 1064.22L377.84 1063.69L377.96 1062.82L378.08 1061.63L378.19 1060.15L378.31 1058.42L378.43 1056.49L378.54 1054.38L378.66 1052.17L378.78 1049.9L378.89 1047.64L379.01 1045.43L379.13 1043.32L379.24 1041.39L379.36 1039.66L379.48 1038.18L379.59 1036.99L379.71 1036.12L379.83 1035.59L379.94 1035.41L380.06 1035.59L380.18 1036.12L380.29 1036.99L380.41 1038.18L380.53 1039.66L380.64 1041.39L380.76 1043.33L380.88 1045.43L380.99 1047.64L381.11 1049.91L381.23 1052.17L381.34 1054.39L381.46 1056.49L381.58 1058.43L381.69 1060.16L381.81 1061.63L381.93 1062.82L382.04 1063.69L382.16 1064.22L382.28 1064.4L382.39 1064.22L382.51 1063.69L382.63 1062.82L382.74 1061.63L382.86 1060.16L382.98 1058.43L383.09 1056.49L383.21 1054.39L383.33 1052.18L383.44 1049.91L383.56 1047.64L383.68 1045.43L383.79 1043.33L383.91 1041.39L384.03 1039.66L384.15 1038.19L384.26 1037L384.38 1036.13L384.5 1035.6L384.61 1035.42L384.73 1035.6L384.85 1036.13L384.96 1037L385.08 1038.19L385.2 1039.67L385.31 1041.39L385.43 1043.33L385.55 1045.43L385.66 1047.65L385.78 1049.91L385.9 1052.18L386.01 1054.39L386.13 1056.49L386.25 1058.43L386.36 1060.16L386.48 1061.63L386.6 1062.82L386.71 1063.69L386.83 1064.22L386.95 1064.4L387.06 1064.22L387.18 1063.69L387.3 1062.82L387.41 1061.63L387.53 1060.16L387.65 1058.43L387.76 1056.49L387.88 1054.39L388 1052.18L388.11 1049.91L388.23 1047.65L388.35 1045.44L388.46 1043.34L388.58 1041.4L388.7 1039.67L388.81 1038.2L388.93 1037.01L389.05 1036.14L389.16 1035.61L389.28 1035.43L389.4 1035.61L389.51 1036.14L389.63 1037.01L389.75 1038.2L389.86 1039.67L389.98 1041.4L390.1 1043.34L390.22 1045.44L390.33 1047.65L390.45 1049.92L390.57 1052.18L390.68 1054.39L390.8 1056.49L390.92 1058.43L391.03 1060.16L391.15 1061.63L391.27 1062.82L391.38 1063.69L391.5 1064.22L391.62 1064.4L391.73 1064.22L391.85 1063.69L391.97 1062.82L392.08 1061.63L392.2 1060.16L392.32 1058.43L392.43 1056.49L392.55 1054.39L392.67 1052.18L392.78 1049.92L392.9 1047.65L393.02 1045.44L393.13 1043.34L393.25 1041.41L393.37 1039.68L393.48 1038.2L393.6 1037.02L393.72 1036.15L393.83 1035.62L393.95 1035.44L394.07 1035.62L394.18 1036.15L394.3 1037.02L394.42 1038.21L394.53 1039.68L394.65 1041.41L394.77 1043.35L394.88 1045.45L395 1047.66L395.12 1049.92L395.23 1052.19L395.35 1054.4L395.47 1056.49L395.58 1058.43L395.7 1060.16L395.82 1061.63L395.93 1062.82L396.05 1063.69L396.17 1064.22L396.28 1064.4L396.4 1064.22L396.52 1063.69L396.64 1062.82L396.75 1061.64L396.87 1060.16L396.99 1058.43L397.1 1056.5L397.22 1054.4L397.34 1052.19L397.45 1049.92L397.57 1047.66L397.69 1045.45L397.8 1043.35L397.92 1041.41L398.04 1039.69L398.15 1038.21L398.27 1037.03L398.39 1036.16L398.5 1035.63L398.62 1035.45L398.74 1035.63L398.85 1036.16L398.97 1037.03L399.09 1038.21L399.2 1039.69L399.32 1041.42L399.44 1043.35L399.55 1045.45L399.67 1047.66L399.79 1049.93L399.9 1052.19L400.02 1054.4L400.14 1056.5L400.25 1058.43L400.37 1060.16L400.49 1061.64L400.6 1062.82L400.72 1063.69L400.84 1064.22L400.95 1064.4L401.07 1064.22L401.19 1063.69L401.3 1062.82L401.42 1061.64L401.54 1060.16L401.65 1058.43L401.77 1056.5L401.89 1054.4L402 1052.19L402.12 1049.93L402.24 1047.66L402.35 1045.46L402.47 1043.36L402.59 1041.42L402.7 1039.7L402.82 1038.22L402.94 1037.03L403.06 1036.17L403.17 1035.64L403.29 1035.46L403.41 1035.64L403.52 1036.17L403.64 1037.04L403.76 1038.22L403.87 1039.7L403.99 1041.42L404.11 1043.36L404.22 1045.46L404.34 1047.67L404.46 1049.93L404.57 1052.19L404.69 1054.4L404.81 1056.5L404.92 1058.44L405.04 1060.16L405.16 1061.64L405.27 1062.82L405.39 1063.69L405.51 1064.22L405.62 1064.4L405.74 1064.22L405.86 1063.69L405.97 1062.82L406.09 1061.64L406.21 1060.16L406.32 1058.44L406.44 1056.5L406.56 1054.4L406.67 1052.2L406.79 1049.93L406.91 1047.67L407.02 1045.46L407.14 1043.36L407.26 1041.43L407.37 1039.7L407.49 1038.23L407.61 1037.04L407.72 1036.17L407.84 1035.64L407.96 1035.47L408.07 1035.65L408.19 1036.18L408.31 1037.04L408.42 1038.23L408.54 1039.71L408.66 1041.43L408.77 1043.37L408.89 1045.46L409.01 1047.67L409.12 1049.93L409.24 1052.2L409.36 1054.4L409.48 1056.5L409.59 1058.44L409.71 1060.16L409.83 1061.64L409.94 1062.82L410.06 1063.69L410.18 1064.22L410.29 1064.4L410.41 1064.22L410.53 1063.69L410.64 1062.82L410.76 1061.64L410.88 1060.16L410.99 1058.44L411.11 1056.5L411.23 1054.41L411.34 1052.2L411.46 1049.94L411.58 1047.67L411.69 1045.47L411.81 1043.37L411.93 1041.44L412.04 1039.71L412.16 1038.24L412.28 1037.05L412.39 1036.18L412.51 1035.65L412.63 1035.48L412.74 1035.65L412.86 1036.18L412.98 1037.05L413.09 1038.24L413.21 1039.71L413.33 1041.44L413.44 1043.37L413.56 1045.47L413.68 1047.68L413.79 1049.94L413.91 1052.2L414.03 1054.41L414.14 1056.5L414.26 1058.44L414.38 1060.16L414.49 1061.64L414.61 1062.82L414.73 1063.69L414.84 1064.22L414.96 1064.4L415.08 1064.22L415.19 1063.69L415.31 1062.82L415.43 1061.64L415.55 1060.17L415.66 1058.44L415.78 1056.51L415.9 1054.41L416.01 1052.2L416.13 1049.94L416.25 1047.68L416.36 1045.47L416.48 1043.38L416.6 1041.44L416.71 1039.72L416.83 1038.25L416.95 1037.06L417.06 1036.19L417.18 1035.66L417.3 1035.49L417.41 1035.66L417.53 1036.19L417.65 1037.06L417.76 1038.25L417.88 1039.72L418 1041.45L418.11 1043.38L418.23 1045.48L418.35 1047.68L418.46 1049.94L418.58 1052.21L418.7 1054.41L418.81 1056.51L418.93 1058.44L419.05 1060.17L419.16 1061.64L419.28 1062.82L419.4 1063.69L419.51 1064.22L419.63 1064.4L419.75 1064.22L419.86 1063.69L419.98 1062.82L420.1 1061.64L420.21 1060.17L420.33 1058.44L420.45 1056.51L420.56 1054.41L420.68 1052.21L420.8 1049.95L420.91 1047.69L421.03 1045.48L421.15 1043.38L421.26 1041.45L421.38 1039.73L421.5 1038.25L421.61 1037.07L421.73 1036.2L421.85 1035.67L421.97 1035.49L422.08 1035.67L422.2 1036.2L422.32 1037.07L422.43 1038.26L422.55 1039.73L422.67 1041.45L422.78 1043.39L422.9 1045.48L423.02 1047.69L423.13 1049.95L423.25 1052.21L423.37 1054.41L423.48 1056.51L423.6 1058.44L423.72 1060.17L423.83 1061.64L423.95 1062.82L424.07 1063.69L424.18 1064.22L424.3 1064.4L424.42 1064.22L424.53 1063.69L424.65 1062.83L424.77 1061.64L424.88 1060.17L425 1058.44L425.12 1056.51L425.23 1054.42L425.35 1052.21L425.47 1049.95L425.58 1047.69L425.7 1045.49L425.82 1043.39L425.93 1041.46L426.05 1039.73L426.17 1038.26L426.28 1037.08L426.4 1036.21L426.52 1035.68L426.63 1035.5L426.75 1035.68L426.87 1036.21L426.98 1037.08L427.1 1038.26L427.22 1039.74L427.33 1041.46L427.45 1043.39L427.57 1045.49L427.68 1047.69L427.8 1049.95L427.92 1052.21L428.03 1054.42L428.15 1056.51L428.27 1058.44L428.39 1060.17L428.5 1061.64L428.62 1062.83L428.74 1063.69L428.85 1064.22L428.97 1064.4L429.09 1064.22L429.2 1063.69L429.32 1062.83L429.44 1061.64L429.55 1060.17L429.67 1058.45L429.79 1056.51L429.9 1054.42L430.02 1052.21L430.14 1049.96L430.25 1047.7L430.37 1045.49L430.49 1043.4L430.6 1041.47L430.72 1039.74L430.84 1038.27L430.95 1037.09L431.07 1036.22L431.19 1035.69L431.3 1035.51L431.42 1035.69L431.54 1036.22L431.65 1037.09L431.77 1038.27L431.89 1039.74L432 1041.47L432.12 1043.4L432.24 1045.49L432.35 1047.7L432.47 1049.96L432.59 1052.22L432.7 1054.42L432.82 1056.51L432.94 1058.45L433.05 1060.17L433.17 1061.64L433.29 1062.83L433.4 1063.69L433.52 1064.22L433.64 1064.4L433.75 1064.22L433.87 1063.69L433.99 1062.83L434.1 1061.64L434.22 1060.17L434.34 1058.45L434.45 1056.52L434.57 1054.42L434.69 1052.22L434.81 1049.96L434.92 1047.7L435.04 1045.5L435.16 1043.41L435.27 1041.47L435.39 1039.75L435.51 1038.28L435.62 1037.1L435.74 1036.23L435.86 1035.7L435.97 1035.52L436.09 1035.7L436.21 1036.23L436.32 1037.1L436.44 1038.28L436.56 1039.75L436.67 1041.48L436.79 1043.41L436.91 1045.5L437.02 1047.7L437.14 1049.96L437.26 1052.22L437.37 1054.42L437.49 1056.52L437.61 1058.45L437.72 1060.17L437.84 1061.64L437.96 1062.83L438.07 1063.69L438.19 1064.22L438.31 1064.4L438.42 1064.22L438.54 1063.69L438.66 1062.83L438.77 1061.64L438.89 1060.17L439.01 1058.45L439.12 1056.52L439.24 1054.43L439.36 1052.22L439.47 1049.96L439.59 1047.71L439.71 1045.5L439.82 1043.41L439.94 1041.48L440.06 1039.76L440.17 1038.29L440.29 1037.1L440.41 1036.24L440.52 1035.71L440.64 1035.53L440.76 1035.71L440.88 1036.24L440.99 1037.11L441.11 1038.29L441.23 1039.76L441.34 1041.48L441.46 1043.41L441.58 1045.51L441.69 1047.71L441.81 1049.97L441.93 1052.22L442.04 1054.43L442.16 1056.52L442.28 1058.45L442.39 1060.17L442.51 1061.64L442.63 1062.83L442.74 1063.69L442.86 1064.22L442.98 1064.4L443.09 1064.22L443.21 1063.69L443.33 1062.83L443.44 1061.64L443.56 1060.17L443.68 1058.45L443.79 1056.52L443.91 1054.43L444.03 1052.23L444.14 1049.97L444.26 1047.71L444.38 1045.51L444.49 1043.42L444.61 1041.49L444.73 1039.77L444.84 1038.3L444.96 1037.11L445.08 1036.25L445.19 1035.72L445.31 1035.54L445.43 1035.72L445.54 1036.25L445.66 1037.11L445.78 1038.3L445.89 1039.77L446.01 1041.49L446.13 1043.42L446.24 1045.51L446.36 1047.71L446.48 1049.97L446.59 1052.23L446.71 1054.43L446.83 1056.52L446.94 1058.45L447.06 1060.17L447.18 1061.64L447.3 1062.83L447.41 1063.69L447.53 1064.22L447.65 1064.4L447.76 1064.22L447.88 1063.69L448 1062.83L448.11 1061.64L448.23 1060.17L448.35 1058.45L448.46 1056.52L448.58 1054.43L448.7 1052.23L448.81 1049.97L448.93 1047.72L449.05 1045.52L449.16 1043.43L449.28 1041.5L449.4 1039.77L449.51 1038.3L449.63 1037.12L449.75 1036.26L449.86 1035.73L449.98 1035.55L450.1 1035.73L450.21 1036.26L450.33 1037.12L450.45 1038.31L450.56 1039.78L450.68 1041.5L450.8 1043.43L450.91 1045.52L451.03 1047.72L451.15 1049.98L451.26 1052.23L451.38 1054.43L451.5 1056.52L451.61 1058.45L451.73 1060.18L451.85 1061.65L451.96 1062.83L452.08 1063.69L452.2 1064.22L452.31 1064.4L452.43 1064.22L452.55 1063.69L452.66 1062.83L452.78 1061.65L452.9 1060.18L453.01 1058.46L453.13 1056.53L453.25 1054.43L453.36 1052.23L453.48 1049.98L453.6 1047.72L453.72 1045.52L453.83 1043.43L453.95 1041.5L454.07 1039.78L454.18 1038.31L454.3 1037.13L454.42 1036.26L454.53 1035.74L454.65 1035.56L454.77 1035.74L454.88 1036.27L455 1037.13L455.12 1038.31L455.23 1039.78L455.35 1041.5L455.47 1043.43L455.58 1045.52L455.7 1047.73L455.82 1049.98L455.93 1052.24L456.05 1054.44L456.17 1056.53L456.28 1058.46L456.4 1060.18L456.52 1061.65L456.63 1062.83L456.75 1063.69L456.87 1064.22L456.98 1064.4L457.1 1064.22L457.22 1063.69L457.33 1062.83L457.45 1061.65L457.57 1060.18L457.68 1058.46L457.8 1056.53L457.92 1054.44L458.03 1052.24L458.15 1049.98L458.27 1047.73L458.38 1045.53L458.5 1043.44L458.62 1041.51L458.73 1039.79L458.85 1038.32L458.97 1037.14L459.08 1036.27L459.2 1035.75L459.32 1035.57L459.43 1035.75L459.55 1036.27L459.67 1037.14L459.78 1038.32L459.9 1039.79L460.02 1041.51L460.14 1043.44L460.25 1045.53L460.37 1047.73L460.49 1049.99L460.6 1052.24L460.72 1054.44L460.84 1056.53L460.95 1058.46L461.07 1060.18L461.19 1061.65L461.3 1062.83L461.42 1063.69L461.54 1064.22L461.65 1064.4L461.77 1064.22L461.89 1063.69L462 1062.83L462.12 1061.65L462.24 1060.18L462.35 1058.46L462.47 1056.53L462.59 1054.44L462.7 1052.24L462.82 1049.99L462.94 1047.73L463.05 1045.53L463.17 1043.45L463.29 1041.52L463.4 1039.8L463.52 1038.33L463.64 1037.15L463.75 1036.28L463.87 1035.76L463.99 1035.58L464.1 1035.76L464.22 1036.28L464.34 1037.15L464.45 1038.33L464.57 1039.8L464.69 1041.52L464.8 1043.45L464.92 1045.54L465.04 1047.74L465.15 1049.99L465.27 1052.24L465.39 1054.44L465.5 1056.53L465.62 1058.46L465.74 1060.18L465.85 1061.65L465.97 1062.83L466.09 1063.69L466.21 1064.22L466.32 1064.4L466.44 1064.22L466.56 1063.69L466.67 1062.83L466.79 1061.65L466.91 1060.18L467.02 1058.46L467.14 1056.53L467.26 1054.44L467.37 1052.25L467.49 1049.99L467.61 1047.74L467.72 1045.54L467.84 1043.45L467.96 1041.52L468.07 1039.81L468.19 1038.34L468.31 1037.16L468.42 1036.29L468.54 1035.76L468.66 1035.59L468.77 1035.76L468.89 1036.29L469.01 1037.16L469.12 1038.34L469.24 1039.81L469.36 1041.53L469.47 1043.45L469.59 1045.54L469.71 1047.74L469.82 1049.99L469.94 1052.25L470.06 1054.45L470.17 1056.53L470.29 1058.46L470.41 1060.18L470.52 1061.65L470.64 1062.83L470.76 1063.69L470.87 1064.22L470.99 1064.4L471.11 1064.22L471.22 1063.7L471.34 1062.83L471.46 1061.65L471.57 1060.18L471.69 1058.46L471.81 1056.54L471.92 1054.45L472.04 1052.25L472.16 1050L472.27 1047.74L472.39 1045.55L472.51 1043.46L472.63 1041.53L472.74 1039.81L472.86 1038.35L472.98 1037.17L473.09 1036.3L473.21 1035.77L473.33 1035.6L473.44 1035.77L473.56 1036.3L473.68 1037.17L473.79 1038.35L473.91 1039.82L474.03 1041.53L474.14 1043.46L474.26 1045.55L474.38 1047.75L474.49 1050L474.61 1052.25L474.73 1054.45L474.84 1056.54L474.96 1058.46L475.08 1060.18L475.19 1061.65L475.31 1062.83L475.43 1063.7L475.54 1064.22L475.66 1064.4L475.78 1064.22L475.89 1063.7L476.01 1062.83L476.13 1061.65L476.24 1060.18L476.36 1058.46L476.48 1056.54L476.59 1054.45L476.71 1052.25L476.83 1050L476.94 1047.75L477.06 1045.55L477.18 1043.47L477.29 1041.54L477.41 1039.82L477.53 1038.35L477.64 1037.17L477.76 1036.31L477.88 1035.78L477.99 1035.61L478.11 1035.78L478.23 1036.31L478.34 1037.18L478.46 1038.36L478.58 1039.82L478.69 1041.54L478.81 1043.47L478.93 1045.55L479.05 1047.75L479.16 1050L479.28 1052.26L479.4 1054.45L479.51 1056.54L479.63 1058.47L479.75 1060.18L479.86 1061.65L479.98 1062.83L480.1 1063.7L480.21 1064.22L480.33 1064.4L480.45 1064.22L480.56 1063.7L480.68 1062.83L480.8 1061.65L480.91 1060.18L481.03 1058.47L481.15 1056.54L481.26 1054.45L481.38 1052.26L481.5 1050.01L481.61 1047.75L481.73 1045.56L481.85 1043.47L481.96 1041.55L482.08 1039.83L482.2 1038.36L482.31 1037.18L482.43 1036.32L482.55 1035.79L482.66 1035.61L482.78 1035.79L482.9 1036.32L483.01 1037.18L483.13 1038.36L483.25 1039.83L483.36 1041.55L483.48 1043.47L483.6 1045.56L483.71 1047.76L483.83 1050.01L483.95 1052.26L484.06 1054.46L484.18 1056.54L484.3 1058.47L484.41 1060.19L484.53 1061.65L484.65 1062.83L484.76 1063.7L484.88 1064.22L485 1064.4L485.11 1064.22L485.23 1063.7L485.35 1062.83L485.47 1061.65L485.58 1060.19L485.7 1058.47L485.82 1056.54L485.93 1054.46L486.05 1052.26L486.17 1050.01L486.28 1047.76L486.4 1045.56L486.52 1043.48L486.63 1041.55L486.75 1039.84L486.87 1038.37L486.98 1037.19L487.1 1036.33L487.22 1035.8L487.33 1035.62L487.45 1035.8L487.57 1036.33L487.68 1037.19L487.8 1038.37L487.92 1039.84L488.03 1041.56L488.15 1043.48L488.27 1045.57L488.38 1047.76L488.5 1050.01L488.62 1052.26L488.73 1054.46L488.85 1056.54L488.97 1058.47L489.08 1060.19L489.2 1061.65L489.32 1062.83L489.43 1063.7L489.55 1064.22L489.67 1064.4L489.78 1064.22L489.9 1063.7L490.02 1062.83L490.13 1061.65L490.25 1060.19L490.37 1058.47L490.48 1056.55L490.6 1054.46L490.72 1052.27L490.83 1050.02L490.95 1047.77L491.07 1045.57L491.18 1043.49L491.3 1041.56L491.42 1039.85L491.54 1038.38L491.65 1037.2L491.77 1036.34L491.89 1035.81L492 1035.63L492.12 1035.81L492.24 1036.34L492.35 1037.2L492.47 1038.38L492.59 1039.85L492.7 1041.56L492.82 1043.49L492.94 1045.57L493.05 1047.77L493.17 1050.02L493.29 1052.27L493.4 1054.46L493.52 1056.55L493.64 1058.47L493.75 1060.19L493.87 1061.65L493.99 1062.83L494.1 1063.7L494.22 1064.22L494.34 1064.4L494.45 1064.22L494.57 1063.7L494.69 1062.83L494.8 1061.65L494.92 1060.19L495.04 1058.47L495.15 1056.55L495.27 1054.46L495.39 1052.27L495.5 1050.02L495.62 1047.77L495.74 1045.58L495.85 1043.49L495.97 1041.57L496.09 1039.85L496.2 1038.39L496.32 1037.21L496.44 1036.35L496.55 1035.82L496.67 1035.64L496.79 1035.82L496.9 1036.35L497.02 1037.21L497.14 1038.39L497.25 1039.85L497.37 1041.57L497.49 1043.49L497.6 1045.58L497.72 1047.77L497.84 1050.02L497.96 1052.27L498.07 1054.47L498.19 1056.55L498.31 1058.47L498.42 1060.19L498.54 1061.65L498.66 1062.83L498.77 1063.7L498.89 1064.22L499.01 1064.4L499.12 1064.22L499.24 1063.7L499.36 1062.83L499.47 1061.65L499.59 1060.19L499.71 1058.47L499.82 1056.55L499.94 1054.47L500.06 1052.27L500.17 1050.02L500.29 1047.78L500.41 1045.58L500.52 1043.5L500.64 1041.58L500.76 1039.86L500.87 1038.4L500.99 1037.22L501.11 1036.35L501.22 1035.83L501.34 1035.65L501.46 1035.83L501.57 1036.36L501.69 1037.22L501.81 1038.4L501.92 1039.86L502.04 1041.58L502.16 1043.5L502.27 1045.59L502.39 1047.78L502.51 1050.03L502.62 1052.28L502.74 1054.47L502.86 1056.55L502.97 1058.48L503.09 1060.19L503.21 1061.66L503.32 1062.83L503.44 1063.7L503.56 1064.22L503.67 1064.4L503.79 1064.22L503.91 1063.7L504.02 1062.83L504.14 1061.66L504.26 1060.19L504.38 1058.48L504.49 1056.55L504.61 1054.47L504.73 1052.28L504.84 1050.03L504.96 1047.78L505.08 1045.59L505.19 1043.51L505.31 1041.58L505.43 1039.87L505.54 1038.4L505.66 1037.23L505.78 1036.36L505.89 1035.84L506.01 1035.66L506.13 1035.84L506.24 1036.36L506.36 1037.23L506.48 1038.41L506.59 1039.87L506.71 1041.59L506.83 1043.51L506.94 1045.59L507.06 1047.78L507.18 1050.03L507.29 1052.28L507.41 1054.47L507.53 1056.55L507.64 1058.48L507.76 1060.19L507.88 1061.66L507.99 1062.83L508.11 1063.7L508.23 1064.22L508.34 1064.4L508.46 1064.22L508.58 1063.7L508.69 1062.83L508.81 1061.66L508.93 1060.19L509.04 1058.48L509.16 1056.56L509.28 1054.47L509.39 1052.28L509.51 1050.03L509.63 1047.79L509.74 1045.59L509.86 1043.51L509.98 1041.59L510.09 1039.88L510.21 1038.41L510.33 1037.24L510.44 1036.37L510.56 1035.85L510.68 1035.67L510.8 1035.85L510.91 1036.37L511.03 1037.24L511.15 1038.41L511.26 1039.88L511.38 1041.59L511.5 1043.51L511.61 1045.6L511.73 1047.79L511.85 1050.04L511.96 1052.28L512.08 1054.48L512.2 1056.56L512.31 1058.48L512.43 1060.19L512.55 1061.66L512.66 1062.83L512.78 1063.7L512.9 1064.22L513.01 1064.4L513.13 1064.22L513.25 1063.7L513.36 1062.83L513.48 1061.66L513.6 1060.19L513.71 1058.48L513.83 1056.56L513.95 1054.48L514.06 1052.29L514.18 1050.04L514.3 1047.79L514.41 1045.6L514.53 1043.52L514.65 1041.6L514.76 1039.88L514.88 1038.42L515 1037.24L515.11 1036.38L515.23 1035.86L515.35 1035.68L515.46 1035.86L515.58 1036.38L515.7 1037.25L515.81 1038.42L515.93 1039.89L516.05 1041.6L516.16 1043.52L516.28 1045.6L516.4 1047.79L516.51 1050.04L516.63 1052.29L516.75 1054.48L516.87 1056.56L516.98 1058.48L517.1 1060.19L517.22 1061.66L517.33 1062.84L517.45 1063.7L517.57 1064.22L517.68 1064.4L517.8 1064.22L517.92 1063.7L518.03 1062.84L518.15 1061.66L518.27 1060.19L518.38 1058.48L518.5 1056.56L518.62 1054.48L518.73 1052.29L518.85 1050.04L518.97 1047.8L519.08 1045.61L519.2 1043.53L519.32 1041.61L519.43 1039.89L519.55 1038.43L519.67 1037.25L519.78 1036.39L519.9 1035.87L520.02 1035.69L520.13 1035.87L520.25 1036.39L520.37 1037.25L520.48 1038.43L520.6 1039.89L520.72 1041.61L520.83 1043.53L520.95 1045.61L521.07 1047.8L521.18 1050.05L521.3 1052.29L521.42 1054.48L521.53 1056.56L521.65 1058.48L521.77 1060.2L521.88 1061.66L522 1062.84L522.12 1063.7L522.23 1064.22L522.35 1064.4L522.47 1064.22L522.58 1063.7L522.7 1062.84L522.82 1061.66L522.93 1060.2L523.05 1058.48L523.17 1056.56L523.29 1054.48L523.4 1052.29L523.52 1050.05L523.64 1047.8L523.75 1045.61L523.87 1043.53L523.99 1041.61L524.1 1039.9L524.22 1038.44L524.34 1037.26L524.45 1036.4L524.57 1035.87L524.69 1035.7L524.8 1035.87L524.92 1036.4L525.04 1037.26L525.15 1038.44L525.27 1039.9L525.39 1041.61L525.5 1043.53L525.62 1045.62L525.74 1047.81L525.85 1050.05L525.97 1052.3L526.09 1054.48L526.2 1056.56L526.32 1058.48L526.44 1060.2L526.55 1061.66L526.67 1062.84L526.79 1063.7L526.9 1064.22L527.02 1064.4L527.14 1064.22L527.25 1063.7L527.37 1062.84L527.49 1061.66L527.6 1060.2L527.72 1058.49L527.84 1056.57L527.95 1054.49L528.07 1052.3L528.19 1050.05L528.3 1047.81L528.42 1045.62L528.54 1043.54L528.65 1041.62L528.77 1039.91L528.89 1038.45L529 1037.27L529.12 1036.41L529.24 1035.88L529.35 1035.71L529.47 1035.88L529.59 1036.41L529.71 1037.27L529.82 1038.45L529.94 1039.91L530.06 1041.62L530.17 1043.54L530.29 1045.62L530.41 1047.81L530.52 1050.05L530.64 1052.3L530.76 1054.49L530.87 1056.57L530.99 1058.49L531.11 1060.2L531.22 1061.66L531.34 1062.84L531.46 1063.7L531.57 1064.22L531.69 1064.4L531.81 1064.22L531.92 1063.7L532.04 1062.84L532.16 1061.66L532.27 1060.2L532.39 1058.49L532.51 1056.57L532.62 1054.49L532.74 1052.3L532.86 1050.06L532.97 1047.81L533.09 1045.63L533.21 1043.55L533.32 1041.63L533.44 1039.92L533.56 1038.45L533.67 1037.28L533.79 1036.42L533.91 1035.89L534.02 1035.72L534.14 1035.89L534.26 1036.42L534.37 1037.28L534.49 1038.46L534.61 1039.92L534.72 1041.63L534.84 1043.55L534.96 1045.63L535.07 1047.82L535.19 1050.06L535.31 1052.3L535.42 1054.49L535.54 1056.57L535.66 1058.49L535.77 1060.2L535.89 1061.66L536.01 1062.84L536.13 1063.7L536.24 1064.22L536.36 1064.4L536.48 1064.22L536.59 1063.7L536.71 1062.84L536.83 1061.66L536.94 1060.2L537.06 1058.49L537.18 1056.57L537.29 1054.49L537.41 1052.3L537.53 1050.06L537.64 1047.82L537.76 1045.63L537.88 1043.55L537.99 1041.63L538.11 1039.92L538.23 1038.46L538.34 1037.29L538.46 1036.43L538.58 1035.9L538.69 1035.73L538.81 1035.9L538.93 1036.43L539.04 1037.29L539.16 1038.46L539.28 1039.93L539.39 1041.64L539.51 1043.55L539.63 1045.63L539.74 1047.82L539.86 1050.06L539.98 1052.31L540.09 1054.49L540.21 1056.57L540.33 1058.49L540.44 1060.2L540.56 1061.66L540.68 1062.84L540.79 1063.7L540.91 1064.22L541.03 1064.4L541.14 1064.22L541.26 1063.7L541.38 1062.84L541.49 1061.66L541.61 1060.2L541.73 1058.49L541.84 1056.57L541.96 1054.5L542.08 1052.31L542.2 1050.07L542.31 1047.82L542.43 1045.64L542.55 1043.56L542.66 1041.64L542.78 1039.93L542.9 1038.47L543.01 1037.3L543.13 1036.44L543.25 1035.91L543.36 1035.73L543.48 1035.91L543.6 1036.44L543.71 1037.3L543.83 1038.47L543.95 1039.93L544.06 1041.64L544.18 1043.56L544.3 1045.64L544.41 1047.83L544.53 1050.07L544.65 1052.31L544.76 1054.5L544.88 1056.58L545 1058.49L545.11 1060.2L545.23 1061.66L545.35 1062.84L545.46 1063.7L545.58 1064.22L545.7 1064.4L545.81 1064.22L545.93 1063.7L546.05 1062.84L546.16 1061.66L546.28 1060.2L546.4 1058.49L546.51 1056.58L546.63 1054.5L546.75 1052.31L546.86 1050.07L546.98 1047.83L547.1 1045.64L547.21 1043.57L547.33 1041.65L547.45 1039.94L547.56 1038.48L547.68 1037.31L547.8 1036.44L547.91 1035.92L548.03 1035.74L548.15 1035.92L548.26 1036.45L548.38 1037.31L548.5 1038.48L548.62 1039.94L548.73 1041.65L548.85 1043.57L548.97 1045.65L549.08 1047.83L549.2 1050.07L549.32 1052.31L549.43 1054.5L549.55 1056.58L549.67 1058.49L549.78 1060.2L549.9 1061.66L550.02 1062.84L550.13 1063.7L550.25 1064.22L550.37 1064.4L550.48 1064.22L550.6 1063.7L550.72 1062.84L550.83 1061.66L550.95 1060.2L551.07 1058.5L551.18 1056.58L551.3 1054.5L551.42 1052.32L551.53 1050.08L551.65 1047.83L551.77 1045.65L551.88 1043.57L552 1041.66L552.12 1039.95L552.23 1038.49L552.35 1037.31L552.47 1036.45L552.58 1035.93L552.7 1035.75L552.82 1035.93L552.93 1036.45L553.05 1037.32L553.17 1038.49L553.28 1039.95L553.4 1041.66L553.52 1043.58L553.63 1045.65L553.75 1047.84L553.87 1050.08L553.98 1052.32L554.1 1054.5L554.22 1056.58L554.33 1058.5L554.45 1060.21L554.57 1061.66L554.68 1062.84L554.8 1063.7L554.92 1064.22L555.04 1064.4L555.15 1064.22L555.27 1063.7L555.39 1062.84L555.5 1061.67L555.62 1060.21L555.74 1058.5L555.85 1056.58L555.97 1054.51L556.09 1052.32L556.2 1050.08L556.32 1047.84L556.44 1045.66L556.55 1043.58L556.67 1041.66L556.79 1039.96L556.9 1038.5L557.02 1037.32L557.14 1036.46L557.25 1035.94L557.37 1035.76L557.49 1035.94L557.6 1036.46L557.72 1037.32L557.84 1038.5L557.95 1039.96L558.07 1041.67L558.19 1043.58L558.3 1045.66L558.42 1047.84L558.54 1050.08L558.65 1052.32L558.77 1054.51L558.89 1056.58L559 1058.5L559.12 1060.21L559.24 1061.67L559.35 1062.84L559.47 1063.7L559.59 1064.22L559.7 1064.4L559.82 1064.22L559.94 1063.7L560.05 1062.84L560.17 1061.67L560.29 1060.21L560.4 1058.5L560.52 1056.58L560.64 1054.51L560.75 1052.32L560.87 1050.08L560.99 1047.85L561.1 1045.66L561.22 1043.59L561.34 1041.67L561.46 1039.96L561.57 1038.5L561.69 1037.33L561.81 1036.47L561.92 1035.95L562.04 1035.77L562.16 1035.95L562.27 1036.47L562.39 1037.33L562.51 1038.51L562.62 1039.97L562.74 1041.67L562.86 1043.59L562.97 1045.66L563.09 1047.85L563.21 1050.09L563.32 1052.33L563.44 1054.51L563.56 1056.59L563.67 1058.5L563.79 1060.21L563.91 1061.67L564.02 1062.84L564.14 1063.7L564.26 1064.22L564.37 1064.4L564.49 1064.22L564.61 1063.7L564.72 1062.84L564.84 1061.67L564.96 1060.21L565.07 1058.5L565.19 1056.59L565.31 1054.51L565.42 1052.33L565.54 1050.09L565.66 1047.85L565.77 1045.67L565.89 1043.59L566.01 1041.68L566.12 1039.97L566.24 1038.51L566.36 1037.34L566.47 1036.48L566.59 1035.96L566.71 1035.78L566.82 1035.96L566.94 1036.48L567.06 1037.34L567.17 1038.51L567.29 1039.97L567.41 1041.68L567.53 1043.6L567.64 1045.67L567.76 1047.85L567.88 1050.09L567.99 1052.33L568.11 1054.51L568.23 1056.59L568.34 1058.5L568.46 1060.21L568.58 1061.67L568.69 1062.84L568.81 1063.7L568.93 1064.22L569.04 1064.4L569.16 1064.22L569.28 1063.7L569.39 1062.84L569.51 1061.67L569.63 1060.21L569.74 1058.5L569.86 1056.59L569.98 1054.51L570.09 1052.33L570.21 1050.09L570.33 1047.86L570.44 1045.67L570.56 1043.6L570.68 1041.69L570.79 1039.98L570.91 1038.52L571.03 1037.35L571.14 1036.49L571.26 1035.97L571.38 1035.79L571.49 1035.97L571.61 1036.49L571.73 1037.35L571.84 1038.52L571.96 1039.98L572.08 1041.69L572.19 1043.6L572.31 1045.68L572.43 1047.86L572.54 1050.1L572.66 1052.33L572.78 1054.52L572.89 1056.59L573.01 1058.5L573.13 1060.21L573.24 1061.67L573.36 1062.84L573.48 1063.7L573.59 1064.22L573.71 1064.4L573.83 1064.22L573.95 1063.7L574.06 1062.84L574.18 1061.67L574.3 1060.21L574.41 1058.5L574.53 1056.59L574.65 1054.52L574.76 1052.34L574.88 1050.1L575 1047.86L575.11 1045.68L575.23 1043.61L575.35 1041.69L575.46 1039.99L575.58 1038.53L575.7 1037.36L575.81 1036.5L575.93 1035.98L576.05 1035.8L576.16 1035.98L576.28 1036.5L576.4 1037.36L576.51 1038.53L576.63 1039.99L576.75 1041.7L576.86 1043.61L576.98 1045.68L577.1 1047.86L577.21 1050.1L577.33 1052.34L577.45 1054.52L577.56 1056.59L577.68 1058.51L577.8 1060.21L577.91 1061.67L578.03 1062.84L578.15 1063.7L578.26 1064.22L578.38 1064.4L578.5 1064.22L578.61 1063.7L578.73 1062.84L578.85 1061.67L578.96 1060.21L579.08 1058.51L579.2 1056.59L579.31 1054.52L579.43 1052.34L579.55 1050.1L579.66 1047.87L579.78 1045.69L579.9 1043.61L580.01 1041.7L580.13 1039.99L580.25 1038.54L580.37 1037.37L580.48 1036.51L580.6 1035.98L580.72 1035.81L580.83 1035.98L580.95 1036.51L581.07 1037.37L581.18 1038.54L581.3 1040L581.42 1041.7L581.53 1043.62L581.65 1045.69L581.77 1047.87L581.88 1050.11L582 1052.34L582.12 1054.52L582.23 1056.6L582.35 1058.51L582.47 1060.21L582.58 1061.67L582.7 1062.84L582.82 1063.7L582.93 1064.22L583.05 1064.4L583.17 1064.22L583.28 1063.7L583.4 1062.84L583.52 1061.67L583.63 1060.21L583.75 1058.51L583.87 1056.6L583.98 1054.52L584.1 1052.34L584.22 1050.11L584.33 1047.87L584.45 1045.69L584.57 1043.62L584.68 1041.71L584.8 1040L584.92 1038.55L585.03 1037.37L585.15 1036.52L585.27 1035.99L585.38 1035.82L585.5 1035.99L585.62 1036.52L585.73 1037.38L585.85 1038.55L585.97 1040L586.08 1041.71L586.2 1043.62L586.32 1045.69L586.43 1047.87L586.55 1050.11L586.67 1052.35L586.79 1054.53L586.9 1056.6L587.02 1058.51L587.14 1060.21L587.25 1061.67L587.37 1062.84L587.49 1063.7L587.6 1064.22L587.72 1064.4L587.84 1064.22L587.95 1063.7L588.07 1062.84L588.19 1061.67L588.3 1060.22L588.42 1058.51L588.54 1056.6L588.65 1054.53L588.77 1052.35L588.89 1050.11L589 1047.88L589.12 1045.7L589.24 1043.63L589.35 1041.72L589.47 1040.01L589.59 1038.55L589.7 1037.38L589.82 1036.53L589.94 1036L590.05 1035.83L590.17 1036L590.29 1036.53L590.4 1037.38L590.52 1038.56L590.64 1040.01L590.75 1041.72L590.87 1043.63L590.99 1045.7L591.1 1047.88L591.22 1050.11L591.34 1052.35L591.45 1054.53L591.57 1056.6L591.69 1058.51L591.8 1060.22L591.92 1061.67L592.04 1062.84L592.15 1063.7L592.27 1064.22L592.39 1064.4L592.5 1064.22L592.62 1063.7L592.74 1062.84L592.86 1061.67L592.97 1060.22L593.09 1058.51L593.21 1056.6L593.32 1054.53L593.44 1052.35L593.56 1050.12L593.67 1047.88L593.79 1045.7L593.91 1043.63L594.02 1041.72L594.14 1040.02L594.26 1038.56L594.37 1037.39L594.49 1036.53L594.61 1036.01L594.72 1035.84L594.84 1036.01L594.96 1036.54L595.07 1037.39L595.19 1038.56L595.31 1040.02L595.42 1041.72L595.54 1043.64L595.66 1045.71L595.77 1047.89L595.89 1050.12L596.01 1052.35L596.12 1054.53L596.24 1056.6L596.36 1058.51L596.47 1060.22L596.59 1061.67L596.71 1062.84L596.82 1063.7L596.94 1064.22L597.06 1064.4L597.17 1064.22L597.29 1063.7L597.41 1062.84L597.52 1061.67L597.64 1060.22L597.76 1058.51L597.87 1056.6L597.99 1054.53L598.11 1052.36L598.22 1050.12L598.34 1047.89L598.46 1045.71L598.57 1043.64L598.69 1041.73L598.81 1040.03L598.92 1038.57L599.04 1037.4L599.16 1036.54L599.28 1036.02L599.39 1035.85L599.51 1036.02L599.63 1036.54L599.74 1037.4L599.86 1038.57L599.98 1040.03L600.09 1041.73L600.21 1043.64L600.33 1045.71L600.44 1047.89L600.56 1050.12L600.68 1052.36L600.79 1054.54L600.91 1056.61L601.03 1058.52L601.14 1060.22L601.26 1061.67L601.38 1062.84L601.49 1063.7L601.61 1064.22L601.73 1064.4L601.84 1064.22L601.96 1063.7L602.08 1062.84L602.19 1061.67L602.31 1060.22L602.43 1058.52L602.54 1056.61L602.66 1054.54L602.78 1052.36L602.89 1050.13L603.01 1047.89L603.13 1045.72L603.24 1043.65L603.36 1041.74L603.48 1040.03L603.59 1038.58L603.71 1037.41L603.83 1036.55L603.94 1036.03L604.06 1035.85L604.18 1036.03L604.29 1036.55L604.41 1037.41L604.53 1038.58L604.64 1040.04L604.76 1041.74L604.88 1043.65L604.99 1045.72L605.11 1047.9L605.23 1050.13L605.34 1052.36L605.46 1054.54L605.58 1056.61L605.7 1058.52L605.81 1060.22L605.93 1061.67L606.05 1062.84L606.16 1063.7L606.28 1064.22L606.4 1064.4L606.51 1064.22L606.63 1063.7L606.75 1062.84L606.86 1061.67L606.98 1060.22L607.1 1058.52L607.21 1056.61L607.33 1054.54L607.45 1052.36L607.56 1050.13L607.68 1047.9L607.8 1045.72L607.91 1043.65L608.03 1041.74L608.15 1040.04L608.26 1038.59L608.38 1037.42L608.5 1036.56L608.61 1036.04L608.73 1035.86L608.85 1036.04L608.96 1036.56L609.08 1037.42L609.2 1038.59L609.31 1040.04L609.43 1041.75L609.55 1043.66L609.66 1045.72L609.78 1047.9L609.9 1050.13L610.01 1052.37L610.13 1054.54L610.25 1056.61L610.36 1058.52L610.48 1060.22L610.6 1061.68L610.71 1062.85L610.83 1063.7L610.95 1064.22L611.06 1064.4L611.18 1064.22L611.3 1063.7L611.41 1062.85L611.53 1061.68L611.65 1060.22L611.76 1058.52L611.88 1056.61L612 1054.54L612.12 1052.37L612.23 1050.14L612.35 1047.9L612.47 1045.73L612.58 1043.66L612.7 1041.75L612.82 1040.05L612.93 1038.6L613.05 1037.43L613.17 1036.57L613.28 1036.05L613.4 1035.87L613.52 1036.05L613.63 1036.57L613.75 1037.43L613.87 1038.6L613.98 1040.05L614.1 1041.75L614.22 1043.66L614.33 1045.73L614.45 1047.91L614.57 1050.14L614.68 1052.37L614.8 1054.55L614.92 1056.61L615.03 1058.52L615.15 1060.22L615.27 1061.68L615.38 1062.85L615.5 1063.7L615.62 1064.22L615.73 1064.4L615.85 1064.22L615.97 1063.7L616.08 1062.85L616.2 1061.68L616.32 1060.22L616.43 1058.52L616.55 1056.61L616.67 1054.55L616.78 1052.37L616.9 1050.14L617.02 1047.91L617.13 1045.73L617.25 1043.67L617.37 1041.76L617.48 1040.06L617.6 1038.6L617.72 1037.44L617.83 1036.58L617.95 1036.06L618.07 1035.88L618.19 1036.06L618.3 1036.58L618.42 1037.44L618.54 1038.61L618.65 1040.06L618.77 1041.76L618.89 1043.67L619 1045.74L619.12 1047.91L619.24 1050.14L619.35 1052.37L619.47 1054.55L619.59 1056.62L619.7 1058.52L619.82 1060.22L619.94 1061.68L620.05 1062.85L620.17 1063.7L620.29 1064.22L620.4 1064.4L620.52 1064.22L620.64 1063.7L620.75 1062.85L620.87 1061.68L620.99 1060.22L621.1 1058.52L621.22 1056.62L621.34 1054.55L621.45 1052.37L621.57 1050.14L621.69 1047.91L621.8 1045.74L621.92 1043.67L622.04 1041.77L622.15 1040.07L622.27 1038.61L622.39 1037.44L622.5 1036.59L622.62 1036.07L622.74 1035.89L622.85 1036.07L622.97 1036.59L623.09 1037.45L623.2 1038.61L623.32 1040.07L623.44 1041.77L623.55 1043.68L623.67 1045.74L623.79 1047.92L623.9 1050.15L624.02 1052.38L624.14 1054.55L624.25 1056.62L624.37 1058.52L624.49 1060.23L624.61 1061.68L624.72 1062.85L624.84 1063.7L624.96 1064.22L625.07 1064.4L625.19 1064.22L625.31 1063.7L625.42 1062.85L625.54 1061.68L625.66 1060.23L625.77 1058.53L625.89 1056.62L626.01 1054.55L626.12 1052.38L626.24 1050.15L626.36 1047.92L626.47 1045.75L626.59 1043.68L626.71 1041.77L626.82 1040.07L626.94 1038.62L627.06 1037.45L627.17 1036.6L627.29 1036.08L627.41 1035.9L627.52 1036.08L627.64 1036.6L627.76 1037.45L627.87 1038.62L627.99 1040.08L628.11 1041.78L628.22 1043.68L628.34 1045.75L628.46 1047.92L628.57 1050.15L628.69 1052.38L628.81 1054.55L628.92 1056.62L629.04 1058.53L629.16 1060.23L629.27 1061.68L629.39 1062.85L629.51 1063.7L629.62 1064.22L629.74 1064.4L629.86 1064.22L629.97 1063.7L630.09 1062.85L630.21 1061.68L630.32 1060.23L630.44 1058.53L630.56 1056.62L630.67 1054.56L630.79 1052.38L630.91 1050.15L631.03 1047.93L631.14 1045.75L631.26 1043.69L631.38 1041.78L631.49 1040.08L631.61 1038.63L631.73 1037.46L631.84 1036.61L631.96 1036.09L632.08 1035.91L632.19 1036.09L632.31 1036.61L632.43 1037.46L632.54 1038.63L632.66 1040.08L632.78 1041.78L632.89 1043.69L633.01 1045.75L633.13 1047.93L633.24 1050.16L633.36 1052.38L633.48 1054.56L633.59 1056.62L633.71 1058.53L633.83 1060.23L633.94 1061.68L634.06 1062.85L634.18 1063.7L634.29 1064.22L634.41 1064.4L634.53 1064.22L634.64 1063.7L634.76 1062.85L634.88 1061.68L634.99 1060.23L635.11 1058.53L635.23 1056.62L635.34 1054.56L635.46 1052.39L635.58 1050.16L635.69 1047.93L635.81 1045.76L635.93 1043.69L636.04 1041.79L636.16 1040.09L636.28 1038.64L636.39 1037.47L636.51 1036.62L636.63 1036.09L636.74 1035.92L636.86 1036.09L636.98 1036.62L637.09 1037.47L637.21 1038.64L637.33 1040.09L637.45 1041.79L637.56 1043.7L637.68 1045.76L637.8 1047.93L637.91 1050.16L638.03 1052.39L638.15 1054.56L638.26 1056.63L638.38 1058.53L638.5 1060.23L638.61 1061.68L638.73 1062.85L638.85 1063.7L638.96 1064.22L639.08 1064.4L639.2 1064.22L639.31 1063.7L639.43 1062.85L639.55 1061.68L639.66 1060.23L639.78 1058.53L639.9 1056.63L640.01 1054.56L640.13 1052.39L640.25 1050.16L640.36 1047.94L640.48 1045.76L640.6 1043.7L640.71 1041.8L640.83 1040.1L640.95 1038.65L641.06 1037.48L641.18 1036.62L641.3 1036.1L641.41 1035.93L641.53 1036.1L641.65 1036.63L641.76 1037.48L641.88 1038.65L642 1040.1L642.11 1041.8L642.23 1043.7L642.35 1045.77L642.46 1047.94L642.58 1050.17L642.7 1052.39L642.81 1054.56L642.93 1056.63L643.05 1058.53L643.16 1060.23L643.28 1061.68L643.4 1062.85L643.52 1063.7L643.63 1064.22L643.75 1064.4L643.87 1064.22L643.98 1063.7L644.1 1062.85L644.22 1061.68L644.33 1060.23L644.45 1058.53L644.57 1056.63L644.68 1054.57L644.8 1052.39L644.92 1050.17L645.03 1047.94L645.15 1045.77L645.27 1043.71L645.38 1041.8L645.5 1040.11L645.62 1038.65L645.73 1037.49L645.85 1036.63L645.97 1036.11L646.08 1035.94L646.2 1036.11L646.32 1036.63L646.43 1037.49L646.55 1038.66L646.67 1040.11L646.78 1041.81L646.9 1043.71L647.02 1045.77L647.13 1047.94L647.25 1050.17L647.37 1052.4L647.48 1054.57L647.6 1056.63L647.72 1058.53L647.83 1060.23L647.95 1061.68L648.07 1062.85L648.18 1063.7L648.3 1064.22L648.42 1064.4L648.53 1064.22L648.65 1063.7L648.77 1062.85L648.88 1061.68L649 1060.23L649.12 1058.53L649.23 1056.63L649.35 1054.57L649.47 1052.4L649.58 1050.17L649.7 1047.95L649.82 1045.78L649.94 1043.71L650.05 1041.81L650.17 1040.11L650.29 1038.66L650.4 1037.5L650.52 1036.64L650.64 1036.12L650.75 1035.95L650.87 1036.12L650.99 1036.64L651.1 1037.5L651.22 1038.66L651.34 1040.11L651.45 1041.81L651.57 1043.72L651.69 1045.78L651.8 1047.95L651.92 1050.17L652.04 1052.4L652.15 1054.57L652.27 1056.63L652.39 1058.54L652.5 1060.23L652.62 1061.68L652.74 1062.85L652.85 1063.7L652.97 1064.22L653.09 1064.4L653.2 1064.22L653.32 1063.7L653.44 1062.85L653.55 1061.68L653.67 1060.23L653.79 1058.54L653.9 1056.63L654.02 1054.57L654.14 1052.4L654.25 1050.18L654.37 1047.95L654.49 1045.78L654.6 1043.72L654.72 1041.82L654.84 1040.12L654.95 1038.67L655.07 1037.51L655.19 1036.65L655.3 1036.13L655.42 1035.96L655.54 1036.13L655.65 1036.65L655.77 1037.51L655.89 1038.67L656 1040.12L656.12 1041.82L656.24 1043.72L656.36 1045.78L656.47 1047.95L656.59 1050.18L656.71 1052.4L656.82 1054.57L656.94 1056.64L657.06 1058.54L657.17 1060.24L657.29 1061.68L657.41 1062.85L657.52 1063.7L657.64 1064.22L657.76 1064.4L657.87 1064.22L657.99 1063.7L658.11 1062.85L658.22 1061.68L658.34 1060.24L658.46 1058.54L658.57 1056.64L658.69 1054.58L658.81 1052.41L658.92 1050.18L659.04 1047.96L659.16 1045.79L659.27 1043.73L659.39 1041.82L659.51 1040.13L659.62 1038.68L659.74 1037.51L659.86 1036.66L659.97 1036.14L660.09 1035.97L660.21 1036.14L660.32 1036.66L660.44 1037.52L660.56 1038.68L660.67 1040.13L660.79 1041.83L660.91 1043.73L661.02 1045.79L661.14 1047.96L661.26 1050.18L661.37 1052.41L661.49 1054.58L661.61 1056.64L661.72 1058.54L661.84 1060.24L661.96 1061.69L662.07 1062.85L662.19 1063.7L662.31 1064.22L662.42 1064.4" stroke="#0000ff" stroke-width="2.8" fill="none" stroke-dasharray="2.9 2.24"/>
<circle cx="102.13" cy="1064.40" r="5.1"/><circle cx="105.70" cy="1050.92" r="5.1"/><circle cx="109.26" cy="1035.10" r="5.1"/><circle cx="112.83" cy="1045.82" r="5.1"/><circle cx="116.39" cy="1063.51" r="5.1"/><circle cx="119.96" cy="1055.88" r="5.1"/><circle cx="123.53" cy="1036.88" r="5.1"/><circle cx="127.09" cy="1041.20" r="5.1"/><circle cx="130.66" cy="1060.95" r="5.1"/><circle cx="134.22" cy="1060.08" r="5.1"/><circle cx="137.79" cy="1040.20" r="5.1"/><circle cx="141.36" cy="1037.60" r="5.1"/><circle cx="144.92" cy="1057.04" r="5.1"/><circle cx="148.49" cy="1063.02" r="5.1"/><circle cx="152.06" cy="1044.65" r="5.1"/><circle cx="155.62" cy="1035.47" r="5.1"/><circle cx="159.19" cy="1052.24" r="5.1"/><circle cx="162.75" cy="1064.34" r="5.1"/><circle cx="166.32" cy="1049.69" r="5.1"/><circle cx="169.89" cy="1035.05" r="5.1"/><circle cx="173.45" cy="1047.15" r="5.1"/><circle cx="177.02" cy="1063.90" r="5.1"/><circle cx="180.58" cy="1054.73" r="5.1"/><circle cx="184.15" cy="1036.40" r="5.1"/><circle cx="187.72" cy="1042.37" r="5.1"/><circle cx="191.28" cy="1061.75" r="5.1"/><circle cx="194.85" cy="1059.16" r="5.1"/><circle cx="198.41" cy="1039.35" r="5.1"/><circle cx="201.98" cy="1038.49" r="5.1"/><circle cx="205.55" cy="1058.15" r="5.1"/><circle cx="209.11" cy="1062.44" r="5.1"/><circle cx="212.68" cy="1043.55" r="5.1"/><circle cx="216.24" cy="1035.97" r="5.1"/><circle cx="219.81" cy="1053.54" r="5.1"/><circle cx="223.38" cy="1064.18" r="5.1"/><circle cx="226.94" cy="1048.48" r="5.1"/><circle cx="230.51" cy="1035.12" r="5.1"/><circle cx="234.08" cy="1048.49" r="5.1"/><circle cx="237.64" cy="1064.18" r="5.1"/><circle cx="241.21" cy="1053.56" r="5.1"/><circle cx="244.77" cy="1036.03" r="5.1"/><circle cx="248.34" cy="1043.60" r="5.1"/><circle cx="251.91" cy="1062.44" r="5.1"/><circle cx="255.47" cy="1058.17" r="5.1"/><circle cx="259.04" cy="1038.59" r="5.1"/><circle cx="262.60" cy="1039.46" r="5.1"/><circle cx="266.17" cy="1059.18" r="5.1"/><circle cx="269.74" cy="1061.76" r="5.1"/><circle cx="273.30" cy="1042.50" r="5.1"/><circle cx="276.87" cy="1036.58" r="5.1"/><circle cx="280.43" cy="1054.80" r="5.1"/><circle cx="284.00" cy="1063.90" r="5.1"/><circle cx="287.57" cy="1047.28" r="5.1"/><circle cx="291.13" cy="1035.29" r="5.1"/><circle cx="294.70" cy="1049.82" r="5.1"/><circle cx="298.27" cy="1064.34" r="5.1"/><circle cx="301.83" cy="1052.36" r="5.1"/><circle cx="305.40" cy="1035.76" r="5.1"/><circle cx="308.96" cy="1044.85" r="5.1"/><circle cx="312.53" cy="1063.04" r="5.1"/><circle cx="316.10" cy="1057.12" r="5.1"/><circle cx="319.66" cy="1037.92" r="5.1"/><circle cx="323.23" cy="1040.50" r="5.1"/><circle cx="326.79" cy="1060.14" r="5.1"/><circle cx="330.36" cy="1061.00" r="5.1"/><circle cx="333.93" cy="1041.52" r="5.1"/><circle cx="337.49" cy="1037.28" r="5.1"/><circle cx="341.06" cy="1056.01" r="5.1"/><circle cx="344.62" cy="1063.52" r="5.1"/><circle cx="348.19" cy="1046.11" r="5.1"/><circle cx="351.76" cy="1035.58" r="5.1"/><circle cx="355.32" cy="1051.15" r="5.1"/><circle cx="358.89" cy="1064.40" r="5.1"/><circle cx="362.45" cy="1051.15" r="5.1"/><circle cx="366.02" cy="1035.60" r="5.1"/><circle cx="369.59" cy="1046.14" r="5.1"/><circle cx="373.15" cy="1063.53" r="5.1"/><circle cx="376.72" cy="1056.03" r="5.1"/><circle cx="380.29" cy="1037.35" r="5.1"/><circle cx="383.85" cy="1041.60" r="5.1"/><circle cx="387.42" cy="1061.01" r="5.1"/><circle cx="390.98" cy="1060.16" r="5.1"/><circle cx="394.55" cy="1040.61" r="5.1"/><circle cx="398.12" cy="1038.07" r="5.1"/><circle cx="401.68" cy="1057.16" r="5.1"/><circle cx="405.25" cy="1063.04" r="5.1"/><circle cx="408.81" cy="1044.99" r="5.1"/><circle cx="412.38" cy="1035.97" r="5.1"/><circle cx="415.95" cy="1052.45" r="5.1"/><circle cx="419.51" cy="1064.34" r="5.1"/><circle cx="423.08" cy="1049.95" r="5.1"/><circle cx="426.64" cy="1035.56" r="5.1"/><circle cx="430.21" cy="1047.45" r="5.1"/><circle cx="433.78" cy="1063.91" r="5.1"/><circle cx="437.34" cy="1054.90" r="5.1"/><circle cx="440.91" cy="1036.88" r="5.1"/><circle cx="444.47" cy="1042.75" r="5.1"/><circle cx="448.04" cy="1061.79" r="5.1"/><circle cx="451.61" cy="1059.25" r="5.1"/><circle cx="455.17" cy="1039.78" r="5.1"/><circle cx="458.74" cy="1038.94" r="5.1"/><circle cx="462.31" cy="1058.25" r="5.1"/><circle cx="465.87" cy="1062.47" r="5.1"/><circle cx="469.44" cy="1043.91" r="5.1"/><circle cx="473.00" cy="1036.46" r="5.1"/><circle cx="476.57" cy="1053.73" r="5.1"/><circle cx="480.14" cy="1064.18" r="5.1"/><circle cx="483.70" cy="1048.75" r="5.1"/><circle cx="487.27" cy="1035.62" r="5.1"/><circle cx="490.83" cy="1048.76" r="5.1"/><circle cx="494.40" cy="1064.18" r="5.1"/><circle cx="497.97" cy="1053.74" r="5.1"/><circle cx="501.53" cy="1036.52" r="5.1"/><circle cx="505.10" cy="1043.96" r="5.1"/><circle cx="508.66" cy="1062.48" r="5.1"/><circle cx="512.23" cy="1058.28" r="5.1"/><circle cx="515.80" cy="1039.04" r="5.1"/><circle cx="519.36" cy="1039.89" r="5.1"/><circle cx="522.93" cy="1059.27" r="5.1"/><circle cx="526.49" cy="1061.80" r="5.1"/><circle cx="530.06" cy="1042.88" r="5.1"/><circle cx="533.63" cy="1037.06" r="5.1"/><circle cx="537.19" cy="1054.97" r="5.1"/><circle cx="540.76" cy="1063.91" r="5.1"/><circle cx="544.33" cy="1047.58" r="5.1"/><circle cx="547.89" cy="1035.80" r="5.1"/><circle cx="551.46" cy="1050.08" r="5.1"/><circle cx="555.02" cy="1064.35" r="5.1"/><circle cx="558.59" cy="1052.57" r="5.1"/><circle cx="562.16" cy="1036.26" r="5.1"/><circle cx="565.72" cy="1045.20" r="5.1"/><circle cx="569.29" cy="1063.06" r="5.1"/><circle cx="572.85" cy="1057.25" r="5.1"/><circle cx="576.42" cy="1038.39" r="5.1"/><circle cx="579.99" cy="1040.91" r="5.1"/><circle cx="583.55" cy="1060.21" r="5.1"/><circle cx="587.12" cy="1061.06" r="5.1"/><circle cx="590.68" cy="1041.92" r="5.1"/><circle cx="594.25" cy="1037.75" r="5.1"/><circle cx="597.82" cy="1056.16" r="5.1"/><circle cx="601.38" cy="1063.54" r="5.1"/><circle cx="604.95" cy="1046.43" r="5.1"/><circle cx="608.51" cy="1036.08" r="5.1"/><circle cx="612.08" cy="1051.38" r="5.1"/><circle cx="615.65" cy="1064.40" r="5.1"/><circle cx="619.21" cy="1051.38" r="5.1"/><circle cx="622.78" cy="1036.11" r="5.1"/><circle cx="626.35" cy="1046.46" r="5.1"/><circle cx="629.91" cy="1063.54" r="5.1"/><circle cx="633.48" cy="1056.18" r="5.1"/><circle cx="637.04" cy="1037.83" r="5.1"/><circle cx="640.61" cy="1042.00" r="5.1"/><circle cx="644.18" cy="1061.07" r="5.1"/><circle cx="647.74" cy="1060.23" r="5.1"/><circle cx="651.31" cy="1041.03" r="5.1"/><circle cx="654.87" cy="1038.53" r="5.1"/><circle cx="658.44" cy="1057.29" r="5.1"/><circle cx="662.01" cy="1063.07" r="5.1"/>
<text transform="translate(74.47 842.40) scale(0.73 1)" style="font-size:39.5px;fill:#262626;">1</text><text x="43.10" y="960.40" style="font-size:39.5px;fill:#262626;">0</text><text x="62.40" y="960.40" style="font-size:39.5px;fill:#262626;">.</text><text x="71.80" y="960.40" style="font-size:39.5px;fill:#262626;">5</text><text x="72.40" y="1078.40" style="font-size:39.5px;fill:#262626;">0</text><text x="92.30" y="1110.30" style="font-size:39.5px;fill:#262626;">0</text><text x="278.80" y="1110.30" style="font-size:39.5px;fill:#262626;">5</text><text transform="translate(458.27 1110.30) scale(0.73 1)" style="font-size:39.5px;fill:#262626;">1</text><text x="475.30" y="1110.30" style="font-size:39.5px;fill:#262626;">0</text><text transform="translate(644.77 1110.30) scale(0.73 1)" style="font-size:39.5px;fill:#262626;">1</text><text x="661.90" y="1110.30" style="font-size:39.5px;fill:#262626;">5</text><text transform="translate(31.9 946.45) rotate(-90)" text-anchor="middle" style="font-size:42.6px;fill:#262626">Population</text><path d="M339.7 1129.90L334.6 1149.60" stroke="#262626" stroke-width="2.7" stroke-linecap="round" fill="none"/><path d="M334.6 1149.60Q333.4 1155.00 336.9 1154.90Q340.2 1154.60 342.7 1149.00" stroke="#262626" stroke-width="1.9" stroke-linecap="round" fill="none"/><path d="M330.7 1137.70H343.8" stroke="#262626" stroke-width="1.5" fill="none"/><path d="M347.9 1164.90L363.4 1123.70" stroke="#262626" stroke-width="1.7"/><g stroke="#262626" fill="none"><path d="M370.6 1126.95H396.3" stroke-width="1.75"/><path d="M371.6 1127.20Q368.6 1130.10 367.4 1135.60" stroke-width="1.3"/><path d="M396.2 1126.80L394.8 1135.80" stroke-width="1.4"/><path d="M382.7 1127.60L377.2 1154.20" stroke-width="3.1"/><path d="M368.2 1154.65H384.3" stroke-width="1.45"/></g><text x="390.96" y="1161.80" style="font-size:32.6px;fill:#262626;">C</text><text transform="translate(412.07 1161.80) scale(1.1 1)" style="font-size:32.6px;fill:#262626;">P</text>
<rect x="495" y="924.90" width="157.3" height="129.70" fill="#fff" stroke="#262626" stroke-width="0.85"/><path d="M498.3 948.10H537.3" stroke="#ff0000" stroke-width="2.8"/><path d="M545.2 930.10V963.60" stroke="#000" stroke-width="1.5"/><text transform="translate(549.99 956.70) scale(0.85 1)" style="font-size:36.3px;">1</text><text x="567.12" y="956.70" style="font-size:36.3px;">;</text><text transform="translate(581.89 956.70) scale(0.85 1)" style="font-size:36.3px;">1</text><path d="M602.00 930.10L609.30 946.85L602.00 963.60" stroke="#000" stroke-width="1.4" fill="none" stroke-miterlimit="10"/><text x="614.32" y="961.20" style="font-size:27px;font-style:italic;">L</text><path d="M498.3 990.25H537.3" stroke="#0000ff" stroke-width="2.8" stroke-dasharray="2.9 2.24"/><path d="M545.2 972.25V1005.75" stroke="#000" stroke-width="1.5"/><text x="549.12" y="998.85" style="font-size:36.3px;">0</text><text x="566.00" y="998.85" style="font-size:36.3px;">2</text><text x="585.12" y="998.85" style="font-size:36.3px;">;</text><text x="599.62" y="998.85" style="font-size:36.3px;">0</text><text x="616.62" y="998.85" style="font-size:36.3px;">0</text><path d="M636.60 972.25L643.90 989.00L636.60 1005.75" stroke="#000" stroke-width="1.4" fill="none" stroke-miterlimit="10"/><circle cx="517.8" cy="1032.00" r="5.1" class="gc"/><path d="M545.2 1014.40V1047.90" stroke="#000" stroke-width="1.5"/><text x="549.12" y="1041.00" style="font-size:36.3px;">0</text><text x="566.22" y="1041.00" style="font-size:36.3px;">0</text><text x="585.12" y="1041.00" style="font-size:36.3px;">;</text><text x="599.62" y="1041.00" style="font-size:36.3px;">0</text><text x="616.40" y="1041.00" style="font-size:36.3px;">2</text><path d="M636.60 1014.40L643.90 1031.15L636.60 1047.90" stroke="#000" stroke-width="1.4" fill="none" stroke-miterlimit="10"/>
<text x="1.79" y="21.50" style="font-size:32px;" stroke="#000" stroke-width="0.8">(</text>
<text transform="translate(12.84 21.50) scale(1.12 1)" style="font-size:29.5px;font-weight:bold;">a</text>
<text x="31.07" y="21.50" style="font-size:32px;" stroke="#000" stroke-width="0.8">)</text>
<text x="1.79" y="405.80" style="font-size:32px;" stroke="#000" stroke-width="0.8">(</text>
<text transform="translate(13.78 405.80) scale(1.12 1)" style="font-size:29.5px;font-weight:bold;">b</text>
<text x="33.17" y="405.80" style="font-size:32px;" stroke="#000" stroke-width="0.8">)</text>
<text x="1.79" y="790.10" style="font-size:32px;" stroke="#000" stroke-width="0.8">(</text>
<text transform="translate(12.77 790.10) scale(1.12 1)" style="font-size:29.5px;font-weight:bold;">c</text>
<text x="29.17" y="790.10" style="font-size:32px;" stroke="#000" stroke-width="0.8">)</text>
</svg></body></html>
